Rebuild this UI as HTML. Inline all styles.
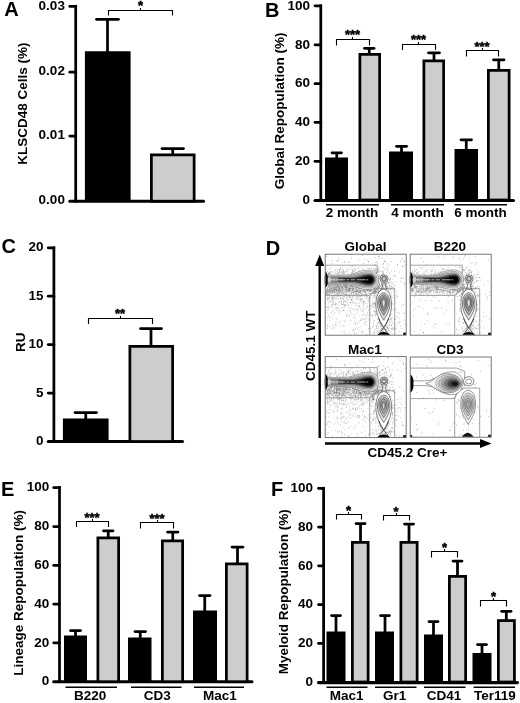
<!DOCTYPE html>
<html lang="en">
<head>
<meta charset="utf-8">
<title>Figure</title>
<style>
html,body{margin:0;padding:0;background:#fff;}
body{width:520px;height:703px;overflow:hidden;}
svg{display:block;font-family:"Liberation Sans",Arial,Helvetica,sans-serif;fill:#000;}
</style>
</head>
<body>
<svg width="520" height="703" viewBox="0 0 520 703">
<rect x="0" y="0" width="520" height="703" fill="#fff"/>
<text x="4.2" y="15.8" font-size="20" text-anchor="start" font-weight="bold">A</text>
<line x1="75.7" y1="4.92" x2="75.7" y2="202.68" stroke="#000" stroke-width="2.75" stroke-linecap="butt"/>
<line x1="69.8" y1="6.3" x2="75.7" y2="6.3" stroke="#000" stroke-width="2.75" stroke-linecap="round"/>
<line x1="69.8" y1="72.2" x2="75.7" y2="72.2" stroke="#000" stroke-width="2.75" stroke-linecap="round"/>
<line x1="69.8" y1="136" x2="75.7" y2="136" stroke="#000" stroke-width="2.75" stroke-linecap="round"/>
<line x1="69.8" y1="201.3" x2="203.5" y2="201.3" stroke="#000" stroke-width="3.05" stroke-linecap="round"/>
<text x="64.9" y="10" font-size="13.5" text-anchor="end" font-weight="bold">0.03</text>
<text x="64.9" y="74.8" font-size="13.5" text-anchor="end" font-weight="bold">0.02</text>
<text x="64.9" y="139.4" font-size="13.5" text-anchor="end" font-weight="bold">0.01</text>
<text x="64.9" y="204.2" font-size="13.5" text-anchor="end" font-weight="bold">0.00</text>
<line x1="107.5" y1="19.25" x2="107.5" y2="52.25" stroke="#000" stroke-width="2.75" stroke-linecap="butt"/>
<line x1="96.5" y1="19.25" x2="118.5" y2="19.25" stroke="#000" stroke-width="2.75" stroke-linecap="round"/>
<rect x="84.9" y="51.25" width="45.7" height="149.95" fill="#000"/>
<line x1="172.75" y1="148.5" x2="172.75" y2="154.5" stroke="#000" stroke-width="2.75" stroke-linecap="butt"/>
<line x1="162" y1="148.5" x2="183.5" y2="148.5" stroke="#000" stroke-width="2.75" stroke-linecap="round"/>
<rect x="151.38" y="154.88" width="42.75" height="46.32" fill="#cdcdcd" stroke="#000" stroke-width="2.75"/>
<path d="M108.5 15.5V10.5H172.5V15.5M140.5 10.5v-2.4" fill="none" stroke="#000" stroke-width="1.1"/>
<text x="140.5" y="9.9" font-size="13" text-anchor="middle" font-weight="bold" stroke="#000" stroke-width=".45">*</text>
<text x="27.2" y="164.8" font-size="13.5" text-anchor="start" font-weight="bold" transform="rotate(-90 27.2 164.8)">KLSCD48 Cells (%)</text>
<text x="265.1" y="16.5" font-size="20" text-anchor="start" font-weight="bold">B</text>
<line x1="320.8" y1="4.42" x2="320.8" y2="201.78" stroke="#000" stroke-width="2.75" stroke-linecap="butt"/>
<line x1="315" y1="5.8" x2="320.8" y2="5.8" stroke="#000" stroke-width="2.75" stroke-linecap="round"/>
<line x1="315" y1="44.8" x2="320.8" y2="44.8" stroke="#000" stroke-width="2.75" stroke-linecap="round"/>
<line x1="315" y1="83.7" x2="320.8" y2="83.7" stroke="#000" stroke-width="2.75" stroke-linecap="round"/>
<line x1="315" y1="122.4" x2="320.8" y2="122.4" stroke="#000" stroke-width="2.75" stroke-linecap="round"/>
<line x1="315" y1="161.3" x2="320.8" y2="161.3" stroke="#000" stroke-width="2.75" stroke-linecap="round"/>
<line x1="315" y1="200.4" x2="513.5" y2="200.4" stroke="#000" stroke-width="3.05" stroke-linecap="round"/>
<text x="310" y="9.5" font-size="13.5" text-anchor="end" font-weight="bold">100</text>
<text x="310" y="48.5" font-size="13.5" text-anchor="end" font-weight="bold">80</text>
<text x="310" y="87.4" font-size="13.5" text-anchor="end" font-weight="bold">60</text>
<text x="310" y="126.1" font-size="13.5" text-anchor="end" font-weight="bold">40</text>
<text x="310" y="165" font-size="13.5" text-anchor="end" font-weight="bold">20</text>
<text x="310" y="203.7" font-size="13.5" text-anchor="end" font-weight="bold">0</text>
<line x1="336.75" y1="152.75" x2="336.75" y2="158.5" stroke="#000" stroke-width="2.75" stroke-linecap="butt"/>
<line x1="332" y1="152.75" x2="341.5" y2="152.75" stroke="#000" stroke-width="2.75" stroke-linecap="round"/>
<rect x="325" y="157.5" width="23" height="42.5" fill="#000"/>
<line x1="369.25" y1="48.25" x2="369.25" y2="54" stroke="#000" stroke-width="2.75" stroke-linecap="butt"/>
<line x1="364.5" y1="48.25" x2="374" y2="48.25" stroke="#000" stroke-width="2.75" stroke-linecap="round"/>
<rect x="359.88" y="54.38" width="19.75" height="145.62" fill="#cdcdcd" stroke="#000" stroke-width="2.75"/>
<line x1="401.5" y1="146.25" x2="401.5" y2="152.5" stroke="#000" stroke-width="2.75" stroke-linecap="butt"/>
<line x1="396.5" y1="146.25" x2="406.5" y2="146.25" stroke="#000" stroke-width="2.75" stroke-linecap="round"/>
<rect x="389" y="151.5" width="24" height="48.5" fill="#000"/>
<line x1="434" y1="52.75" x2="434" y2="60.5" stroke="#000" stroke-width="2.75" stroke-linecap="butt"/>
<line x1="428.5" y1="52.75" x2="439.5" y2="52.75" stroke="#000" stroke-width="2.75" stroke-linecap="round"/>
<rect x="423.88" y="60.88" width="19.75" height="139.12" fill="#cdcdcd" stroke="#000" stroke-width="2.75"/>
<line x1="466.25" y1="139.75" x2="466.25" y2="150" stroke="#000" stroke-width="2.75" stroke-linecap="butt"/>
<line x1="461" y1="139.75" x2="471.5" y2="139.75" stroke="#000" stroke-width="2.75" stroke-linecap="round"/>
<rect x="454.5" y="149" width="23.5" height="51" fill="#000"/>
<line x1="498.75" y1="59.75" x2="498.75" y2="70" stroke="#000" stroke-width="2.75" stroke-linecap="butt"/>
<line x1="493.5" y1="59.75" x2="504" y2="59.75" stroke="#000" stroke-width="2.75" stroke-linecap="round"/>
<rect x="488.38" y="70.38" width="20.75" height="129.62" fill="#cdcdcd" stroke="#000" stroke-width="2.75"/>
<path d="M336.5 45.5V39.5H369.5V45.5M352.5 39.5v-2.4" fill="none" stroke="#000" stroke-width="1.1"/>
<text x="352.5" y="39.4" font-size="13" text-anchor="middle" font-weight="bold" stroke="#000" stroke-width=".45">***</text>
<path d="M402.5 50V44.5H435.5V50M418.5 44.5v-2.4" fill="none" stroke="#000" stroke-width="1.1"/>
<text x="418.5" y="44.4" font-size="13" text-anchor="middle" font-weight="bold" stroke="#000" stroke-width=".45">***</text>
<path d="M466.5 56.5V50.5H498.5V56.5M482.5 50.5v-2.4" fill="none" stroke="#000" stroke-width="1.1"/>
<text x="482" y="51.4" font-size="13" text-anchor="middle" font-weight="bold" stroke="#000" stroke-width=".45">***</text>
<line x1="326" y1="204.75" x2="379" y2="204.75" stroke="#000" stroke-width="1.6" stroke-linecap="butt"/>
<text x="352" y="216.5" font-size="13.5" text-anchor="middle" font-weight="bold">2 month</text>
<line x1="391" y1="204.75" x2="444" y2="204.75" stroke="#000" stroke-width="1.6" stroke-linecap="butt"/>
<text x="417.5" y="216.5" font-size="13.5" text-anchor="middle" font-weight="bold">4 month</text>
<line x1="454.5" y1="204.75" x2="507" y2="204.75" stroke="#000" stroke-width="1.6" stroke-linecap="butt"/>
<text x="480.5" y="216.5" font-size="13.5" text-anchor="middle" font-weight="bold">6 month</text>
<text x="284" y="189.2" font-size="13.5" text-anchor="start" font-weight="bold" transform="rotate(-90 284 189.2)">Global Repopulation (%)</text>
<text x="1.4" y="252.5" font-size="20" text-anchor="start" font-weight="bold">C</text>
<line x1="53.9" y1="246.38" x2="53.9" y2="442.77" stroke="#000" stroke-width="2.75" stroke-linecap="butt"/>
<line x1="48.2" y1="247.75" x2="53.9" y2="247.75" stroke="#000" stroke-width="2.75" stroke-linecap="round"/>
<line x1="48.2" y1="296.2" x2="53.9" y2="296.2" stroke="#000" stroke-width="2.75" stroke-linecap="round"/>
<line x1="48.2" y1="344.6" x2="53.9" y2="344.6" stroke="#000" stroke-width="2.75" stroke-linecap="round"/>
<line x1="48.2" y1="393.1" x2="53.9" y2="393.1" stroke="#000" stroke-width="2.75" stroke-linecap="round"/>
<line x1="48.2" y1="441.4" x2="182.5" y2="441.4" stroke="#000" stroke-width="3.05" stroke-linecap="round"/>
<text x="43.6" y="251.45" font-size="13.5" text-anchor="end" font-weight="bold">20</text>
<text x="43.6" y="299.9" font-size="13.5" text-anchor="end" font-weight="bold">15</text>
<text x="43.6" y="348.3" font-size="13.5" text-anchor="end" font-weight="bold">10</text>
<text x="43.6" y="396.8" font-size="13.5" text-anchor="end" font-weight="bold">5</text>
<text x="43.6" y="445" font-size="13.5" text-anchor="end" font-weight="bold">0</text>
<line x1="85.75" y1="412.5" x2="85.75" y2="419.5" stroke="#000" stroke-width="2.75" stroke-linecap="butt"/>
<line x1="75" y1="412.5" x2="96.5" y2="412.5" stroke="#000" stroke-width="2.75" stroke-linecap="round"/>
<rect x="62.9" y="418.5" width="45.7" height="23" fill="#000"/>
<line x1="151" y1="328.5" x2="151" y2="346" stroke="#000" stroke-width="2.75" stroke-linecap="butt"/>
<line x1="140.5" y1="328.5" x2="161.5" y2="328.5" stroke="#000" stroke-width="2.75" stroke-linecap="round"/>
<rect x="129.88" y="346.38" width="42.75" height="95.12" fill="#cdcdcd" stroke="#000" stroke-width="2.75"/>
<path d="M88.5 324V318.5H152.5V324M120.5 318.5v-2.4" fill="none" stroke="#000" stroke-width="1.1"/>
<text x="120" y="318.4" font-size="13" text-anchor="middle" font-weight="bold" stroke="#000" stroke-width=".45">**</text>
<text x="24.5" y="352" font-size="13.5" text-anchor="start" font-weight="bold" transform="rotate(-90 24.5 352)">RU</text>
<text x="1.1" y="495.6" font-size="20" text-anchor="start" font-weight="bold">E</text>
<line x1="59.5" y1="486.12" x2="59.5" y2="683.08" stroke="#000" stroke-width="2.75" stroke-linecap="butt"/>
<line x1="53.7" y1="487.5" x2="59.5" y2="487.5" stroke="#000" stroke-width="2.75" stroke-linecap="round"/>
<line x1="53.7" y1="526.5" x2="59.5" y2="526.5" stroke="#000" stroke-width="2.75" stroke-linecap="round"/>
<line x1="53.7" y1="565.3" x2="59.5" y2="565.3" stroke="#000" stroke-width="2.75" stroke-linecap="round"/>
<line x1="53.7" y1="604" x2="59.5" y2="604" stroke="#000" stroke-width="2.75" stroke-linecap="round"/>
<line x1="53.7" y1="642.8" x2="59.5" y2="642.8" stroke="#000" stroke-width="2.75" stroke-linecap="round"/>
<line x1="53.7" y1="681.7" x2="252" y2="681.7" stroke="#000" stroke-width="3.05" stroke-linecap="round"/>
<text x="49.2" y="491.2" font-size="13.5" text-anchor="end" font-weight="bold">100</text>
<text x="49.2" y="530.2" font-size="13.5" text-anchor="end" font-weight="bold">80</text>
<text x="49.2" y="569" font-size="13.5" text-anchor="end" font-weight="bold">60</text>
<text x="49.2" y="607.7" font-size="13.5" text-anchor="end" font-weight="bold">40</text>
<text x="49.2" y="646.5" font-size="13.5" text-anchor="end" font-weight="bold">20</text>
<text x="49.2" y="685.4" font-size="13.5" text-anchor="end" font-weight="bold">0</text>
<line x1="75.5" y1="630.5" x2="75.5" y2="636.5" stroke="#000" stroke-width="2.75" stroke-linecap="butt"/>
<line x1="70.5" y1="630.5" x2="80.5" y2="630.5" stroke="#000" stroke-width="2.75" stroke-linecap="round"/>
<rect x="64" y="635.5" width="23" height="46.2" fill="#000"/>
<line x1="108.25" y1="530.75" x2="108.25" y2="537.5" stroke="#000" stroke-width="2.75" stroke-linecap="butt"/>
<line x1="103.5" y1="530.75" x2="113" y2="530.75" stroke="#000" stroke-width="2.75" stroke-linecap="round"/>
<rect x="97.88" y="537.88" width="20.75" height="143.83" fill="#cdcdcd" stroke="#000" stroke-width="2.75"/>
<line x1="140.25" y1="631.5" x2="140.25" y2="638.5" stroke="#000" stroke-width="2.75" stroke-linecap="butt"/>
<line x1="135" y1="631.5" x2="145.5" y2="631.5" stroke="#000" stroke-width="2.75" stroke-linecap="round"/>
<rect x="128" y="637.5" width="23.5" height="44.2" fill="#000"/>
<line x1="172.75" y1="532" x2="172.75" y2="540.5" stroke="#000" stroke-width="2.75" stroke-linecap="butt"/>
<line x1="167.5" y1="532" x2="178" y2="532" stroke="#000" stroke-width="2.75" stroke-linecap="round"/>
<rect x="162.38" y="540.88" width="20.25" height="140.83" fill="#cdcdcd" stroke="#000" stroke-width="2.75"/>
<line x1="204.75" y1="595.5" x2="204.75" y2="611.5" stroke="#000" stroke-width="2.75" stroke-linecap="butt"/>
<line x1="199.5" y1="595.5" x2="210" y2="595.5" stroke="#000" stroke-width="2.75" stroke-linecap="round"/>
<rect x="193" y="610.5" width="24" height="71.2" fill="#000"/>
<line x1="237.5" y1="547" x2="237.5" y2="563.5" stroke="#000" stroke-width="2.75" stroke-linecap="butt"/>
<line x1="232" y1="547" x2="243" y2="547" stroke="#000" stroke-width="2.75" stroke-linecap="round"/>
<rect x="226.38" y="563.88" width="20.75" height="117.83" fill="#cdcdcd" stroke="#000" stroke-width="2.75"/>
<path d="M76.5 527V521.5H108.5V527M92.5 521.5v-2.4" fill="none" stroke="#000" stroke-width="1.1"/>
<text x="92" y="522.4" font-size="13" text-anchor="middle" font-weight="bold" stroke="#000" stroke-width=".45">***</text>
<path d="M140.5 528.5V522.5H173.5V528.5M157.5 522.5v-2.4" fill="none" stroke="#000" stroke-width="1.1"/>
<text x="157" y="523.4" font-size="13" text-anchor="middle" font-weight="bold" stroke="#000" stroke-width=".45">***</text>
<line x1="65.5" y1="687.25" x2="117" y2="687.25" stroke="#000" stroke-width="1.6" stroke-linecap="butt"/>
<text x="90.25" y="700" font-size="13.5" text-anchor="middle" font-weight="bold">B220</text>
<line x1="131" y1="687.25" x2="181.5" y2="687.25" stroke="#000" stroke-width="1.6" stroke-linecap="butt"/>
<text x="157.25" y="700" font-size="13.5" text-anchor="middle" font-weight="bold">CD3</text>
<line x1="194" y1="687.25" x2="244" y2="687.25" stroke="#000" stroke-width="1.6" stroke-linecap="butt"/>
<text x="220" y="700" font-size="13.5" text-anchor="middle" font-weight="bold">Mac1</text>
<text x="23.2" y="675.7" font-size="13.5" text-anchor="start" font-weight="bold" transform="rotate(-90 23.2 675.7)">Lineage Repopulation (%)</text>
<text x="271" y="495.6" font-size="20" text-anchor="start" font-weight="bold">F</text>
<line x1="323.6" y1="486.88" x2="323.6" y2="683.98" stroke="#000" stroke-width="2.75" stroke-linecap="butt"/>
<line x1="318.5" y1="488.25" x2="323.6" y2="488.25" stroke="#000" stroke-width="2.75" stroke-linecap="round"/>
<line x1="318.5" y1="527" x2="323.6" y2="527" stroke="#000" stroke-width="2.75" stroke-linecap="round"/>
<line x1="318.5" y1="565.8" x2="323.6" y2="565.8" stroke="#000" stroke-width="2.75" stroke-linecap="round"/>
<line x1="318.5" y1="604.5" x2="323.6" y2="604.5" stroke="#000" stroke-width="2.75" stroke-linecap="round"/>
<line x1="318.5" y1="643.3" x2="323.6" y2="643.3" stroke="#000" stroke-width="2.75" stroke-linecap="round"/>
<line x1="318.5" y1="682.6" x2="517.5" y2="682.6" stroke="#000" stroke-width="3.05" stroke-linecap="round"/>
<text x="313" y="491.95" font-size="13.5" text-anchor="end" font-weight="bold">100</text>
<text x="313" y="530.7" font-size="13.5" text-anchor="end" font-weight="bold">80</text>
<text x="313" y="569.5" font-size="13.5" text-anchor="end" font-weight="bold">60</text>
<text x="313" y="608.2" font-size="13.5" text-anchor="end" font-weight="bold">40</text>
<text x="313" y="647" font-size="13.5" text-anchor="end" font-weight="bold">20</text>
<text x="313" y="685.6" font-size="13.5" text-anchor="end" font-weight="bold">0</text>
<line x1="336" y1="615.5" x2="336" y2="632.5" stroke="#000" stroke-width="2.75" stroke-linecap="butt"/>
<line x1="331.5" y1="615.5" x2="340.5" y2="615.5" stroke="#000" stroke-width="2.75" stroke-linecap="round"/>
<rect x="326.5" y="631.5" width="19" height="50.5" fill="#000"/>
<line x1="360.5" y1="523.5" x2="360.5" y2="542" stroke="#000" stroke-width="2.75" stroke-linecap="butt"/>
<line x1="356" y1="523.5" x2="365" y2="523.5" stroke="#000" stroke-width="2.75" stroke-linecap="round"/>
<rect x="352.38" y="542.38" width="15.75" height="139.62" fill="#cdcdcd" stroke="#000" stroke-width="2.75"/>
<line x1="385" y1="615.5" x2="385" y2="632.5" stroke="#000" stroke-width="2.75" stroke-linecap="butt"/>
<line x1="380.5" y1="615.5" x2="389.5" y2="615.5" stroke="#000" stroke-width="2.75" stroke-linecap="round"/>
<rect x="375" y="631.5" width="19" height="50.5" fill="#000"/>
<line x1="409" y1="524" x2="409" y2="542" stroke="#000" stroke-width="2.75" stroke-linecap="butt"/>
<line x1="404.5" y1="524" x2="413.5" y2="524" stroke="#000" stroke-width="2.75" stroke-linecap="round"/>
<rect x="400.88" y="542.38" width="16.25" height="139.62" fill="#cdcdcd" stroke="#000" stroke-width="2.75"/>
<line x1="433.5" y1="621.5" x2="433.5" y2="635.5" stroke="#000" stroke-width="2.75" stroke-linecap="butt"/>
<line x1="429" y1="621.5" x2="438" y2="621.5" stroke="#000" stroke-width="2.75" stroke-linecap="round"/>
<rect x="424" y="634.5" width="19" height="47.5" fill="#000"/>
<line x1="457.5" y1="561" x2="457.5" y2="576" stroke="#000" stroke-width="2.75" stroke-linecap="butt"/>
<line x1="453" y1="561" x2="462" y2="561" stroke="#000" stroke-width="2.75" stroke-linecap="round"/>
<rect x="449.38" y="576.38" width="16.25" height="105.62" fill="#cdcdcd" stroke="#000" stroke-width="2.75"/>
<line x1="482" y1="644.5" x2="482" y2="654" stroke="#000" stroke-width="2.75" stroke-linecap="butt"/>
<line x1="477.5" y1="644.5" x2="486.5" y2="644.5" stroke="#000" stroke-width="2.75" stroke-linecap="round"/>
<rect x="472.5" y="653" width="19" height="29" fill="#000"/>
<line x1="506.3" y1="611.25" x2="506.3" y2="620.2" stroke="#000" stroke-width="2.75" stroke-linecap="butt"/>
<line x1="501.6" y1="611.25" x2="511" y2="611.25" stroke="#000" stroke-width="2.75" stroke-linecap="round"/>
<rect x="498.38" y="620.58" width="16.05" height="61.42" fill="#cdcdcd" stroke="#000" stroke-width="2.75"/>
<path d="M336.5 519.5V514.5H361.5V519.5M348.5 514.5v-2.4" fill="none" stroke="#000" stroke-width="1.1"/>
<text x="348.5" y="514.9" font-size="13" text-anchor="middle" font-weight="bold" stroke="#000" stroke-width=".45">*</text>
<path d="M383.5 520.5V515.5H409.5V520.5M396.5 515.5v-2.4" fill="none" stroke="#000" stroke-width="1.1"/>
<text x="396" y="515.9" font-size="13" text-anchor="middle" font-weight="bold" stroke="#000" stroke-width=".45">*</text>
<path d="M431.5 557.5V551.5H457.5V557.5M444.5 551.5v-2.4" fill="none" stroke="#000" stroke-width="1.1"/>
<text x="444.5" y="552.4" font-size="13" text-anchor="middle" font-weight="bold" stroke="#000" stroke-width=".45">*</text>
<path d="M480.5 606.6V600.5H506.5V606.6M493.5 600.5v-2.4" fill="none" stroke="#000" stroke-width="1.1"/>
<text x="493.6" y="601.3" font-size="13" text-anchor="middle" font-weight="bold" stroke="#000" stroke-width=".45">*</text>
<line x1="326.5" y1="687.25" x2="367.5" y2="687.25" stroke="#000" stroke-width="1.6" stroke-linecap="butt"/>
<text x="346.75" y="700" font-size="13.5" text-anchor="middle" font-weight="bold">Mac1</text>
<line x1="375" y1="687.25" x2="416.5" y2="687.25" stroke="#000" stroke-width="1.6" stroke-linecap="butt"/>
<text x="394.75" y="700" font-size="13.5" text-anchor="middle" font-weight="bold">Gr1</text>
<line x1="424" y1="687.25" x2="465.5" y2="687.25" stroke="#000" stroke-width="1.6" stroke-linecap="butt"/>
<text x="444" y="700" font-size="13.5" text-anchor="middle" font-weight="bold">CD41</text>
<line x1="473.6" y1="687.25" x2="515" y2="687.25" stroke="#000" stroke-width="1.6" stroke-linecap="butt"/>
<text x="495" y="700" font-size="13.5" text-anchor="middle" font-weight="bold">Ter119</text>
<text x="287.7" y="674.3" font-size="13.5" text-anchor="start" font-weight="bold" transform="rotate(-90 287.7 674.3)">Myeloid Repopulation (%)</text>
<text x="265.8" y="254.6" font-size="20" text-anchor="start" font-weight="bold">D</text>
<line x1="319.7" y1="438" x2="319.7" y2="263" stroke="#000" stroke-width="2.4" stroke-linecap="butt"/>
<path d="M319.7 254.5L315.2 266H324.2Z" fill="#000"/>
<line x1="325" y1="443.5" x2="482" y2="443.5" stroke="#000" stroke-width="2.4" stroke-linecap="butt"/>
<path d="M491.5 443.5L480 439V448Z" fill="#000"/>
<text x="315" y="381" font-size="13.5" text-anchor="start" font-weight="bold" transform="rotate(-90 315 381)">CD45.1 WT</text>
<text x="407.5" y="456.5" font-size="13.5" text-anchor="middle" font-weight="bold">CD45.2 Cre+</text>
<text x="365.5" y="251" font-size="13.5" text-anchor="middle" font-weight="bold">Global</text>
<text x="450" y="250.5" font-size="13.5" text-anchor="middle" font-weight="bold">B220</text>
<text x="365" y="353.5" font-size="13.5" text-anchor="middle" font-weight="bold">Mac1</text>
<text x="450" y="353.5" font-size="13.5" text-anchor="middle" font-weight="bold">CD3</text>
<g transform="translate(325.2 254.2) scale(1 1)">
<rect x="0" y="0" width="81" height="81" fill="#fff" stroke="#666" stroke-width=".9"/>
<path d="M24.4 26.0h0.62M25.1 30.6h0.62M27.4 31.6h0.62M27.6 32.4h0.62M34.0 34.0h0.62M16.4 32.1h0.62M4.9 35.6h0.62M2.3 28.4h0.62M53.0 38.7h0.62M33.2 32.4h0.62M8.5 38.0h0.62M3.2 34.0h0.62M10.3 33.6h0.62M25.1 34.5h0.62M23.8 36.0h0.62M34.6 30.0h0.62M27.0 31.5h0.62M15.0 30.2h0.62M53.9 40.5h0.62M38.2 33.4h0.62M17.0 34.0h0.62M3.8 36.5h0.62M41.4 28.0h0.62M20.9 37.7h0.62M51.7 33.7h0.62M11.3 33.5h0.62M49.2 23.7h0.62M21.5 35.5h0.62M3.9 29.3h0.62M14.6 29.1h0.62M4.7 29.0h0.62M40.9 41.7h0.62M6.4 33.6h0.62M3.2 35.3h0.62M43.0 35.6h0.62M24.2 37.7h0.62M10.3 33.4h0.62M34.8 31.7h0.62M6.3 31.4h0.62M14.6 34.8h0.62M52.4 34.6h0.62M47.8 30.7h0.62M11.4 28.0h0.62M34.7 38.0h0.62M5.4 36.1h0.62M13.9 33.4h0.62M41.7 32.2h0.62M4.0 36.3h0.62M4.9 31.3h0.62M32.5 32.3h0.62M20.1 24.9h0.62M26.1 36.2h0.62M31.0 35.1h0.62M8.3 31.9h0.62M49.1 34.7h0.62M10.2 31.1h0.62M39.9 35.8h0.62M51.3 32.7h0.62M47.6 30.6h0.62M5.6 31.3h0.62M2.1 36.2h0.62M38.0 33.0h0.62M13.9 35.8h0.62M15.8 29.3h0.62M9.5 33.3h0.62M12.3 32.3h0.62M30.2 36.6h0.62M15.1 29.6h0.62M49.5 33.8h0.62M14.5 34.2h0.62M24.1 35.7h0.62M19.9 34.4h0.62M30.9 35.9h0.62M48.1 36.1h0.62M52.9 30.6h0.62M31.6 29.0h0.62M7.6 34.3h0.62M49.2 33.7h0.62M37.9 34.3h0.62M34.4 33.4h0.62M26.0 33.2h0.62M54.0 30.5h0.62M4.1 28.0h0.62M48.6 31.9h0.62M39.8 31.8h0.62M49.4 27.5h0.62M19.0 30.5h0.62M47.0 26.5h0.62M22.5 35.4h0.62M30.9 26.6h0.62M33.7 30.1h0.62M32.9 36.8h0.62M4.3 26.3h0.62M47.5 24.8h0.62M39.3 29.1h0.62M31.4 37.4h0.62M23.8 34.4h0.62M40.5 32.3h0.62M1.6 30.3h0.62M12.4 31.1h0.62M37.7 28.6h0.62M49.7 33.7h0.62M13.8 36.6h0.62M36.6 33.8h0.62M10.9 37.4h0.62M35.6 40.4h0.62M23.9 36.1h0.62M36.0 31.6h0.62M10.7 27.7h0.62M49.4 36.3h0.62M47.5 30.0h0.62M17.1 36.8h0.62M7.4 26.7h0.62M45.8 33.8h0.62M38.4 36.4h0.62M9.1 32.7h0.62M24.3 33.2h0.62M22.4 36.1h0.62M33.8 30.5h0.62M45.3 33.7h0.62M53.0 32.2h0.62M1.7 34.0h0.62M47.1 39.1h0.62M30.8 35.1h0.62M16.7 33.8h0.62M7.3 32.9h0.62M24.6 40.3h0.62M12.8 34.6h0.62M7.6 38.5h0.62M24.1 35.1h0.62M34.0 29.9h0.62M51.8 28.2h0.62M37.0 34.9h0.62M9.6 37.5h0.62M9.7 34.6h0.62M14.7 30.5h0.62M28.1 38.2h0.62M33.2 33.7h0.62M42.8 30.0h0.62M48.9 40.7h0.62M39.0 38.0h0.62M7.0 28.8h0.62M49.1 35.1h0.62M20.3 26.9h0.62M43.0 30.5h0.62M51.0 28.5h0.62M11.1 34.8h0.62M39.0 35.7h0.62M38.8 28.9h0.62M11.5 41.8h0.62M52.8 27.7h0.62M29.0 34.4h0.62M49.1 30.5h0.62M46.2 32.7h0.62M23.8 34.8h0.62M29.7 34.1h0.62M1.5 29.5h0.62M43.7 39.5h0.62M9.3 36.1h0.62M18.1 34.1h0.62M8.0 31.7h0.62M27.9 32.5h0.62M37.2 26.8h0.62M51.1 24.8h0.62M4.6 34.0h0.62M12.0 30.7h0.62M39.4 33.1h0.62M34.5 26.7h0.62M30.2 32.6h0.62M16.8 28.5h0.62M48.6 38.3h0.62M11.2 39.2h0.62M28.3 26.0h0.62M30.9 35.0h0.62M27.2 37.9h0.62M32.7 43.0h0.62M27.9 35.2h0.62M21.6 35.1h0.62M26.5 29.2h0.62M37.3 37.7h0.62M22.3 35.4h0.62M51.7 36.1h0.62M25.6 32.3h0.62M6.9 27.5h0.62M48.6 36.3h0.62M25.7 32.6h0.62M33.4 35.7h0.62M50.0 37.9h0.62M1.2 38.1h0.62M10.5 34.4h0.62M17.4 39.0h0.62M19.2 32.4h0.62M39.5 32.4h0.62M6.6 30.9h0.62M10.7 33.4h0.62M28.6 30.4h0.62M22.3 35.0h0.62M28.6 34.9h0.62M34.1 35.7h0.62M34.5 26.7h0.62M33.0 32.3h0.62M46.3 34.2h0.62M43.8 39.5h0.62M48.7 32.3h0.62M49.8 36.5h0.62M11.8 41.1h0.62M7.2 33.5h0.62M12.9 33.2h0.62M5.2 30.8h0.62M44.9 28.0h0.62M6.8 36.6h0.62M21.8 33.3h0.62M10.9 33.0h0.62M36.8 41.6h0.62M6.2 28.6h0.62M27.3 33.8h0.62M37.0 29.3h0.62M10.2 35.1h0.62M2.0 34.3h0.62M29.8 29.0h0.62M7.9 33.2h0.62M10.0 35.6h0.62M53.5 40.2h0.62M50.1 34.7h0.62M51.4 34.3h0.62M25.0 33.9h0.62M25.2 30.4h0.62M27.8 29.2h0.62M37.9 34.9h0.62M24.5 31.7h0.62M39.9 31.6h0.62M8.9 34.9h0.62M27.7 41.2h0.62M43.3 34.3h0.62M38.1 36.9h0.62M21.8 29.7h0.62M32.4 23.4h0.62M43.5 33.3h0.62M13.9 38.6h0.62M42.0 30.5h0.62M44.0 27.2h0.62M47.5 37.9h0.62M37.5 34.3h0.62M21.9 27.5h0.62M39.0 36.6h0.62M25.3 35.0h0.62M33.7 37.6h0.62M12.5 38.6h0.62M18.2 31.8h0.62M35.6 29.6h0.62M21.0 31.7h0.62M54.0 30.1h0.62M41.1 29.2h0.62M52.9 38.5h0.62M39.9 34.3h0.62M13.9 32.7h0.62M10.6 34.3h0.62M20.3 35.8h0.62M48.9 35.2h0.62M29.7 24.2h0.62M30.7 33.1h0.62M53.7 29.4h0.62M4.1 28.6h0.62M32.3 33.7h0.62M50.2 32.5h0.62M8.6 31.4h0.62M26.8 34.0h0.62M33.0 41.7h0.62M22.7 36.7h0.62M28.4 30.8h0.62M15.4 31.6h0.62M35.4 30.9h0.62M38.7 32.5h0.62M16.0 36.3h0.62M2.3 33.8h0.62M8.5 33.7h0.62M48.5 30.0h0.62M40.4 43.9h0.62M51.0 36.9h0.62M4.0 36.8h0.62M25.8 31.5h0.62M52.6 33.8h0.62M50.6 38.0h0.62M39.0 23.8h0.62M44.1 35.6h0.62M32.6 37.4h0.62M24.6 36.9h0.62M11.0 37.8h0.62M6.7 35.0h0.62M23.9 31.6h0.62M14.2 30.1h0.62M31.4 28.1h0.62M28.7 36.6h0.62M53.9 39.2h0.62M12.9 31.9h0.62M6.1 38.5h0.62M33.7 29.7h0.62M19.4 32.9h0.62M30.5 39.0h0.62M32.0 29.6h0.62M10.3 29.1h0.62M13.4 41.5h0.62M47.5 32.6h0.62M2.1 36.3h0.62M23.0 34.7h0.62M33.7 37.2h0.62M3.9 36.3h0.62M4.7 31.6h0.62M34.1 29.5h0.62M20.2 31.1h0.62M18.6 33.9h0.62M40.2 34.3h0.62M6.5 32.4h0.62M43.7 29.2h0.62M11.5 29.3h0.62M22.9 33.3h0.62M19.9 40.2h0.62M35.3 36.8h0.62M29.6 33.4h0.62M40.3 36.9h0.62M19.9 31.8h0.62M5.2 34.6h0.62M4.5 32.6h0.62M30.5 28.2h0.62M16.1 34.1h0.62M41.9 35.8h0.62M35.8 34.7h0.62M4.4 31.7h0.62M37.5 39.1h0.62M15.3 35.7h0.62M39.2 36.2h0.62M19.8 37.8h0.62M30.7 37.4h0.62M49.6 41.0h0.62M23.7 30.7h0.62M43.4 32.5h0.62M21.6 36.6h0.62M50.5 35.7h0.62M19.5 31.9h0.62M19.7 31.2h0.62M20.9 36.3h0.62M10.5 27.7h0.62M29.2 31.1h0.62M45.2 31.5h0.62M41.0 32.7h0.62M47.6 33.5h0.62M27.8 34.3h0.62M29.4 25.1h0.62M35.2 29.7h0.62M43.4 37.8h0.62M42.6 35.4h0.62M4.5 38.7h0.62M48.5 36.5h0.62M4.6 32.3h0.62M40.3 32.1h0.62M35.0 33.7h0.62M41.3 36.1h0.62M28.2 33.9h0.62M18.2 30.0h0.62M52.3 31.6h0.62M29.0 29.9h0.62M38.9 31.5h0.62M22.2 25.9h0.62M44.6 30.1h0.62M43.5 27.5h0.62M45.0 40.5h0.62M34.6 27.8h0.62M28.3 32.0h0.62M22.8 27.3h0.62M22.7 37.2h0.62M53.5 38.3h0.62M20.3 34.8h0.62M22.9 35.7h0.62M15.8 34.8h0.62M16.7 33.4h0.62M6.2 29.9h0.62M9.7 28.6h0.62M3.4 29.0h0.62M49.1 34.8h0.62M2.0 35.4h0.62M11.7 35.1h0.62M12.7 32.6h0.62M12.1 28.9h0.62M10.0 33.2h0.62M40.9 35.8h0.62M16.8 27.3h0.62M25.9 31.6h0.62M14.1 39.7h0.62M18.5 28.4h0.62M29.6 37.6h0.62M11.9 32.5h0.62M2.7 39.7h0.62M20.8 31.5h0.62M28.5 30.7h0.62M53.5 33.3h0.62M35.5 33.6h0.62M25.5 34.1h0.62M20.1 35.2h0.62M32.7 28.2h0.62M8.5 35.4h0.62M14.0 36.2h0.62M46.9 28.5h0.62M53.6 33.1h0.62M14.4 31.6h0.62M41.6 33.2h0.62M44.4 27.3h0.62M4.5 32.9h0.62M5.2 39.3h0.62M25.9 24.8h0.62M31.7 35.4h0.62M46.3 31.5h0.62M22.5 39.6h0.62M49.5 39.3h0.62M11.3 37.2h0.62M29.3 31.5h0.62M44.9 33.3h0.62M16.8 33.1h0.62M16.5 34.9h0.62M25.2 32.9h0.62M37.1 30.3h0.62M5.7 30.4h0.62M52.2 36.1h0.62M44.8 33.3h0.62M20.4 33.1h0.62M38.3 34.0h0.62M24.7 38.2h0.62M11.2 33.3h0.62M33.3 32.7h0.62M29.1 37.0h0.62M16.1 31.7h0.62M36.0 36.7h0.62M13.8 35.4h0.62M17.8 39.2h0.62M51.0 28.3h0.62M17.9 31.4h0.62M44.7 35.3h0.62M5.1 34.7h0.62M36.6 33.0h0.62M21.7 31.4h0.62M45.2 32.3h0.62M12.2 32.7h0.62M8.5 36.2h0.62M3.9 36.2h0.62M49.7 29.7h0.62M35.0 35.5h0.62M41.4 35.1h0.62M17.9 30.4h0.62M22.3 37.2h0.62M37.8 34.0h0.62M53.0 34.9h0.62M32.9 28.5h0.62M1.0 32.0h0.62M35.1 36.5h0.62M5.7 30.5h0.62M42.6 36.6h0.62M44.6 32.0h0.62M41.4 32.2h0.62M48.8 30.4h0.62M27.0 32.6h0.62M7.7 31.2h0.62M27.9 23.3h0.62M38.6 34.8h0.62M51.0 31.6h0.62M33.9 34.1h0.62M13.2 35.0h0.62M31.1 32.6h0.62M50.2 30.6h0.62M19.5 31.8h0.62M52.6 34.0h0.62M7.3 37.3h0.62M30.3 31.0h0.62M30.3 32.9h0.62M53.6 41.5h0.62M44.1 32.1h0.62M44.5 32.5h0.62M15.6 35.7h0.62M31.0 32.0h0.62M44.9 35.4h0.62M4.1 37.8h0.62M1.7 38.1h0.62M50.7 43.2h0.62M35.6 31.7h0.62M39.8 38.6h0.62M20.6 28.2h0.62M0.9 30.1h0.62M10.8 31.6h0.62M20.9 34.0h0.62M30.8 35.6h0.62M14.2 37.5h0.62M30.7 31.1h0.62M2.0 38.1h0.62M36.2 39.2h0.62M32.4 40.8h0.62M25.4 29.3h0.62M37.2 36.3h0.62M40.9 33.6h0.62M53.7 29.4h0.62M45.3 35.9h0.62M23.4 30.7h0.62M30.6 37.2h0.62M28.4 31.1h0.62M23.3 36.2h0.62M3.0 31.8h0.62M39.2 38.3h0.62M32.3 30.2h0.62M40.6 32.0h0.62M3.8 38.1h0.62M6.7 29.6h0.62M21.4 35.0h0.62M2.8 32.1h0.62M12.9 29.5h0.62M16.5 31.5h0.62M3.7 35.2h0.62M49.2 38.8h0.62M46.8 32.5h0.62M22.8 34.5h0.62M40.3 31.2h0.62M30.6 34.9h0.62M42.8 32.7h0.62M6.7 25.0h0.62M13.2 32.6h0.62M3.4 36.6h0.62M48.3 35.0h0.62M19.3 30.3h0.62M31.6 34.5h0.62M48.5 33.9h0.62M16.6 25.2h0.62M52.8 33.7h0.62M25.5 34.4h0.62M49.8 36.5h0.62M48.4 35.9h0.62M19.1 40.1h0.62M25.5 37.1h0.62M53.8 40.1h0.62M10.9 32.0h0.62M47.5 31.9h0.62M2.7 38.2h0.62M16.9 37.2h0.62M48.6 37.5h0.62M7.3 29.4h0.62M37.6 37.2h0.62M4.3 32.1h0.62M12.1 31.6h0.62M10.6 38.9h0.62M9.8 34.1h0.62M42.7 38.9h0.62M20.1 29.7h0.62M31.9 27.2h0.62M12.4 31.0h0.62M36.0 41.4h0.62M14.9 32.6h0.62M53.1 32.4h0.62M23.8 29.2h0.62M2.4 32.8h0.62M32.4 33.0h0.62M43.4 36.3h0.62M4.7 32.3h0.62M13.3 39.5h0.62M15.1 31.4h0.62M48.4 32.9h0.62M53.3 37.5h0.62M40.5 34.4h0.62M20.8 37.4h0.62M9.7 31.8h0.62M30.0 31.5h0.62M35.5 30.9h0.62M42.3 29.4h0.62M45.7 33.2h0.62M37.0 24.8h0.62M9.4 32.5h0.62M42.1 36.1h0.62M12.7 37.8h0.62M23.8 34.5h0.62M42.7 27.3h0.62M12.7 31.1h0.62M31.3 33.8h0.62M26.9 38.3h0.62M38.6 34.7h0.62M30.9 35.2h0.62M8.2 32.0h0.62M1.0 29.8h0.62M23.9 33.7h0.62M14.2 34.0h0.62M49.0 32.3h0.62M30.7 27.5h0.62M12.9 31.9h0.62M7.9 33.2h0.62M17.0 34.6h0.62M33.5 30.8h0.62M31.8 33.2h0.62M4.8 34.5h0.62M13.8 31.6h0.62M8.6 31.1h0.62M42.5 27.3h0.62M3.3 30.7h0.62M11.7 35.4h0.62M52.4 37.6h0.62M41.1 34.7h0.62M53.3 36.0h0.62M40.2 36.7h0.62M2.1 34.0h0.62M7.6 41.2h0.62M21.2 32.5h0.62M4.1 37.2h0.62M1.9 39.7h0.62M39.6 33.5h0.62M12.4 33.5h0.62M13.1 38.2h0.62M24.9 36.7h0.62M18.2 32.2h0.62M53.0 32.8h0.62M21.8 32.9h0.62M35.1 36.7h0.62M37.5 34.8h0.62M46.7 27.3h0.62M25.0 29.6h0.62M21.2 35.5h0.62M42.2 30.7h0.62M11.6 32.3h0.62M29.7 35.5h0.62M8.8 34.3h0.62M25.3 36.0h0.62M16.7 22.8h0.62M36.7 37.3h0.62M46.6 34.6h0.62M3.9 37.0h0.62M37.3 31.7h0.62M1.0 35.8h0.62M9.8 33.3h0.62M49.9 37.2h0.62M38.6 33.2h0.62M8.3 37.0h0.62M50.6 29.7h0.62M39.1 38.3h0.62M49.0 36.7h0.62M20.8 34.0h0.62M4.5 36.0h0.62M41.6 31.4h0.62M28.0 37.0h0.62M12.9 34.8h0.62M2.2 36.4h0.62M1.7 37.5h0.62M16.9 29.6h0.62M7.3 35.7h0.62M38.2 33.2h0.62M36.0 39.4h0.62M7.9 34.4h0.62M38.5 36.4h0.62M21.9 28.1h0.62M12.2 38.3h0.62M15.8 32.2h0.62M2.2 35.7h0.62M1.3 30.4h0.62M43.7 30.2h0.62M52.7 32.0h0.62M49.6 38.7h0.62M11.7 31.6h0.62M51.6 28.6h0.62M46.9 34.1h0.62M4.9 38.7h0.62M23.1 32.6h0.62M20.7 34.4h0.62M17.7 30.7h0.62M8.6 33.7h0.62M21.7 31.5h0.62M35.9 33.9h0.62M12.9 36.3h0.62M22.8 35.4h0.62M8.1 28.7h0.62M29.9 30.8h0.62M37.8 37.2h0.62M19.7 34.1h0.62M3.4 32.6h0.62M26.8 34.3h0.62M31.6 30.5h0.62M13.7 34.2h0.62M1.3 29.3h0.62M30.5 39.8h0.62M14.1 32.5h0.62M25.3 31.6h0.62M33.2 36.9h0.62M31.1 32.6h0.62M50.9 34.3h0.62M33.5 28.6h0.62M22.2 31.1h0.62M44.8 35.1h0.62M47.5 27.8h0.62M2.1 38.9h0.62M7.3 30.5h0.62M19.5 33.5h0.62M52.8 35.0h0.62M12.3 35.5h0.62M36.7 33.6h0.62M29.4 33.8h0.62M21.3 33.9h0.62M35.1 37.8h0.62M29.6 30.3h0.62M44.9 30.3h0.62M52.3 31.9h0.62M47.9 36.5h0.62M16.9 32.4h0.62M37.1 28.2h0.62M52.1 34.6h0.62M33.6 31.7h0.62M26.5 30.4h0.62M15.4 32.3h0.62M40.4 31.0h0.62M13.5 33.0h0.62M17.5 35.5h0.62M6.8 37.5h0.62M3.4 35.1h0.62M38.1 34.3h0.62M6.1 27.7h0.62M26.0 35.5h0.62M8.8 38.5h0.62M2.9 28.2h0.62M13.7 27.2h0.62M21.2 33.3h0.62M38.7 33.5h0.62M17.7 39.3h0.62M18.0 34.0h0.62M44.7 26.7h0.62M30.6 28.6h0.62M33.6 36.3h0.62M44.9 34.2h0.62M20.4 31.8h0.62M36.1 33.9h0.62M31.6 42.5h0.62M7.2 30.1h0.62M37.1 29.2h0.62M21.4 36.1h0.62M50.4 34.7h0.62M38.5 33.5h0.62M6.4 36.5h0.62M39.5 34.4h0.62M53.7 35.9h0.62M1.4 35.8h0.62M29.3 30.1h0.62M16.7 34.0h0.62M43.2 35.2h0.62M21.2 31.1h0.62M33.4 34.6h0.62M21.0 23.5h0.62M37.5 27.4h0.62M7.9 31.8h0.62M9.5 40.2h0.62M13.6 38.8h0.62M26.4 35.9h0.62M1.0 35.8h0.62M30.6 36.7h0.62M14.8 37.6h0.62M12.3 30.2h0.62M14.0 34.0h0.62M2.8 40.6h0.62M16.7 36.6h0.62M4.2 35.3h0.62M53.8 37.4h0.62M10.9 36.4h0.62M22.4 30.5h0.62M43.6 32.6h0.62M29.7 34.4h0.62M35.5 31.5h0.62M50.7 31.6h0.62M46.7 37.5h0.62M45.0 33.5h0.62M39.1 34.0h0.62M9.1 34.3h0.62M6.4 36.6h0.62M40.7 35.1h0.62M16.7 33.1h0.62M11.3 33.6h0.62M51.8 38.0h0.62M43.7 33.9h0.62M42.8 33.3h0.62M43.4 30.0h0.62M44.7 34.8h0.62M5.4 23.2h0.62M51.3 29.0h0.62M13.5 36.8h0.62M49.1 38.3h0.62M12.3 34.3h0.62M21.0 30.0h0.62M43.8 37.5h0.62M19.7 31.4h0.62M15.1 31.0h0.62M48.9 32.9h0.62M18.1 35.0h0.62M40.0 35.0h0.62M29.5 39.4h0.62M36.7 34.4h0.62M7.7 35.1h0.62M18.9 33.2h0.62M27.1 33.8h0.62M21.8 31.7h0.62M51.4 37.6h0.62M11.1 35.9h0.62M40.7 31.4h0.62M5.9 37.4h0.62M52.0 33.3h0.62M11.9 28.9h0.62M9.6 36.7h0.62M14.8 29.7h0.62M17.4 25.8h0.62M9.9 26.8h0.62M8.0 42.1h0.62M34.3 29.9h0.62M11.5 37.2h0.62M33.3 39.0h0.62M33.9 29.0h0.62M27.3 32.0h0.62M45.2 32.9h0.62M37.3 28.5h0.62M22.6 35.1h0.62M20.8 34.2h0.62M30.9 38.4h0.62M27.8 38.6h0.62M24.1 34.6h0.62M32.0 26.7h0.62M8.2 28.9h0.62M25.3 39.5h0.62M16.9 33.3h0.62M39.8 37.2h0.62M46.8 33.4h0.62M6.8 37.8h0.62M12.6 33.3h0.62M45.4 28.6h0.62M44.8 26.8h0.62M43.1 22.2h0.62M3.5 32.8h0.62M47.0 32.9h0.62M43.6 30.9h0.62M24.5 26.6h0.62M10.6 32.0h0.62M15.1 32.7h0.62M30.0 32.5h0.62M42.5 30.9h0.62M43.2 33.8h0.62M46.2 34.2h0.62M48.9 29.1h0.62M43.0 35.6h0.62M5.4 36.4h0.62M2.0 29.5h0.62M45.0 39.5h0.62M6.3 35.1h0.62M45.9 36.8h0.62M33.3 34.7h0.62M53.3 32.8h0.62M11.2 28.5h0.62M39.3 28.3h0.62M10.6 31.7h0.62M0.8 30.3h0.62M18.3 31.6h0.62M15.0 38.3h0.62M32.6 32.8h0.62M6.9 31.5h0.62M37.5 31.7h0.62M6.3 34.0h0.62M50.8 31.0h0.62M10.6 31.4h0.62M53.7 31.5h0.62M19.5 28.1h0.62M16.8 31.9h0.62M34.1 34.7h0.62M22.9 35.2h0.62M24.7 30.3h0.62M27.4 36.7h0.62M38.0 32.4h0.62M12.7 31.0h0.62M47.1 32.2h0.62M15.5 36.9h0.62M24.6 29.3h0.62M50.4 29.1h0.62M32.5 37.5h0.62M24.2 37.1h0.62M15.2 35.1h0.62M23.8 36.5h0.62M37.5 32.8h0.62M36.3 33.7h0.62M7.1 37.3h0.62M48.3 33.6h0.62M18.4 37.4h0.62M44.3 36.4h0.62M29.5 29.7h0.62M5.4 34.8h0.62M19.6 32.7h0.62M20.2 32.7h0.62M18.6 28.3h0.62M48.5 34.3h0.62M34.2 33.4h0.62M25.3 31.0h0.62M17.1 36.7h0.62M36.2 26.1h0.62M52.7 27.7h0.62M53.6 28.3h0.62M35.1 37.7h0.62M37.9 34.9h0.62M25.0 33.6h0.62M21.7 32.2h0.62M53.4 31.5h0.62M11.3 32.2h0.62M21.3 35.1h0.62M40.1 35.5h0.62M35.0 34.7h0.62M33.6 33.5h0.62M43.8 30.9h0.62M39.5 33.9h0.62M25.3 31.8h0.62M0.9 39.1h0.62M48.4 26.9h0.62M1.3 31.0h0.62M28.8 37.2h0.62M6.0 34.3h0.62M27.4 30.6h0.62M6.7 31.9h0.62M4.8 32.8h0.62M27.7 31.9h0.62M13.3 39.6h0.62M22.4 36.0h0.62M24.4 34.4h0.62M30.1 26.8h0.62M5.6 35.4h0.62M45.9 39.0h0.62M28.3 41.5h0.62M21.9 28.1h0.62M52.0 28.9h0.62M22.3 35.7h0.62M44.2 33.7h0.62M39.7 33.1h0.62M28.7 31.6h0.62M1.5 35.9h0.62M52.2 35.5h0.62M34.7 34.2h0.62M22.5 32.7h0.62M4.2 33.5h0.62M49.6 35.3h0.62M17.8 28.4h0.62M47.9 34.0h0.62M51.1 29.7h0.62M48.8 31.8h0.62M21.3 31.8h0.62M13.9 39.2h0.62M19.9 29.9h0.62M19.4 35.4h0.62M23.2 32.5h0.62M45.1 33.9h0.62M3.3 29.1h0.62M21.6 32.8h0.62M12.0 36.4h0.62M17.0 35.6h0.62M26.1 34.3h0.62M26.3 39.5h0.62M32.0 36.9h0.62M32.3 32.8h0.62M19.9 32.0h0.62M31.8 38.3h0.62M17.0 29.3h0.62M40.7 33.7h0.62M2.9 35.9h0.62M14.6 35.1h0.62M43.0 27.2h0.62M21.7 36.8h0.62M15.4 33.0h0.62M53.1 32.2h0.62M44.9 32.1h0.62M44.2 36.4h0.62M42.6 32.8h0.62M41.2 32.6h0.62M2.6 30.4h0.62M50.1 30.4h0.62M34.5 41.9h0.62M40.6 34.8h0.62M31.3 39.5h0.62M22.6 33.8h0.62M36.7 41.6h0.62M4.0 32.8h0.62M42.2 28.0h0.62M20.4 35.8h0.62M24.2 31.9h0.62M17.3 34.3h0.62M39.7 35.2h0.62M45.0 34.4h0.62M36.0 31.9h0.62M6.4 33.1h0.62M16.7 38.0h0.62M49.8 32.3h0.62M11.4 29.8h0.62M45.3 35.9h0.62M6.7 36.5h0.62M1.7 30.7h0.62M23.3 29.7h0.62M50.1 37.4h0.62M26.7 32.3h0.62M42.0 30.3h0.62M5.7 33.5h0.62M31.6 31.4h0.62M10.9 32.4h0.62M18.9 35.4h0.62M31.9 30.1h0.62M31.0 33.2h0.62M45.5 30.6h0.62M25.9 20.7h0.62M53.0 16.3h0.62M12.6 21.5h0.62M14.1 17.7h0.62M13.9 14.9h0.62M3.5 19.2h0.62M38.7 15.9h0.62M23.4 15.7h0.62M52.7 15.9h0.62M49.1 15.3h0.62M12.5 18.9h0.62M40.7 19.8h0.62M45.8 19.4h0.62M1.9 17.1h0.62M29.8 15.0h0.62M18.0 21.7h0.62M41.3 23.1h0.62M43.5 21.7h0.62M11.8 20.6h0.62M10.8 14.8h0.62M6.5 17.4h0.62M41.3 13.4h0.62M49.9 15.4h0.62M37.2 14.1h0.62M38.8 22.7h0.62M15.7 20.6h0.62M14.3 15.0h0.62M13.5 21.2h0.62M13.7 18.5h0.62M15.8 18.1h0.62M26.2 19.4h0.62M14.7 17.7h0.62M27.5 20.1h0.62M47.2 20.8h0.62M46.2 22.3h0.62M32.9 14.2h0.62M28.9 17.0h0.62M35.6 21.9h0.62M14.0 16.0h0.62M2.9 20.3h0.62M42.5 17.2h0.62M12.6 15.8h0.62M39.4 18.8h0.62M51.0 14.9h0.62M18.8 18.0h0.62M12.5 19.2h0.62M50.8 17.7h0.62M35.5 22.9h0.62M5.5 20.4h0.62M30.5 23.6h0.62M16.7 23.2h0.62M47.1 21.5h0.62M3.7 19.5h0.62M1.6 11.7h0.62M37.0 15.0h0.62M46.2 18.8h0.62M4.2 15.1h0.62M28.5 19.3h0.62M19.1 20.9h0.62M26.9 19.4h0.62M22.5 21.8h0.62M26.2 20.6h0.62M30.1 19.5h0.62M52.5 16.9h0.62M16.2 17.6h0.62M18.1 16.3h0.62M52.7 12.5h0.62M51.3 22.5h0.62M50.5 15.9h0.62M1.1 14.8h0.62M37.0 18.3h0.62M33.1 13.7h0.62M4.7 14.3h0.62M28.0 18.7h0.62M6.0 17.9h0.62M46.9 18.6h0.62M1.7 18.0h0.62M44.8 17.0h0.62M31.3 15.3h0.62M40.9 18.1h0.62M3.7 18.0h0.62M42.9 22.8h0.62M22.0 17.4h0.62M18.1 17.9h0.62M41.6 18.5h0.62M14.2 15.5h0.62M18.1 16.5h0.62M36.4 16.3h0.62M47.6 18.6h0.62M9.5 19.2h0.62M25.9 19.6h0.62M42.3 17.2h0.62M35.3 19.7h0.62M14.1 16.2h0.62M47.4 17.8h0.62M10.0 18.3h0.62M17.8 20.2h0.62M39.2 16.1h0.62M29.2 14.2h0.62M4.2 18.3h0.62M11.8 16.2h0.62M22.4 20.5h0.62M19.2 17.9h0.62M49.2 20.6h0.62M7.3 18.0h0.62M42.6 18.6h0.62M42.7 15.9h0.62M20.5 17.3h0.62M40.0 21.4h0.62M25.7 18.3h0.62M26.9 17.7h0.62M20.5 23.2h0.62M7.7 20.3h0.62M11.1 22.7h0.62M50.3 13.7h0.62M18.5 19.4h0.62M38.6 17.5h0.62M51.1 18.6h0.62M36.6 19.4h0.62M47.7 17.2h0.62M24.5 12.1h0.62M20.1 19.6h0.62M50.7 19.5h0.62M3.9 19.0h0.62M2.7 20.2h0.62M16.6 18.6h0.62M28.5 19.3h0.62M29.2 14.2h0.62M28.4 16.4h0.62M51.1 19.6h0.62M4.1 19.0h0.62M16.7 18.5h0.62M27.2 12.4h0.62M8.7 16.5h0.62M15.9 20.9h0.62M42.8 20.8h0.62M32.6 17.6h0.62M45.7 16.5h0.62M51.0 18.5h0.62M52.8 22.3h0.62M21.6 18.7h0.62M2.8 18.9h0.62M39.8 19.4h0.62M11.4 19.8h0.62M43.2 18.3h0.62M27.0 16.5h0.62M9.9 15.8h0.62M0.8 17.9h0.62M14.1 18.8h0.62M33.4 16.2h0.62M33.7 20.2h0.62M17.1 14.9h0.62M31.4 22.2h0.62M22.5 15.4h0.62M18.0 17.4h0.62M49.3 18.7h0.62M46.1 23.9h0.62M47.6 19.7h0.62M53.2 20.6h0.62M15.6 20.0h0.62M12.7 21.6h0.62M31.5 21.4h0.62M15.3 23.2h0.62M5.2 17.2h0.62M30.2 16.0h0.62M26.9 20.8h0.62M20.5 16.7h0.62M31.0 18.1h0.62M34.1 17.0h0.62M26.9 18.4h0.62M26.0 13.9h0.62M15.1 13.0h0.62M23.9 22.0h0.62M12.7 20.4h0.62M44.8 18.7h0.62M48.8 16.3h0.62M27.2 15.3h0.62M51.1 19.5h0.62M26.5 16.0h0.62M45.4 18.3h0.62M27.2 17.2h0.62M11.6 19.5h0.62M45.0 20.4h0.62M49.5 11.6h0.62M37.0 19.3h0.62M43.7 14.3h0.62M43.3 20.2h0.62M16.4 22.2h0.62M13.2 18.6h0.62M27.6 17.8h0.62M18.5 19.0h0.62M49.2 14.8h0.62M50.4 17.5h0.62M36.0 17.4h0.62M5.9 23.1h0.62M16.8 17.5h0.62M10.0 16.7h0.62M53.2 14.1h0.62M33.6 20.9h0.62M3.2 21.0h0.62M43.4 56.5h0.62M39.3 65.0h0.62M28.5 76.2h0.62M32.0 45.5h0.62M19.2 42.1h0.62M1.1 38.5h0.62M39.8 39.6h0.62M32.7 56.9h0.62M34.7 46.2h0.62M15.8 40.5h0.62M9.4 50.6h0.62M34.3 75.9h0.62M16.5 72.7h0.62M45.6 40.8h0.62M47.6 49.5h0.62M48.1 56.8h0.62M16.7 40.6h0.62M26.1 45.4h0.62M1.8 63.8h0.62M26.8 45.0h0.62M37.2 40.0h0.62M10.0 48.2h0.62M12.1 41.6h0.62M3.5 36.8h0.62M17.8 46.5h0.62M47.4 50.3h0.62M20.7 43.3h0.62M11.8 45.0h0.62M48.0 37.8h0.62M21.6 52.2h0.62M38.1 47.3h0.62M32.1 75.0h0.62M45.1 40.0h0.62M26.4 38.9h0.62M38.3 36.8h0.62M7.5 47.2h0.62M13.6 53.8h0.62M36.3 41.4h0.62M38.3 50.6h0.62M35.3 44.5h0.62M21.6 37.6h0.62M23.7 79.3h0.62M44.4 36.8h0.62M3.6 40.4h0.62M34.7 44.1h0.62M6.4 43.8h0.62M28.7 55.1h0.62M20.2 50.7h0.62M34.1 49.4h0.62M2.3 53.4h0.62M6.4 36.8h0.62M23.7 36.2h0.62M3.6 42.9h0.62M23.4 37.6h0.62M47.7 62.8h0.62M24.3 48.4h0.62M6.0 41.1h0.62M11.0 64.1h0.62M25.4 43.4h0.62M19.9 66.5h0.62M12.9 57.9h0.62M35.4 44.3h0.62M18.3 44.0h0.62M22.7 41.3h0.62M31.2 43.4h0.62M15.2 56.7h0.62M22.8 45.0h0.62M44.0 44.5h0.62M18.8 68.0h0.62M48.8 57.6h0.62M20.1 51.6h0.62M37.0 40.9h0.62M36.2 77.9h0.62M32.8 51.5h0.62M21.8 50.8h0.62M11.3 56.6h0.62M17.1 53.4h0.62M0.8 43.5h0.62M38.3 40.2h0.62M30.7 39.5h0.62M9.8 70.1h0.62M3.0 48.2h0.62M41.1 61.4h0.62M19.6 48.5h0.62M35.6 56.1h0.62M37.3 48.1h0.62M12.6 53.1h0.62M28.1 47.0h0.62M49.4 38.1h0.62M39.0 41.5h0.62M36.3 78.0h0.62M13.7 47.7h0.62M26.4 45.6h0.62M8.4 49.7h0.62M44.7 51.2h0.62M14.5 59.0h0.62M21.0 38.2h0.62M30.3 44.6h0.62M28.5 78.9h0.62M17.6 55.9h0.62M3.8 41.0h0.62M34.6 52.4h0.62M41.4 42.7h0.62M13.7 42.2h0.62M26.9 36.3h0.62M18.7 51.0h0.62M7.4 41.2h0.62M43.6 74.0h0.62M12.5 38.7h0.62M5.9 37.3h0.62M39.7 54.8h0.62M13.2 45.4h0.62M34.8 36.4h0.62M40.9 63.5h0.62M10.6 53.0h0.62M35.0 41.8h0.62M43.9 39.4h0.62M23.7 41.3h0.62M22.1 59.4h0.62M28.5 49.2h0.62M49.4 39.5h0.62M11.1 49.5h0.62M17.1 44.1h0.62M21.6 60.6h0.62M45.8 51.8h0.62M8.6 42.1h0.62M35.3 39.4h0.62M44.1 64.8h0.62M11.3 42.3h0.62M11.4 53.7h0.62M2.4 52.7h0.62M3.1 61.8h0.62M27.2 48.3h0.62M4.8 36.6h0.62M30.0 63.8h0.62M3.1 37.5h0.62M1.0 52.7h0.62M8.8 40.5h0.62M33.4 52.6h0.62M16.1 44.8h0.62M14.5 47.5h0.62M17.8 42.2h0.62M12.4 40.8h0.62M13.0 36.2h0.62M15.5 48.6h0.62M13.4 37.7h0.62M42.3 44.9h0.62M25.6 41.2h0.62M44.4 55.6h0.62M31.1 51.1h0.62M34.6 45.7h0.62M20.7 42.9h0.62M25.2 44.9h0.62M26.4 46.7h0.62M39.4 67.2h0.62M11.2 36.3h0.62M15.1 36.5h0.62M39.8 49.6h0.62M14.3 39.0h0.62M43.4 61.3h0.62M34.2 52.5h0.62M37.2 44.5h0.62M19.9 47.3h0.62M45.8 61.3h0.62M3.7 40.0h0.62M48.6 47.0h0.62M25.7 41.2h0.62M43.1 46.2h0.62M49.5 37.1h0.62M49.7 36.2h0.62M7.4 42.9h0.62M32.0 37.6h0.62M28.1 75.2h0.62M21.8 56.1h0.62M29.6 48.2h0.62M8.7 44.7h0.62M45.0 51.7h0.62M10.8 44.3h0.62M27.2 41.7h0.62M28.9 50.0h0.62M0.9 39.5h0.62M32.8 39.4h0.62M3.6 56.1h0.62M27.9 37.5h0.62M31.8 40.3h0.62M40.7 54.0h0.62M37.9 36.8h0.62M1.7 58.4h0.62M7.0 39.2h0.62M1.5 38.5h0.62M16.1 40.2h0.62M41.4 38.9h0.62M31.8 49.4h0.62M46.8 36.6h0.62M28.2 42.8h0.62M41.2 40.1h0.62M35.7 38.9h0.62M12.0 40.6h0.62M45.9 51.7h0.62M3.3 38.9h0.62M11.9 40.8h0.62M42.2 52.9h0.62M49.0 51.5h0.62M31.4 42.8h0.62M35.9 45.5h0.62M2.9 45.5h0.62M19.2 46.6h0.62M2.4 36.4h0.62M49.1 42.5h0.62M16.5 38.2h0.62M29.6 70.5h0.62M9.0 45.7h0.62M25.0 56.3h0.62M28.3 39.8h0.62M9.5 54.1h0.62M3.9 64.0h0.62M1.7 38.9h0.62M23.4 62.0h0.62M31.0 55.2h0.62M38.1 53.9h0.62M2.6 60.4h0.62M7.4 38.5h0.62M1.9 36.4h0.62M43.8 42.7h0.62M4.3 36.7h0.62M42.3 48.9h0.62M45.8 36.5h0.62M5.6 40.7h0.62M9.6 37.7h0.62M10.0 50.3h0.62M8.4 38.6h0.62M26.8 42.6h0.62M7.5 47.8h0.62M25.4 42.9h0.62M23.7 36.6h0.62M30.8 39.0h0.62M16.8 36.1h0.62M44.4 48.4h0.62M19.6 46.9h0.62M47.0 38.0h0.62M19.2 53.2h0.62M18.6 53.2h0.62M45.4 36.6h0.62M14.2 40.9h0.62M37.5 57.5h0.62M35.0 72.2h0.62M9.3 43.0h0.62M42.6 56.3h0.62M37.0 64.1h0.62M18.1 49.0h0.62M47.9 67.9h0.62M28.9 66.9h0.62M49.9 61.6h0.62M7.2 43.2h0.62M28.2 38.0h0.62M39.0 36.9h0.62M31.4 40.6h0.62M16.1 49.1h0.62M9.6 44.3h0.62M13.1 42.4h0.62M34.7 38.9h0.62M42.5 39.1h0.62M27.8 41.8h0.62M31.9 36.9h0.62M35.8 39.7h0.62M24.1 54.0h0.62M42.8 74.3h0.62M21.0 41.4h0.62M19.9 41.3h0.62M37.1 44.7h0.62M34.3 38.3h0.62M10.2 49.4h0.62M8.1 36.5h0.62M20.7 38.8h0.62M36.5 47.9h0.62M2.9 37.4h0.62M1.8 44.6h0.62M41.2 52.1h0.62M27.4 63.1h0.62M18.6 37.7h0.62M32.1 36.4h0.62M11.5 36.4h0.62M8.1 36.9h0.62M26.6 37.9h0.62M30.2 60.3h0.62M17.2 37.8h0.62M33.6 54.3h0.62M44.2 47.3h0.62M29.1 63.8h0.62M14.3 56.8h0.62M31.6 44.8h0.62M13.2 48.9h0.62M25.5 46.0h0.62M2.9 38.0h0.62M30.3 52.0h0.62M49.5 58.0h0.62M14.5 44.5h0.62M25.3 58.8h0.62M19.7 71.5h0.62M24.2 43.1h0.62M24.0 42.2h0.62M50.0 36.7h0.62M20.0 37.2h0.62M33.9 38.3h0.62M7.5 43.7h0.62M30.1 56.2h0.62M22.2 40.9h0.62M18.4 66.7h0.62M10.7 36.2h0.62M44.3 45.2h0.62M6.6 38.0h0.62M44.5 55.4h0.62M3.2 51.7h0.62M10.7 44.3h0.62M30.3 36.7h0.62M46.8 41.7h0.62M7.2 57.2h0.62M5.5 36.5h0.62M32.6 44.9h0.62M45.0 57.9h0.62M10.3 36.6h0.62M30.2 44.9h0.62M15.1 70.8h0.62M10.4 50.4h0.62M3.7 72.0h0.62M47.4 49.5h0.62M16.0 54.0h0.62M45.2 58.2h0.62M2.0 45.8h0.62M7.0 47.1h0.62M47.5 64.0h0.62M12.4 47.2h0.62M15.9 38.6h0.62M37.2 55.9h0.62M16.8 43.6h0.62M34.8 54.2h0.62M23.2 37.8h0.62M4.8 38.6h0.62M41.3 45.6h0.62M32.2 42.3h0.62M18.4 38.7h0.62M48.7 49.0h0.62M6.4 53.0h0.62M29.9 49.3h0.62M38.5 49.1h0.62M20.3 50.6h0.62M18.7 43.4h0.62M18.3 50.6h0.62M17.6 42.1h0.62M42.3 58.5h0.62M33.8 62.0h0.62M19.3 50.4h0.62M12.6 41.3h0.62M5.0 58.4h0.62M46.1 41.0h0.62M18.9 37.7h0.62M7.1 50.2h0.62M44.6 37.2h0.62M12.7 55.9h0.62M11.3 65.4h0.62M17.6 45.0h0.62M10.1 40.8h0.62M21.2 40.6h0.62M36.5 36.4h0.62M31.9 58.7h0.62M16.3 39.0h0.62M6.0 37.1h0.62M39.6 48.9h0.62M29.9 41.4h0.62M1.7 43.7h0.62M18.0 71.8h0.62M43.4 48.0h0.62M6.3 59.1h0.62M4.5 47.4h0.62M4.9 37.4h0.62M20.5 38.4h0.62M49.6 48.1h0.62M44.9 79.9h0.62M37.9 50.5h0.62M23.6 57.1h0.62M33.5 38.4h0.62M26.5 43.5h0.62M25.8 53.5h0.62M34.5 47.8h0.62M39.4 60.4h0.62M4.6 38.2h0.62M2.4 38.4h0.62M47.9 41.2h0.62M22.0 44.8h0.62M28.2 40.6h0.62M38.9 41.6h0.62M42.3 58.8h0.62M4.7 66.2h0.62M3.5 40.4h0.62M38.4 48.5h0.62M33.3 43.5h0.62M26.0 39.2h0.62M23.1 40.2h0.62M33.8 37.6h0.62M6.9 39.1h0.62M26.6 48.2h0.62M41.8 42.7h0.62M7.9 60.5h0.62M48.8 38.7h0.62M37.8 59.9h0.62M46.9 39.3h0.62M6.0 38.5h0.62M11.6 68.2h0.62M45.5 45.0h0.62M6.4 42.1h0.62M12.1 50.6h0.62M36.0 57.0h0.62M21.9 44.5h0.62M23.4 42.5h0.62M22.8 52.2h0.62M35.6 41.5h0.62M28.3 38.2h0.62M2.3 42.9h0.62M18.0 36.5h0.62M4.0 43.8h0.62M47.1 61.4h0.62M1.5 41.3h0.62M18.4 41.2h0.62M6.9 48.5h0.62M42.0 42.7h0.62M8.8 37.6h0.62M11.5 54.0h0.62M39.5 37.2h0.62M9.4 41.3h0.62M38.4 54.7h0.62M15.1 44.4h0.62M17.8 44.9h0.62M39.7 40.2h0.62M40.5 71.4h0.62M46.9 38.6h0.62M49.6 39.1h0.62M40.2 37.8h0.62M15.1 44.2h0.62M42.0 52.0h0.62M10.2 67.9h0.62M43.3 46.0h0.62M2.5 40.7h0.62M14.6 43.6h0.62M47.1 48.7h0.62M41.0 37.0h0.62M12.3 54.4h0.62M17.0 39.6h0.62M3.2 36.7h0.62M20.6 47.1h0.62M20.0 47.7h0.62M14.5 36.2h0.62M33.7 41.7h0.62M24.6 42.6h0.62M13.5 36.7h0.62M14.8 41.0h0.62M5.7 36.4h0.62M24.0 36.3h0.62M43.9 42.3h0.62M22.2 46.4h0.62M1.2 37.5h0.62M39.3 47.4h0.62M24.7 41.9h0.62M37.6 45.8h0.62M39.6 61.3h0.62M44.7 54.1h0.62M33.7 44.7h0.62M26.7 48.1h0.62M26.3 59.9h0.62M42.9 36.7h0.62M37.6 49.4h0.62M29.9 69.4h0.62M2.5 45.0h0.62M18.8 77.5h0.62M8.2 47.6h0.62M7.2 55.6h0.62M24.5 54.6h0.62M15.4 66.1h0.62M36.7 65.6h0.62M38.9 40.5h0.62M4.0 53.3h0.62M36.6 36.9h0.62M46.7 46.5h0.62M1.7 45.1h0.62M16.9 37.5h0.62M44.3 74.2h0.62M6.2 44.3h0.62M13.7 51.6h0.62M5.5 41.7h0.62M20.5 45.0h0.62M21.8 48.7h0.62M47.0 73.5h0.62M45.4 60.7h0.62M11.4 39.9h0.62M23.0 50.4h0.62M30.3 42.0h0.62M49.6 41.2h0.62M1.0 37.3h0.62M10.5 54.4h0.62M42.0 36.6h0.62M11.8 39.9h0.62M39.3 67.9h0.62M13.2 37.5h0.62M35.8 45.0h0.62M37.3 56.4h0.62M25.5 40.4h0.62M26.3 51.2h0.62M16.2 50.3h0.62M10.6 39.6h0.62M48.0 78.0h0.62M46.3 61.8h0.62M42.4 60.1h0.62M28.3 37.1h0.62M36.6 61.3h0.62M41.9 36.6h0.62M3.1 54.4h0.62M24.4 67.4h0.62M49.5 44.3h0.62M33.8 51.3h0.62M34.7 42.4h0.62M32.0 37.0h0.62M65.6 70.5h0.62M53.3 52.5h0.62M60.2 64.1h0.62M64.3 57.1h0.62M58.9 49.1h0.62M58.8 41.0h0.62M59.1 50.0h0.62M62.4 64.8h0.62M65.6 29.1h0.62M54.2 74.0h0.62M51.6 60.5h0.62M52.9 46.8h0.62M57.4 63.2h0.62M60.3 30.9h0.62M53.4 63.4h0.62M47.5 60.1h0.62M63.5 71.1h0.62M57.6 60.6h0.62M58.7 61.8h0.62M63.4 47.3h0.62M52.8 28.2h0.62M51.8 59.5h0.62M50.9 52.5h0.62M62.9 28.6h0.62M55.2 45.3h0.62M48.3 48.9h0.62M72.3 42.6h0.62M57.6 44.2h0.62M56.2 48.9h0.62M63.8 50.4h0.62M63.7 70.5h0.62M50.4 38.4h0.62M71.3 56.1h0.62M58.6 44.0h0.62M59.4 75.5h0.62M56.9 55.8h0.62M64.7 42.1h0.62M56.5 46.5h0.62M58.1 43.1h0.62M62.3 65.1h0.62M49.9 59.5h0.62M64.5 30.9h0.62M51.8 34.9h0.62M48.0 69.1h0.62M62.4 61.1h0.62M64.5 60.0h0.62M68.1 55.0h0.62M69.3 42.2h0.62M63.9 31.7h0.62M57.9 63.5h0.62M58.3 44.0h0.62M62.4 60.2h0.62M55.0 76.0h0.62M68.0 41.4h0.62M50.5 71.7h0.62M64.6 32.0h0.62M62.4 33.3h0.62M61.2 66.0h0.62M57.6 55.9h0.62M68.3 31.2h0.62M58.6 75.0h0.62M61.2 51.7h0.62M52.6 29.5h0.62M58.0 55.9h0.62M57.0 77.0h0.62M57.3 66.2h0.62M56.0 65.2h0.62M54.0 58.7h0.62M66.8 49.9h0.62M54.1 43.2h0.62M57.8 75.1h0.62M53.0 47.4h0.62M66.2 38.1h0.62M72.6 67.8h0.62M58.6 80.0h0.62M56.8 36.7h0.62M57.5 30.6h0.62M52.7 78.6h0.62M53.5 43.7h0.62M58.9 35.8h0.62M62.4 29.5h0.62M52.8 47.5h0.62M58.7 78.4h0.62M54.5 56.2h0.62M68.0 33.4h0.62M65.9 74.3h0.62M59.9 30.7h0.62M57.3 64.4h0.62M54.7 72.2h0.62M57.9 36.3h0.62M54.4 79.3h0.62M69.3 56.7h0.62M52.2 30.7h0.62M50.3 31.6h0.62M67.4 43.7h0.62M69.4 46.7h0.62M61.5 32.4h0.62M56.2 51.0h0.62M61.4 60.7h0.62M57.1 56.3h0.62M56.4 31.0h0.62M49.2 41.9h0.62M62.1 71.6h0.62M58.7 70.0h0.62M64.0 28.2h0.62M52.1 65.9h0.62M56.2 78.2h0.62M57.2 38.5h0.62M54.8 53.5h0.62M57.1 32.7h0.62M65.3 64.8h0.62M57.0 34.4h0.62M59.4 77.6h0.62M65.1 48.7h0.62M49.3 80.2h0.62M62.8 77.9h0.62M66.3 39.1h0.62M61.4 32.4h0.62M58.6 70.6h0.62M53.6 34.1h0.62M54.6 62.1h0.62M60.4 59.5h0.62M60.7 62.1h0.62M61.7 35.3h0.62M48.7 44.1h0.62M62.5 29.5h0.62M63.5 74.0h0.62M54.3 53.9h0.62M49.4 76.3h0.62M63.8 70.7h0.62M49.6 39.4h0.62M57.4 68.5h0.62M60.0 53.1h0.62M63.0 50.8h0.62M58.1 73.9h0.62M67.6 74.8h0.62M56.7 77.0h0.62M57.5 31.4h0.62M66.0 63.9h0.62M64.7 35.7h0.62M56.6 58.2h0.62M64.1 32.2h0.62M60.9 50.1h0.62M62.2 73.2h0.62M50.3 52.2h0.62M56.8 69.8h0.62M59.2 58.2h0.62M55.9 52.3h0.62M60.2 31.3h0.62M60.1 50.5h0.62M60.0 35.3h0.62M62.0 73.9h0.62M51.8 57.3h0.62M60.9 72.5h0.62M62.2 59.0h0.62M53.8 30.5h0.62M52.3 38.6h0.62M48.9 78.0h0.62M62.9 59.3h0.62M58.4 57.6h0.62M60.2 49.7h0.62M61.9 38.9h0.62M56.9 28.8h0.62M68.3 74.2h0.62M60.3 36.2h0.62M65.7 41.1h0.62M59.2 60.6h0.62M66.3 42.8h0.62M53.7 60.2h0.62M56.2 41.7h0.62M67.5 74.1h0.62M53.5 46.3h0.62M48.1 78.6h0.62M54.8 62.3h0.62M56.4 44.5h0.62M59.7 60.4h0.62M59.5 40.8h0.62M66.2 35.5h0.62M64.1 68.0h0.62M57.7 77.4h0.62M63.7 71.9h0.62M66.3 60.0h0.62M45.2 77.6h0.62M53.3 45.2h0.62M53.4 48.1h0.62M54.7 62.0h0.62M56.7 73.8h0.62M57.8 29.5h0.62M54.6 47.4h0.62M48.8 57.0h0.62M62.8 55.4h0.62M53.0 63.9h0.62M54.2 57.6h0.62M54.7 34.5h0.62M57.2 51.3h0.62M68.6 43.5h0.62M49.8 58.5h0.62M52.5 37.4h0.62M57.8 69.8h0.62M61.9 42.8h0.62M60.5 38.8h0.62M59.3 55.7h0.62M60.6 37.1h0.62M53.8 61.1h0.62M52.7 53.5h0.62M55.0 52.6h0.62M55.5 64.5h0.62M60.4 59.0h0.62M67.2 79.7h0.62M53.3 68.7h0.62M53.9 43.3h0.62M54.4 66.9h0.62M62.7 66.1h0.62M63.9 80.1h0.62M71.0 54.3h0.62M66.2 48.4h0.62M58.3 32.6h0.62M65.8 66.1h0.62M59.3 60.6h0.62M59.7 67.3h0.62M52.7 60.0h0.62M53.9 63.4h0.62M53.3 57.7h0.62M65.4 65.3h0.62M62.9 50.7h0.62M64.7 36.8h0.62M57.3 55.1h0.62M56.4 75.1h0.62M61.1 37.4h0.62M57.7 55.4h0.62M67.7 28.3h0.62M64.3 79.8h0.62M63.5 61.8h0.62M55.2 52.4h0.62M61.2 51.4h0.62M62.9 74.1h0.62M63.7 53.0h0.62M63.0 57.3h0.62M60.5 45.1h0.62M51.3 78.6h0.62M54.9 57.0h0.62M56.0 74.0h0.62M66.1 53.8h0.62M60.8 43.3h0.62M60.7 51.2h0.62M61.9 50.4h0.62M55.0 60.9h0.62M55.9 53.1h0.62M61.3 40.6h0.62M49.0 79.8h0.62M53.7 41.5h0.62M57.1 65.8h0.62M50.8 41.6h0.62M61.7 73.6h0.62M57.5 51.2h0.62M69.6 49.3h0.62M52.6 57.0h0.62M55.4 57.7h0.62M67.1 32.9h0.62M60.3 71.4h0.62M58.7 42.6h0.62M61.9 54.2h0.62M59.1 72.7h0.62M61.8 28.7h0.62M58.9 30.8h0.62M56.0 79.3h0.62M64.4 62.4h0.62M63.0 76.2h0.62M52.7 63.7h0.62M58.8 53.4h0.62M63.8 33.8h0.62M64.1 38.6h0.62M55.6 54.1h0.62M60.0 59.1h0.62M54.4 32.9h0.62M58.7 54.8h0.62M62.0 64.4h0.62M59.7 59.1h0.62M66.8 67.8h0.62M58.4 52.1h0.62M55.1 32.5h0.62M58.3 62.2h0.62M59.7 32.5h0.62M59.4 56.8h0.62M59.9 68.7h0.62M62.6 51.7h0.62M65.1 61.0h0.62M52.1 65.2h0.62M60.8 72.4h0.62M59.4 69.3h0.62M54.4 33.5h0.62M63.0 37.8h0.62M63.2 57.7h0.62M55.7 51.0h0.62M71.4 71.2h0.62M64.2 68.7h0.62M56.4 54.1h0.62M56.2 62.9h0.62M60.2 76.9h0.62M56.7 55.8h0.62M54.1 46.9h0.62M51.2 28.4h0.62M64.5 53.5h0.62M55.4 66.8h0.62M58.3 41.4h0.62M55.1 59.7h0.62M60.9 50.8h0.62M56.2 69.5h0.62M53.2 57.2h0.62M63.6 41.4h0.62M62.4 43.8h0.62M64.5 67.2h0.62M56.5 36.3h0.62M56.6 39.7h0.62M56.5 34.8h0.62M70.4 79.1h0.62M60.4 47.5h0.62M67.4 63.1h0.62M59.2 30.4h0.62M58.7 40.4h0.62M56.5 69.3h0.62M58.9 54.9h0.62M54.5 70.4h0.62M53.2 37.8h0.62M54.4 31.6h0.62M61.1 59.6h0.62M64.7 52.4h0.62M53.8 62.2h0.62M53.2 49.8h0.62M62.2 74.7h0.62M62.9 64.6h0.62M50.1 57.3h0.62M58.5 63.0h0.62M61.1 41.2h0.62M53.2 60.2h0.62M54.0 50.8h0.62M58.8 64.9h0.62M63.2 74.9h0.62M56.5 51.7h0.62M62.8 50.7h0.62M52.3 68.7h0.62M51.7 70.9h0.62M56.2 51.8h0.62M44.0 51.7h0.62M55.7 72.0h0.62M54.6 50.1h0.62M52.3 47.3h0.62M56.2 28.6h0.62M57.4 78.4h0.62M64.7 35.3h0.62M70.6 69.9h0.62M50.0 42.8h0.62M69.8 31.6h0.62M59.9 43.8h0.62M66.1 71.7h0.62M55.4 72.2h0.62M61.3 33.0h0.62M64.4 48.1h0.62M48.4 43.3h0.62M58.8 63.3h0.62M61.2 31.1h0.62M61.8 58.8h0.62M51.1 50.2h0.62M54.0 77.7h0.62M57.3 74.3h0.62M51.5 37.5h0.62M56.7 59.8h0.62M65.2 78.6h0.62M57.8 78.0h0.62M57.0 52.8h0.62M61.1 61.3h0.62M67.5 73.3h0.62M54.5 52.9h0.62M57.2 52.7h0.62M54.2 35.9h0.62M64.3 41.4h0.62M59.4 55.8h0.62M59.4 67.1h0.62M48.8 60.2h0.62M65.3 62.9h0.62M55.8 46.4h0.62M70.0 72.8h0.62M59.0 64.2h0.62M72.0 37.5h0.62M58.1 48.4h0.62M55.3 48.1h0.62M55.9 36.5h0.62M63.0 49.2h0.62M66.7 46.8h0.62M63.9 65.7h0.62M45.1 74.6h0.62M65.0 65.4h0.62M65.1 77.3h0.62M48.3 49.9h0.62M56.8 47.3h0.62M57.4 45.4h0.62M58.0 68.0h0.62M58.0 31.9h0.62M52.9 72.6h0.62M61.5 61.5h0.62M63.4 40.5h0.62M65.0 60.7h0.62M46.7 51.8h0.62M65.6 42.4h0.62M53.4 46.5h0.62M71.4 40.9h0.62M50.5 77.9h0.62M56.7 32.2h0.62M54.3 54.3h0.62M66.2 64.6h0.62M57.4 30.7h0.62M56.3 37.4h0.62M57.3 43.2h0.62M61.8 34.1h0.62M65.1 68.2h0.62M59.6 36.5h0.62M65.9 32.2h0.62M63.5 35.4h0.62M53.9 69.6h0.62M58.8 54.8h0.62M53.2 22.0h0.62M67.1 25.2h0.62M50.8 31.4h0.62M62.2 27.6h0.62M55.2 22.0h0.62M68.5 30.4h0.62M80.1 10.4h0.62M50.2 19.9h0.62M53.4 18.3h0.62M61.4 31.8h0.62M50.9 26.7h0.62M62.0 24.5h0.62M64.4 30.7h0.62M53.9 23.8h0.62M59.2 14.7h0.62M56.7 29.8h0.62M59.8 23.0h0.62M70.4 27.1h0.62M62.5 16.9h0.62M63.8 19.8h0.62M57.0 20.0h0.62M51.7 26.7h0.62M51.9 28.5h0.62M54.0 31.5h0.62M59.5 30.8h0.62M52.5 26.7h0.62M61.5 24.8h0.62M57.4 18.9h0.62M42.1 26.3h0.62M51.7 15.8h0.62M59.7 4.8h0.62M54.2 27.6h0.62M58.0 21.4h0.62M54.1 24.1h0.62M50.4 19.0h0.62M61.8 16.6h0.62M57.3 20.3h0.62M51.8 9.4h0.62M53.7 17.6h0.62M52.9 22.5h0.62M59.4 27.2h0.62M59.7 14.9h0.62M64.7 25.3h0.62M61.5 14.1h0.62M63.2 38.6h0.62M60.5 30.6h0.62M55.1 24.0h0.62M57.7 27.5h0.62M58.7 24.8h0.62M53.5 14.8h0.62M57.9 40.2h0.62M53.1 26.6h0.62M64.5 18.5h0.62M49.9 25.5h0.62M57.7 17.0h0.62M65.3 27.8h0.62M57.9 13.5h0.62M64.1 30.8h0.62M62.0 34.2h0.62M52.9 16.1h0.62M62.2 26.0h0.62M57.7 19.6h0.62M63.0 24.7h0.62M62.2 15.1h0.62M58.3 25.9h0.62M63.0 11.5h0.62M57.0 18.5h0.62M58.0 22.0h0.62M60.1 28.4h0.62M59.3 22.5h0.62M62.3 32.6h0.62M58.3 17.5h0.62M66.7 29.3h0.62M68.7 20.2h0.62M56.1 21.8h0.62M57.6 12.9h0.62M62.1 12.7h0.62M44.3 22.7h0.62M52.7 24.8h0.62M52.3 13.6h0.62M47.9 14.3h0.62M56.6 37.8h0.62M61.3 18.5h0.62M64.7 24.7h0.62M48.7 10.9h0.62M50.5 19.0h0.62M58.2 18.8h0.62M55.3 16.5h0.62M58.8 28.5h0.62M52.7 31.7h0.62M53.8 21.0h0.62M66.3 27.2h0.62M58.2 9.7h0.62M58.4 20.5h0.62M56.9 30.7h0.62M55.3 35.5h0.62M58.2 24.1h0.62M56.5 23.7h0.62M64.7 24.7h0.62M53.0 17.7h0.62M63.8 26.8h0.62M53.8 22.1h0.62M58.5 27.0h0.62M53.2 23.7h0.62M51.6 17.6h0.62M56.9 32.4h0.62M57.6 34.6h0.62M59.9 32.0h0.62M57.2 10.5h0.62M47.2 20.0h0.62M66.8 21.9h0.62M55.5 27.3h0.62M56.2 20.4h0.62M59.0 25.8h0.62M55.1 17.4h0.62M66.0 17.0h0.62M53.5 21.7h0.62M57.3 25.1h0.62M65.8 32.1h0.62M57.8 23.9h0.62" stroke="#8c8c8c" stroke-width=".6" fill="none"/>
<path d="M79.4 30.8h0.62M62.8 36.7h0.62M78.4 6.5h0.62M38.3 52.4h0.62M2.0 74.3h0.62M27.4 54.9h0.62M6.4 6.4h0.62M7.0 63.9h0.62M76.3 74.2h0.62M43.0 7.4h0.62M63.0 41.1h0.62M63.4 51.4h0.62M45.9 13.8h0.62M11.6 6.6h0.62M35.0 23.4h0.62M77.3 4.0h0.62M61.5 9.7h0.62M8.4 74.8h0.62M17.8 48.2h0.62M47.4 32.3h0.62M28.3 11.4h0.62M56.4 30.1h0.62M48.7 66.3h0.62M6.1 34.3h0.62M28.6 75.5h0.62M50.3 16.0h0.62M37.1 1.2h0.62M41.6 5.7h0.62M11.2 41.2h0.62M43.6 17.2h0.62M47.3 25.2h0.62M56.9 4.2h0.62M68.2 36.4h0.62M14.0 23.6h0.62M50.9 7.7h0.62M73.9 17.9h0.62M33.3 5.9h0.62M37.0 77.9h0.62M15.1 14.4h0.62M44.3 51.8h0.62M11.6 17.8h0.62M48.9 19.4h0.62M2.2 56.3h0.62M70.3 65.3h0.62M69.3 17.2h0.62M25.1 48.6h0.62M49.9 50.7h0.62M44.8 18.9h0.62M19.3 6.9h0.62M4.7 47.1h0.62M7.0 71.0h0.62M77.7 11.9h0.62M78.2 50.5h0.62M29.2 25.0h0.62M5.4 19.7h0.62M1.4 36.3h0.62M39.0 18.8h0.62M74.9 71.8h0.62M40.5 64.9h0.62M28.6 61.0h0.62M63.0 28.5h0.62M60.0 28.5h0.62M14.0 33.9h0.62M9.2 58.2h0.62M20.4 40.3h0.62M65.5 48.5h0.62M73.6 58.8h0.62M56.1 60.0h0.62M55.9 74.4h0.62M48.2 53.5h0.62M44.5 43.3h0.62M76.2 24.3h0.62M15.4 40.6h0.62M25.2 57.8h0.62M16.9 50.2h0.62M32.1 55.1h0.62M38.0 9.0h0.62M55.9 78.9h0.62M7.4 49.9h0.62M49.7 49.6h0.62M40.9 41.0h0.62M80.1 70.6h0.62M35.2 65.9h0.62M54.1 65.2h0.62M17.2 18.8h0.62M66.3 74.9h0.62M18.3 39.3h0.62M72.1 58.5h0.62M47.5 72.4h0.62M74.8 7.4h0.62M78.2 23.6h0.62M49.8 61.0h0.62M23.8 24.8h0.62M73.3 64.1h0.62M79.1 7.6h0.62M50.7 59.9h0.62M77.5 58.8h0.62M22.7 8.2h0.62M14.0 21.0h0.62M46.2 26.1h0.62M12.0 7.0h0.62M55.5 66.0h0.62M10.0 41.6h0.62M79.4 29.2h0.62M43.3 65.7h0.62M1.9 70.7h0.62M62.7 59.6h0.62M27.8 39.8h0.62M76.2 5.0h0.62M6.7 51.9h0.62M77.2 12.1h0.62M15.3 37.3h0.62M63.9 45.7h0.62M53.4 4.2h0.62M16.1 47.4h0.62M58.7 7.4h0.62M7.3 25.5h0.62M33.6 27.0h0.62M13.8 6.0h0.62M52.3 77.2h0.62M51.4 74.5h0.62M10.3 49.9h0.62M29.6 68.6h0.62M48.5 49.7h0.62M74.1 77.4h0.62M11.1 35.4h0.62M6.9 45.4h0.62M18.2 56.6h0.62M71.9 10.2h0.62M21.7 42.1h0.62M4.6 62.5h0.62M58.0 9.5h0.62M50.3 10.4h0.62M43.0 7.6h0.62M22.8 36.5h0.62M44.1 53.0h0.62M75.1 27.2h0.62M28.4 16.9h0.62M59.7 29.7h0.62M17.2 15.6h0.62M34.1 67.7h0.62M35.5 65.9h0.62M38.2 47.1h0.62M20.7 33.2h0.62M58.7 6.8h0.62M36.8 20.5h0.62M23.6 27.4h0.62M16.0 46.7h0.62M3.3 19.3h0.62M21.4 14.7h0.62M67.6 55.6h0.62M71.9 10.8h0.62M15.2 25.4h0.62M41.2 67.6h0.62M67.6 69.7h0.62M1.4 2.2h0.62M27.3 34.7h0.62M10.4 70.8h0.62M17.0 25.8h0.62M14.2 68.7h0.62M9.1 35.6h0.62M17.9 19.9h0.62M59.6 28.8h0.62M79.2 78.2h0.62M51.5 18.4h0.62M3.9 44.1h0.62M39.4 69.9h0.62M19.6 79.8h0.62M49.6 3.1h0.62M16.8 77.7h0.62M64.4 60.0h0.62M53.6 1.9h0.62M75.9 24.1h0.62M62.5 43.7h0.62M39.5 42.6h0.62M74.4 67.6h0.62M31.9 69.1h0.62M14.2 28.3h0.62M26.0 3.8h0.62M78.5 66.2h0.62M38.8 5.0h0.62M21.3 62.6h0.62M23.8 7.7h0.62M34.6 46.8h0.62M10.2 30.5h0.62M45.1 60.3h0.62M20.7 60.8h0.62M6.4 74.1h0.62M44.1 14.0h0.62M66.0 71.5h0.62M10.5 71.5h0.62M77.7 28.8h0.62M64.0 58.3h0.62M45.9 31.4h0.62M25.4 66.1h0.62M63.4 76.6h0.62M5.5 46.2h0.62M57.2 17.6h0.62M1.7 72.4h0.62M63.2 57.8h0.62M26.9 35.5h0.62M65.8 7.6h0.62M58.5 57.3h0.62M37.5 77.2h0.62M51.2 71.6h0.62M15.7 33.1h0.62M23.7 40.4h0.62M73.7 69.1h0.62M79.0 59.4h0.62M59.7 7.4h0.62M33.0 39.6h0.62M8.5 73.0h0.62M30.2 19.7h0.62M6.6 43.5h0.62M27.3 76.8h0.62M51.4 34.8h0.62M12.8 4.0h0.62M55.7 49.6h0.62M40.1 41.0h0.62M33.3 73.4h0.62M4.5 18.7h0.62M64.3 25.5h0.62M26.9 35.0h0.62M24.0 61.5h0.62M7.8 45.0h0.62M57.9 27.8h0.62M59.1 28.8h0.62M50.4 8.3h0.62M25.7 45.4h0.62M49.5 37.6h0.62M3.0 43.7h0.62M70.1 22.0h0.62M16.9 50.3h0.62M18.8 8.3h0.62M6.0 50.6h0.62M71.4 62.5h0.62M47.8 70.9h0.62M68.7 21.7h0.62M30.9 78.9h0.62M76.3 51.9h0.62M51.0 27.7h0.62M7.3 26.7h0.62M18.7 51.2h0.62M53.1 51.0h0.62M16.7 8.1h0.62M30.0 74.0h0.62M37.9 64.7h0.62M14.8 28.7h0.62M64.7 23.7h0.62M59.2 48.5h0.62M53.1 2.4h0.62M29.2 79.8h0.62M30.4 22.6h0.62M56.4 39.2h0.62M50.5 31.6h0.62M22.3 23.6h0.62M18.4 56.2h0.62M7.1 9.5h0.62M41.1 80.2h0.62M63.3 54.2h0.62M40.0 34.8h0.62M0.9 37.7h0.62M28.1 35.3h0.62M6.5 34.0h0.62M18.7 31.1h0.62M4.2 34.0h0.62M6.6 43.5h0.62M49.3 30.4h0.62M7.4 35.8h0.62M0.8 40.7h0.62M8.0 28.1h0.62M50.0 26.1h0.62M45.6 31.2h0.62M50.6 38.9h0.62M48.6 39.6h0.62M42.5 32.5h0.62M37.9 29.4h0.62M50.2 35.8h0.62M30.9 37.5h0.62M47.0 34.2h0.62M38.3 25.3h0.62M40.8 34.5h0.62M12.1 31.4h0.62M50.6 27.2h0.62M17.3 32.8h0.62M35.5 36.0h0.62M43.0 28.9h0.62M6.2 27.2h0.62M15.5 28.4h0.62M39.9 37.3h0.62M53.5 36.7h0.62M39.9 30.4h0.62M44.2 28.2h0.62M46.1 32.9h0.62M44.9 34.1h0.62M38.2 34.3h0.62M44.1 36.2h0.62M40.9 40.1h0.62M8.9 36.6h0.62M33.6 38.0h0.62M8.6 35.7h0.62M45.0 32.2h0.62M51.1 37.7h0.62M29.7 37.4h0.62M49.4 30.1h0.62M12.6 34.9h0.62M45.7 30.2h0.62M1.9 40.8h0.62M48.0 39.3h0.62M51.3 34.3h0.62M17.4 30.5h0.62M3.5 31.6h0.62M45.3 27.1h0.62M1.9 33.9h0.62M8.8 34.4h0.62M1.3 40.2h0.62M1.2 31.0h0.62M45.7 36.1h0.62M46.4 34.0h0.62M19.3 39.5h0.62M41.4 32.9h0.62M25.4 32.4h0.62M22.9 29.2h0.62M37.3 34.8h0.62M21.7 26.9h0.62M36.8 32.8h0.62M10.4 35.5h0.62M51.4 35.8h0.62M20.9 40.4h0.62M37.7 27.2h0.62M19.9 33.5h0.62M51.4 29.4h0.62M27.1 30.0h0.62M34.0 29.5h0.62M9.6 30.1h0.62M36.7 32.0h0.62M41.8 34.5h0.62M13.8 36.9h0.62M51.9 29.7h0.62M52.1 33.8h0.62M42.3 36.3h0.62M6.8 30.3h0.62M20.1 36.7h0.62M24.3 35.4h0.62M25.9 38.0h0.62M9.0 33.0h0.62M9.7 31.7h0.62M22.1 29.7h0.62M26.7 29.0h0.62M32.0 36.5h0.62M2.6 30.9h0.62M31.5 33.7h0.62M25.0 34.2h0.62M40.1 24.3h0.62M33.4 31.8h0.62M39.4 33.5h0.62M10.6 30.1h0.62M14.3 36.9h0.62M46.6 24.3h0.62M1.2 30.8h0.62M25.1 31.5h0.62M35.0 37.8h0.62M31.9 37.2h0.62M20.0 32.2h0.62M40.5 30.9h0.62M49.8 32.6h0.62M12.2 37.6h0.62M49.2 35.6h0.62M46.2 35.6h0.62M27.6 29.1h0.62M15.7 35.6h0.62M45.0 37.0h0.62M29.9 40.0h0.62M29.3 32.8h0.62M31.9 26.8h0.62M45.0 37.5h0.62M9.6 38.0h0.62M19.4 30.5h0.62M40.2 28.7h0.62M27.3 36.2h0.62M34.1 40.3h0.62M25.9 30.0h0.62M20.9 32.4h0.62M5.1 28.4h0.62M27.5 32.6h0.62M9.0 38.7h0.62M16.1 33.6h0.62M30.5 36.5h0.62M46.6 30.3h0.62M41.1 29.6h0.62M21.1 28.9h0.62M11.2 35.9h0.62M40.7 40.1h0.62M3.5 30.1h0.62M49.4 33.9h0.62M33.3 35.5h0.62M18.7 35.7h0.62M29.0 38.0h0.62M29.0 28.6h0.62M42.0 33.2h0.62M38.9 31.8h0.62M25.4 27.1h0.62M34.5 34.7h0.62M24.4 34.6h0.62M36.8 34.5h0.62M15.6 42.7h0.62M26.5 24.2h0.62M8.3 35.5h0.62M13.6 31.3h0.62M18.5 31.1h0.62M7.1 37.0h0.62M31.2 31.7h0.62M13.2 35.2h0.62M37.7 32.9h0.62M3.5 30.5h0.62M51.3 33.0h0.62M23.7 34.1h0.62M12.7 32.9h0.62M53.3 32.9h0.62M14.0 34.3h0.62M19.6 30.1h0.62M16.5 33.0h0.62M25.6 31.4h0.62M28.0 34.0h0.62M31.1 28.3h0.62M24.5 31.0h0.62M61.5 34.2h0.62M71.3 44.1h0.62M53.6 39.2h0.62M61.3 73.6h0.62M56.3 60.3h0.62M65.0 34.9h0.62M55.8 56.7h0.62M59.7 66.7h0.62M66.4 34.0h0.62M48.2 52.3h0.62M55.8 78.0h0.62M53.9 54.2h0.62M59.9 48.6h0.62M57.0 64.9h0.62M61.9 73.5h0.62M53.0 68.3h0.62M51.1 55.4h0.62M63.0 34.0h0.62M67.1 75.3h0.62M52.2 40.5h0.62M58.8 54.5h0.62M57.0 44.0h0.62M53.1 57.1h0.62M58.3 51.0h0.62M59.0 42.7h0.62M50.5 38.5h0.62M58.9 50.5h0.62M63.4 54.7h0.62M60.0 41.8h0.62M42.9 43.6h0.62M57.9 61.7h0.62M58.4 30.0h0.62M52.4 48.3h0.62M58.1 33.7h0.62M59.4 40.7h0.62M57.8 46.8h0.62M49.5 74.8h0.62M60.6 58.3h0.62M61.9 56.2h0.62M59.7 75.8h0.62M53.9 61.5h0.62M55.8 39.2h0.62M51.8 57.9h0.62M59.4 45.5h0.62M58.2 44.3h0.62M58.2 62.4h0.62M67.9 35.1h0.62M55.3 31.5h0.62M47.7 29.0h0.62M49.4 57.2h0.62M51.7 54.8h0.62M52.6 76.4h0.62M62.4 59.7h0.62M58.3 74.8h0.62M52.3 68.8h0.62M53.8 43.9h0.62M58.2 79.9h0.62M57.2 55.6h0.62M56.9 50.6h0.62M54.8 75.9h0.62M55.9 53.6h0.62M60.5 75.0h0.62M54.7 57.0h0.62M52.9 77.9h0.62M56.8 57.8h0.62M53.4 52.2h0.62M57.4 42.3h0.62M54.5 32.1h0.62M60.0 47.4h0.62M66.5 33.0h0.62M59.9 76.0h0.62M56.7 57.1h0.62M62.5 43.5h0.62M57.7 76.8h0.62M53.9 30.2h0.62M69.2 64.5h0.62M62.5 42.0h0.62M55.3 54.9h0.62M54.4 42.6h0.62M50.8 72.8h0.62M56.5 41.6h0.62M52.1 74.3h0.62M55.5 53.4h0.62M66.7 49.6h0.62M49.1 49.5h0.62M65.6 56.1h0.62M57.1 69.2h0.62M53.2 62.9h0.62M54.4 41.9h0.62M58.0 66.2h0.62M59.0 71.7h0.62M57.2 68.0h0.62M43.9 33.7h0.62M53.1 33.7h0.62M69.7 74.5h0.62M59.4 39.1h0.62M55.5 66.8h0.62M57.7 56.1h0.62M57.4 38.0h0.62M62.8 28.7h0.62M53.2 49.0h0.62M70.4 75.0h0.62M59.3 66.1h0.62M71.5 42.0h0.62M58.7 62.5h0.62" stroke="#555" stroke-width=".62" fill="none"/>
<path d="M0 11H52V19M0 41.2H44.5L52.5 34M44.5 81V41.2L52.5 34.2H69.5V81" fill="none" stroke="#8a8a8a" stroke-width=".8"/>
<path d="M0 21H18.52C30.03 21 32.58 15.8 44.09 15.8C49.48 15.8 53.4 20.21 53.4 25.6C53.4 30.99 49.48 35.4 44.09 35.4C32.58 35.4 30.03 30.2 18.52 30.2H0Z" fill="#fff" stroke="#444" stroke-width=".45"/>
<path d="M0 22H18.53C30.04 22 32.6 17.3 44.12 17.3C48.68 17.3 52 21.04 52 25.6C52 30.17 48.68 33.9 44.12 33.9C32.6 33.9 30.04 29.2 18.53 29.2H0Z" fill="#f2f2f2" stroke="#444" stroke-width=".45"/>
<path d="M0 22.7H18.59C30.13 22.7 32.7 18.6 44.25 18.6C48.1 18.6 50.9 21.75 50.9 25.6C50.9 29.45 48.1 32.6 44.25 32.6C32.7 32.6 30.13 28.5 18.59 28.5H0Z" fill="#cfcfcf" stroke="#444" stroke-width=".45"/>
<path d="M6 23.3H22.13C32.15 23.3 34.37 19.7 44.39 19.7C47.64 19.7 50 22.36 50 25.6C50 28.85 47.64 31.5 44.39 31.5C34.37 31.5 32.15 27.9 22.13 27.9H6Z" fill="#8f8f8f" stroke="#444" stroke-width=".45"/>
<path d="M13 23.7H26.25C34.49 23.7 36.32 20.6 44.55 20.6C47.3 20.6 49.3 22.85 49.3 25.6C49.3 28.35 47.3 30.6 44.55 30.6C36.32 30.6 34.49 27.5 26.25 27.5H13Z" fill="#484848" stroke="#444" stroke-width=".45"/>
<path d="M18 24.1H29.18C36.12 24.1 37.67 21.3 44.62 21.3C46.98 21.3 48.7 23.23 48.7 25.6C48.7 27.97 46.98 29.9 44.62 29.9C37.67 29.9 36.12 27.1 29.18 27.1H18Z" fill="#111" stroke="#444" stroke-width=".45"/>
<path d="M22 24.4H31.53C37.45 24.4 38.76 21.9 44.69 21.9C46.72 21.9 48.2 23.57 48.2 25.6C48.2 27.64 46.72 29.3 44.69 29.3C38.76 29.3 37.45 26.8 31.53 26.8H22Z" fill="#000" stroke="#444" stroke-width=".45"/>
<path d="M5 25.6H43" stroke="#e8e8e8" stroke-width=".8" stroke-dasharray="5 1.2 9 1 3 1"/>
<path d="M.4 17.5C2.6 19.5 2.9 23 2.4 25.6 C2.9 28 2.6 31.5 .4 33.5Z" fill="#000"/>
<circle cx="58.8" cy="24.6" r="4" fill="#e4e4e4" stroke="#444" stroke-width=".7"/>
<circle cx="58.8" cy="24.6" r="2.4" fill="#a9a9a9" stroke="#333" stroke-width=".7"/>
<circle cx="58.8" cy="24.6" r=".8" fill="#f4f4f4"/>
<path d="M56.5 29C57.5 31 57.5 33 55.5 36M61 29C60 31 60.2 33 62 36" fill="none" stroke="#444" stroke-width=".7"/>
<path d="M58.5 35C64.51 35.77 66.3 43.09 66.3 51.55C66.3 61.18 60.84 68.88 58.5 73.5C56.16 68.88 50.7 61.18 50.7 51.55C50.7 43.09 52.49 35.77 58.5 35Z" fill="#fff" stroke="#333" stroke-width=".6"/>
<path d="M58.5 38.5C63.27 39.05 64.7 44.28 64.7 50.33C64.7 57.2 60.36 62.7 58.5 66C56.64 62.7 52.3 57.2 52.3 50.33C52.3 44.28 53.73 39.05 58.5 38.5Z" fill="#dcdcdc" stroke="#333" stroke-width=".6"/>
<path d="M58.5 40.5C62.2 40.91 63.3 44.8 63.3 49.31C63.3 54.44 59.94 58.54 58.5 61C57.06 58.54 53.7 54.44 53.7 49.31C53.7 44.8 54.8 40.91 58.5 40.5Z" fill="#b4b4b4" stroke="#333" stroke-width=".6"/>
<path d="M58.5 42.5C61.04 42.79 61.8 45.55 61.8 48.73C61.8 52.36 59.49 55.26 58.5 57C57.51 55.26 55.2 52.36 55.2 48.73C55.2 45.55 55.96 42.79 58.5 42.5Z" fill="#959595" stroke="#333" stroke-width=".6"/>
<path d="M58.5 45C59.81 45.16 60.2 46.68 60.2 48.44C60.2 50.44 59.01 52.04 58.5 53C57.99 52.04 56.8 50.44 56.8 48.44C56.8 46.68 57.19 45.16 58.5 45Z" fill="#cfcfcf" stroke="#333" stroke-width=".6"/>
<path d="M58.5 47V52" stroke="#f2f2f2" stroke-width=".8"/>
<path d="M53.5 64C55 69 57 72 58.5 73.5C60 72 62 69 63.5 64M58.5 73.5C56.5 76 55 78 53.5 80.5M58.5 73.5C60.500 76 62 78 63.500 80.500" fill="none" stroke="#333" stroke-width=".8"/>
<path d="M52 80.6C54 79 56 78 58.500 77.800C61 78 63 79 65 80.600Z" fill="#000"/>
<rect x="78" y="78.500" width="2.600" height="2.200" fill="#111"/>
</g>
<g transform="translate(410.2 254.2) scale(1 1)">
<rect x="0" y="0" width="81" height="81" fill="#fff" stroke="#666" stroke-width=".9"/>
<path d="M51.7 34.1h0.62M53.9 34.2h0.62M9.9 37.4h0.62M18.7 37.2h0.62M48.0 34.6h0.62M17.3 42.7h0.62M32.5 38.6h0.62M49.9 31.3h0.62M38.2 40.7h0.62M31.8 35.8h0.62M16.8 36.2h0.62M31.5 40.1h0.62M50.7 35.0h0.62M30.6 24.5h0.62M37.7 31.5h0.62M51.7 31.8h0.62M16.9 35.3h0.62M35.1 24.8h0.62M7.7 36.0h0.62M10.0 28.8h0.62M2.7 32.7h0.62M50.0 33.4h0.62M27.3 29.9h0.62M35.7 33.2h0.62M49.5 32.4h0.62M31.5 36.9h0.62M16.1 29.9h0.62M23.4 31.1h0.62M36.4 32.1h0.62M53.8 33.3h0.62M19.2 30.3h0.62M50.2 35.1h0.62M51.4 30.0h0.62M5.2 33.3h0.62M48.4 35.7h0.62M18.9 37.6h0.62M17.7 32.1h0.62M2.0 35.4h0.62M28.9 35.1h0.62M10.9 28.6h0.62M37.5 37.1h0.62M44.7 34.8h0.62M49.7 26.8h0.62M26.9 35.3h0.62M28.3 24.0h0.62M40.2 28.0h0.62M25.5 32.9h0.62M19.1 28.5h0.62M42.3 35.7h0.62M50.9 29.1h0.62M1.0 28.5h0.62M18.4 33.6h0.62M9.3 32.2h0.62M14.5 30.0h0.62M2.3 36.9h0.62M6.4 32.9h0.62M11.7 33.4h0.62M9.8 40.8h0.62M14.9 36.9h0.62M11.2 35.9h0.62M18.6 32.8h0.62M45.0 25.4h0.62M2.1 28.6h0.62M1.8 38.5h0.62M11.0 30.1h0.62M40.5 33.8h0.62M38.8 30.9h0.62M12.5 34.2h0.62M14.4 38.5h0.62M8.5 35.7h0.62M48.0 32.9h0.62M26.9 32.6h0.62M32.6 37.6h0.62M1.6 34.7h0.62M41.4 38.7h0.62M53.2 33.7h0.62M45.7 34.1h0.62M7.6 38.0h0.62M18.5 38.0h0.62M20.5 32.2h0.62M43.3 31.9h0.62M48.2 30.4h0.62M45.8 32.5h0.62M27.7 34.7h0.62M8.6 36.3h0.62M45.3 28.1h0.62M44.1 33.3h0.62M52.6 34.9h0.62M47.2 37.0h0.62M41.1 29.6h0.62M10.5 37.0h0.62M8.7 36.9h0.62M12.7 34.7h0.62M28.0 35.6h0.62M30.1 33.2h0.62M46.7 30.0h0.62M41.5 31.0h0.62M1.2 38.8h0.62M43.6 31.9h0.62M44.6 34.7h0.62M9.6 34.4h0.62M27.3 40.9h0.62M22.2 30.6h0.62M33.6 33.4h0.62M52.4 30.4h0.62M50.9 32.5h0.62M43.2 25.9h0.62M35.2 32.3h0.62M12.9 36.2h0.62M3.1 36.3h0.62M1.3 32.2h0.62M17.1 36.7h0.62M17.9 36.0h0.62M9.5 29.9h0.62M19.1 34.1h0.62M43.9 32.0h0.62M47.4 37.8h0.62M51.8 32.9h0.62M51.3 34.3h0.62M27.8 34.0h0.62M12.9 35.4h0.62M16.8 34.3h0.62M53.7 34.5h0.62M44.3 36.7h0.62M43.3 36.3h0.62M27.2 36.6h0.62M20.6 35.0h0.62M49.4 30.1h0.62M34.1 31.6h0.62M2.6 31.0h0.62M36.2 27.6h0.62M19.5 33.5h0.62M4.4 34.1h0.62M8.3 27.6h0.62M11.7 35.4h0.62M25.5 30.3h0.62M1.1 29.8h0.62M49.7 31.0h0.62M12.9 32.0h0.62M37.2 36.6h0.62M21.5 32.3h0.62M30.1 35.3h0.62M49.5 36.9h0.62M30.0 34.8h0.62M46.9 31.1h0.62M42.3 34.3h0.62M36.8 38.0h0.62M30.9 31.5h0.62M29.9 32.0h0.62M19.1 34.6h0.62M52.9 30.3h0.62M31.3 34.1h0.62M6.9 37.3h0.62M39.8 38.3h0.62M16.6 35.0h0.62M42.0 37.4h0.62M38.6 37.5h0.62M12.6 36.0h0.62M35.0 36.1h0.62M14.1 37.5h0.62M43.7 33.8h0.62M8.5 37.6h0.62M8.7 32.0h0.62M5.4 30.8h0.62M9.5 36.6h0.62M4.5 30.8h0.62M24.0 33.6h0.62M24.3 32.1h0.62M12.3 29.1h0.62M9.7 34.3h0.62M6.6 32.7h0.62M3.8 35.7h0.62M49.9 29.6h0.62M33.8 31.6h0.62M39.5 36.9h0.62M12.5 34.8h0.62M2.3 30.1h0.62M18.6 31.7h0.62M48.9 32.9h0.62M50.0 25.8h0.62M37.3 33.0h0.62M29.1 38.5h0.62M49.7 41.1h0.62M24.4 32.5h0.62M33.4 34.5h0.62M46.2 31.3h0.62M33.1 35.5h0.62M42.8 35.0h0.62M34.7 36.2h0.62M2.2 34.9h0.62M44.9 30.7h0.62M24.6 34.0h0.62M6.1 34.2h0.62M14.1 33.9h0.62M34.1 27.2h0.62M16.6 30.6h0.62M19.8 28.6h0.62M4.4 31.1h0.62M10.2 34.1h0.62M21.1 40.5h0.62M15.2 37.1h0.62M48.5 33.6h0.62M48.6 33.1h0.62M43.7 26.2h0.62M25.8 32.4h0.62M1.4 35.4h0.62M46.3 36.1h0.62M44.8 36.1h0.62M6.0 35.9h0.62M12.3 31.4h0.62M8.1 36.6h0.62M35.5 34.0h0.62M26.0 41.2h0.62M23.2 33.9h0.62M13.9 30.3h0.62M6.6 32.9h0.62M39.7 36.1h0.62M19.2 32.8h0.62M3.8 30.8h0.62M16.5 27.4h0.62M10.8 38.5h0.62M11.4 35.1h0.62M51.9 35.9h0.62M50.3 33.8h0.62M26.3 34.7h0.62M31.6 36.5h0.62M41.5 36.0h0.62M42.5 28.2h0.62M26.3 29.4h0.62M7.4 34.6h0.62M27.8 33.8h0.62M2.4 36.8h0.62M8.6 37.8h0.62M12.8 35.1h0.62M30.0 31.0h0.62M6.9 33.5h0.62M32.2 31.1h0.62M27.4 28.7h0.62M31.3 36.6h0.62M43.2 34.1h0.62M20.4 36.6h0.62M45.0 35.9h0.62M5.3 36.8h0.62M47.1 36.3h0.62M21.1 33.7h0.62M5.1 39.8h0.62M16.0 27.9h0.62M46.5 29.5h0.62M17.6 33.3h0.62M6.6 37.0h0.62M14.7 34.6h0.62M14.6 23.7h0.62M3.9 33.0h0.62M42.9 24.3h0.62M22.3 33.4h0.62M40.2 27.5h0.62M26.6 39.9h0.62M12.7 33.6h0.62M23.3 36.6h0.62M44.1 35.5h0.62M26.3 27.4h0.62M4.7 32.7h0.62M19.1 29.4h0.62M37.0 34.0h0.62M50.6 35.0h0.62M36.9 29.3h0.62M29.1 38.4h0.62M32.1 33.2h0.62M21.4 28.3h0.62M20.1 36.6h0.62M48.8 32.4h0.62M38.2 24.7h0.62M30.8 33.1h0.62M35.7 34.1h0.62M40.6 32.6h0.62M1.9 27.6h0.62M36.9 32.9h0.62M46.9 37.1h0.62M21.9 32.5h0.62M9.8 33.8h0.62M11.4 34.6h0.62M2.6 37.9h0.62M4.8 38.6h0.62M52.4 36.6h0.62M40.5 31.7h0.62M42.3 33.4h0.62M7.0 37.4h0.62M46.6 35.6h0.62M16.8 35.7h0.62M52.2 31.2h0.62M39.9 40.5h0.62M44.1 25.8h0.62M10.6 29.1h0.62M39.0 33.1h0.62M12.4 31.0h0.62M9.9 32.2h0.62M24.3 35.1h0.62M19.1 29.3h0.62M12.2 31.3h0.62M14.7 36.4h0.62M16.8 34.0h0.62M36.4 36.6h0.62M33.8 27.9h0.62M36.0 27.8h0.62M7.0 30.0h0.62M40.3 36.1h0.62M28.6 37.0h0.62M35.4 35.9h0.62M42.4 31.2h0.62M1.8 34.4h0.62M27.2 33.6h0.62M28.2 31.9h0.62M32.2 31.2h0.62M5.0 32.6h0.62M1.2 31.0h0.62M22.6 40.8h0.62M53.3 35.8h0.62M23.8 29.3h0.62M30.4 35.3h0.62M8.4 30.9h0.62M48.5 31.2h0.62M21.6 31.0h0.62M5.5 27.8h0.62M26.9 31.0h0.62M37.7 33.4h0.62M34.4 30.4h0.62M52.5 33.1h0.62M35.8 31.4h0.62M34.8 34.5h0.62M49.3 28.1h0.62M52.7 34.6h0.62M2.5 37.6h0.62M53.3 36.6h0.62M33.3 36.0h0.62M23.2 35.6h0.62M12.1 37.3h0.62M26.5 32.9h0.62M24.1 30.6h0.62M34.1 27.3h0.62M48.1 32.3h0.62M52.2 35.7h0.62M6.4 37.2h0.62M37.7 28.0h0.62M26.1 37.9h0.62M43.1 38.5h0.62M22.3 34.6h0.62M45.0 34.8h0.62M37.1 34.5h0.62M17.6 30.2h0.62M53.2 35.1h0.62M33.7 37.0h0.62M46.3 27.6h0.62M24.1 32.5h0.62M48.3 37.8h0.62M47.7 25.8h0.62M41.2 34.7h0.62M2.2 29.3h0.62M2.4 28.8h0.62M20.4 31.0h0.62M28.6 30.2h0.62M4.9 33.1h0.62M18.9 40.8h0.62M25.9 31.1h0.62M22.4 32.0h0.62M27.3 38.3h0.62M9.6 28.5h0.62M27.2 33.7h0.62M28.7 25.9h0.62M34.1 30.3h0.62M48.2 29.4h0.62M53.2 35.5h0.62M38.7 33.5h0.62M20.9 33.3h0.62M49.2 35.2h0.62M48.3 29.4h0.62M11.1 32.8h0.62M50.1 33.7h0.62M31.0 31.4h0.62M53.8 33.3h0.62M19.6 37.1h0.62M20.1 37.3h0.62M13.2 37.0h0.62M36.7 26.8h0.62M40.3 35.0h0.62M46.3 37.2h0.62M41.8 38.9h0.62M15.8 35.2h0.62M41.7 33.6h0.62M52.3 36.1h0.62M21.7 34.7h0.62M3.7 29.1h0.62M45.5 28.1h0.62M9.6 38.9h0.62M8.4 30.2h0.62M46.1 40.3h0.62M40.6 30.5h0.62M44.1 33.1h0.62M36.7 33.5h0.62M27.0 34.7h0.62M47.8 35.1h0.62M48.8 34.3h0.62M37.7 33.8h0.62M15.7 36.3h0.62M38.5 30.7h0.62M2.5 34.0h0.62M23.2 31.2h0.62M26.2 32.4h0.62M24.2 36.0h0.62M2.8 34.6h0.62M46.1 35.2h0.62M16.8 41.3h0.62M8.9 32.8h0.62M46.2 37.5h0.62M26.1 33.3h0.62M36.4 30.8h0.62M39.6 33.8h0.62M11.9 33.0h0.62M17.5 34.1h0.62M43.5 35.1h0.62M21.4 35.4h0.62M16.1 34.8h0.62M10.9 33.6h0.62M42.8 34.7h0.62M37.5 27.2h0.62M53.9 33.3h0.62M24.3 39.2h0.62M51.9 28.2h0.62M41.9 35.6h0.62M52.0 33.9h0.62M35.1 30.4h0.62M43.0 36.1h0.62M39.4 32.6h0.62M39.0 34.6h0.62M30.4 35.1h0.62M32.3 31.2h0.62M8.0 38.0h0.62M30.9 27.0h0.62M38.9 32.1h0.62M4.3 31.8h0.62M28.4 32.9h0.62M36.6 33.5h0.62M28.7 33.1h0.62M9.4 29.4h0.62M26.4 33.4h0.62M41.2 32.4h0.62M13.3 37.5h0.62M10.7 32.2h0.62M43.2 32.0h0.62M20.2 38.4h0.62M1.1 37.7h0.62M15.9 33.2h0.62M37.9 33.1h0.62M30.4 36.7h0.62M44.8 33.1h0.62M52.9 32.2h0.62M18.4 33.6h0.62M43.9 38.7h0.62M28.1 33.6h0.62M40.0 27.8h0.62M6.2 39.7h0.62M22.5 32.0h0.62M11.7 37.9h0.62M20.9 25.9h0.62M1.5 36.1h0.62M15.3 37.0h0.62M41.7 38.2h0.62M0.9 35.1h0.62M25.0 26.3h0.62M32.2 35.8h0.62M12.2 25.7h0.62M38.2 36.6h0.62M49.2 35.2h0.62M33.9 29.8h0.62M24.6 32.8h0.62M1.7 25.7h0.62M6.4 30.4h0.62M1.9 28.9h0.62M23.2 28.9h0.62M4.5 30.4h0.62M12.5 29.4h0.62M43.9 27.5h0.62M12.7 31.9h0.62M19.6 30.8h0.62M45.8 29.0h0.62M50.9 33.5h0.62M25.1 33.1h0.62M36.0 34.2h0.62M3.3 30.5h0.62M31.3 35.1h0.62M12.4 37.7h0.62M47.4 38.1h0.62M47.4 34.5h0.62M34.7 36.4h0.62M44.6 37.2h0.62M34.1 39.1h0.62M20.7 29.9h0.62M6.7 32.1h0.62M44.2 29.8h0.62M24.0 33.2h0.62M40.8 31.6h0.62M46.7 35.9h0.62M36.3 27.8h0.62M9.2 32.2h0.62M15.8 36.2h0.62M31.6 30.2h0.62M48.1 37.6h0.62M53.6 38.5h0.62M31.3 33.7h0.62M23.3 32.9h0.62M13.2 26.2h0.62M34.3 35.7h0.62M19.1 36.9h0.62M44.3 39.8h0.62M28.2 29.7h0.62M38.3 31.0h0.62M7.4 30.0h0.62M14.5 38.3h0.62M6.2 32.3h0.62M19.2 34.8h0.62M20.6 35.0h0.62M15.8 37.8h0.62M50.2 34.1h0.62M25.0 30.7h0.62M14.4 35.7h0.62M17.7 34.9h0.62M49.4 37.2h0.62M19.7 36.7h0.62M34.4 30.7h0.62M26.0 27.8h0.62M31.9 38.3h0.62M10.3 32.3h0.62M30.6 37.0h0.62M20.4 33.3h0.62M53.7 36.7h0.62M39.9 38.6h0.62M7.6 27.8h0.62M28.9 32.9h0.62M28.6 29.5h0.62M34.2 32.1h0.62M2.9 31.9h0.62M14.7 36.6h0.62M2.1 34.3h0.62M5.7 32.3h0.62M38.5 31.6h0.62M22.6 36.0h0.62M47.1 29.7h0.62M22.9 26.4h0.62M37.0 37.6h0.62M23.1 37.6h0.62M34.8 29.4h0.62M1.5 34.9h0.62M0.9 32.5h0.62M18.3 34.5h0.62M26.2 36.1h0.62M27.2 30.5h0.62M37.5 27.1h0.62M46.8 31.8h0.62M38.4 34.5h0.62M53.7 36.0h0.62M20.9 37.9h0.62M53.1 37.6h0.62M19.4 34.4h0.62M19.9 33.6h0.62M14.9 33.5h0.62M52.2 33.0h0.62M33.4 33.7h0.62M35.5 40.3h0.62M51.2 30.4h0.62M14.3 31.3h0.62M18.7 38.7h0.62M20.3 35.9h0.62M7.2 34.2h0.62M20.1 32.9h0.62M15.5 31.3h0.62M4.5 29.6h0.62M32.4 36.2h0.62M34.9 28.2h0.62M43.2 32.3h0.62M45.4 41.9h0.62M25.9 33.6h0.62M53.6 33.9h0.62M2.5 29.6h0.62M5.2 33.7h0.62M2.7 33.2h0.62M37.7 29.4h0.62M3.6 30.2h0.62M51.8 33.6h0.62M30.8 33.0h0.62M17.6 34.1h0.62M53.1 38.5h0.62M1.7 36.4h0.62M4.7 25.7h0.62M48.5 36.8h0.62M1.3 33.9h0.62M9.6 35.8h0.62M23.5 37.7h0.62M52.3 33.6h0.62M3.8 32.2h0.62M15.1 36.2h0.62M45.3 27.7h0.62M46.8 33.1h0.62M45.4 29.0h0.62M44.5 36.7h0.62M28.7 26.9h0.62M4.7 29.6h0.62M51.2 29.7h0.62M40.3 39.9h0.62M17.7 28.8h0.62M50.0 30.1h0.62M24.0 32.0h0.62M26.8 28.7h0.62M13.8 36.6h0.62M23.5 28.0h0.62M39.4 25.9h0.62M30.0 29.9h0.62M49.9 37.3h0.62M1.0 31.4h0.62M41.9 35.5h0.62M36.0 41.3h0.62M22.0 33.7h0.62M7.5 34.7h0.62M13.4 34.4h0.62M4.4 33.1h0.62M23.4 31.7h0.62M35.5 30.8h0.62M24.5 34.7h0.62M24.8 29.4h0.62M17.1 31.3h0.62M36.8 39.3h0.62M33.4 26.1h0.62M15.9 37.4h0.62M53.5 33.6h0.62M53.4 33.0h0.62M11.0 31.3h0.62M8.4 25.5h0.62M11.3 37.2h0.62M44.1 30.9h0.62M24.5 32.7h0.62M2.9 28.4h0.62M17.5 27.8h0.62M52.4 32.8h0.62M37.5 36.9h0.62M11.6 37.7h0.62M26.5 34.6h0.62M8.8 34.4h0.62M10.3 35.2h0.62M8.1 29.2h0.62M32.3 27.5h0.62M12.3 25.1h0.62M19.4 30.7h0.62M39.4 39.7h0.62M46.4 33.8h0.62M29.3 37.4h0.62M42.2 30.6h0.62M26.5 31.5h0.62M30.3 35.5h0.62M41.6 38.8h0.62M1.8 34.8h0.62M34.8 31.9h0.62M35.3 25.8h0.62M35.2 31.4h0.62M37.5 28.7h0.62M36.8 35.5h0.62M51.4 30.8h0.62M10.4 34.7h0.62M29.6 33.9h0.62M46.3 39.0h0.62M27.0 38.8h0.62M35.8 39.4h0.62M25.0 43.3h0.62M13.0 32.8h0.62M35.1 32.8h0.62M45.3 35.6h0.62M14.8 35.5h0.62M10.5 28.8h0.62M24.7 29.1h0.62M37.5 39.1h0.62M20.5 29.9h0.62M48.3 36.2h0.62M4.6 39.8h0.62M17.3 37.3h0.62M6.0 36.4h0.62M32.8 36.3h0.62M26.8 38.3h0.62M16.8 37.5h0.62M10.4 38.3h0.62M17.9 40.1h0.62M39.0 30.0h0.62M34.4 37.4h0.62M44.9 27.9h0.62M40.6 28.4h0.62M21.3 36.7h0.62M30.4 35.7h0.62M36.4 33.9h0.62M4.6 39.6h0.62M48.4 37.9h0.62M52.5 34.3h0.62M32.7 30.6h0.62M27.9 35.4h0.62M33.1 34.7h0.62M22.9 13.1h0.62M3.9 15.5h0.62M8.5 19.3h0.62M19.9 17.9h0.62M29.9 17.9h0.62M8.9 20.5h0.62M43.7 18.7h0.62M24.8 22.1h0.62M27.3 22.7h0.62M0.8 20.6h0.62M46.8 20.5h0.62M24.0 18.4h0.62M33.0 17.3h0.62M18.6 26.6h0.62M11.9 17.8h0.62M32.8 14.5h0.62M51.5 19.7h0.62M48.4 16.7h0.62M48.2 20.9h0.62M46.9 19.1h0.62M21.7 16.6h0.62M45.6 20.6h0.62M51.6 14.8h0.62M34.9 17.7h0.62M39.4 21.7h0.62M7.0 18.8h0.62M31.9 14.8h0.62M35.0 17.1h0.62M8.0 17.1h0.62M32.1 19.7h0.62M5.2 20.2h0.62M42.5 20.3h0.62M26.1 23.5h0.62M30.2 20.1h0.62M49.4 18.1h0.62M44.3 12.7h0.62M40.4 20.6h0.62M52.6 15.3h0.62M49.5 19.5h0.62M51.0 20.6h0.62M36.6 16.2h0.62M4.5 16.3h0.62M23.0 19.6h0.62M24.8 18.2h0.62M24.0 15.9h0.62M41.2 15.6h0.62M30.7 18.3h0.62M25.0 17.4h0.62M50.8 17.9h0.62M52.4 13.4h0.62M8.6 12.9h0.62M17.3 18.4h0.62M27.9 18.5h0.62M49.1 19.0h0.62M39.8 19.0h0.62M30.0 12.9h0.62M45.4 18.6h0.62M25.3 15.4h0.62M11.0 13.6h0.62M1.8 19.9h0.62M51.1 19.0h0.62M16.0 20.9h0.62M1.9 16.9h0.62M21.9 17.0h0.62M45.0 15.9h0.62M7.3 18.8h0.62M1.0 19.2h0.62M16.4 15.4h0.62M40.9 16.3h0.62M51.9 17.8h0.62M22.1 14.6h0.62M22.6 24.2h0.62M25.2 19.9h0.62M13.5 15.0h0.62M2.7 19.4h0.62M40.1 18.7h0.62M20.2 16.1h0.62M2.2 17.7h0.62M53.2 16.2h0.62M34.0 14.8h0.62M2.7 20.3h0.62M12.5 13.6h0.62M46.3 19.6h0.62M49.2 17.8h0.62M2.4 18.1h0.62M7.7 11.3h0.62M24.1 21.2h0.62M2.9 18.5h0.62M26.6 18.7h0.62M36.1 19.6h0.62M12.9 19.3h0.62M20.4 19.8h0.62M36.4 15.2h0.62M37.5 16.5h0.62M14.6 17.7h0.62M5.1 17.3h0.62M30.6 16.9h0.62M53.1 16.5h0.62M6.2 19.3h0.62M32.1 15.2h0.62M23.0 20.6h0.62M36.8 19.1h0.62M40.1 19.0h0.62M27.7 16.2h0.62M6.4 15.7h0.62M42.8 19.2h0.62M5.1 21.4h0.62M42.8 19.2h0.62M3.9 17.5h0.62M46.1 16.8h0.62M34.4 18.8h0.62M45.2 20.4h0.62M51.3 20.7h0.62M6.2 18.7h0.62M52.1 20.6h0.62M45.9 17.3h0.62M13.6 19.0h0.62M16.6 16.8h0.62M28.6 18.0h0.62M5.8 15.3h0.62M1.8 19.2h0.62M35.2 19.8h0.62M10.1 21.2h0.62M16.7 16.2h0.62M31.0 19.2h0.62M35.9 16.5h0.62M34.6 19.8h0.62M3.3 14.8h0.62M46.7 18.9h0.62M6.4 21.4h0.62M42.6 20.2h0.62M37.8 14.1h0.62M49.3 13.3h0.62M15.2 17.1h0.62M7.3 18.4h0.62M42.0 20.6h0.62M41.7 16.7h0.62M48.5 22.2h0.62M21.2 17.3h0.62M21.2 16.2h0.62M10.3 41.4h0.62M4.0 42.9h0.62M39.8 38.9h0.62M10.7 68.8h0.62M17.4 40.0h0.62M8.4 36.5h0.62M43.8 54.1h0.62M48.2 66.0h0.62M31.2 77.2h0.62M12.6 54.1h0.62M40.6 38.3h0.62M10.9 38.5h0.62M5.3 38.9h0.62M17.1 58.5h0.62M11.1 39.6h0.62M34.0 59.1h0.62M33.9 41.2h0.62M23.4 36.8h0.62M22.0 36.0h0.62M37.4 46.2h0.62M8.7 39.3h0.62M29.3 40.8h0.62M38.1 48.4h0.62M38.5 37.7h0.62M10.2 76.0h0.62M36.0 43.8h0.62M50.0 36.8h0.62M30.3 37.9h0.62M15.4 39.2h0.62M19.6 36.8h0.62M8.9 51.9h0.62M8.5 45.5h0.62M48.7 57.2h0.62M5.0 54.6h0.62M29.1 46.9h0.62M39.9 80.2h0.62M18.1 60.2h0.62M10.2 47.3h0.62M44.2 57.5h0.62M17.3 66.6h0.62M48.4 70.5h0.62M52.8 51.8h0.62M56.7 75.0h0.62M60.8 34.7h0.62M62.6 35.2h0.62M60.8 40.3h0.62M56.9 73.3h0.62M53.9 48.4h0.62M65.4 41.9h0.62M50.9 58.0h0.62M57.0 29.9h0.62M55.5 74.2h0.62M62.1 35.0h0.62M58.8 72.5h0.62M54.7 54.5h0.62M53.2 79.0h0.62M61.1 43.5h0.62M68.5 42.0h0.62M56.4 58.7h0.62M53.2 64.7h0.62M63.6 49.4h0.62M60.3 71.6h0.62M59.6 49.0h0.62M52.7 69.3h0.62M58.4 70.9h0.62M56.9 73.7h0.62M56.7 53.4h0.62M66.5 41.8h0.62M64.8 66.7h0.62M61.2 49.8h0.62M56.3 72.0h0.62M55.8 67.1h0.62M55.9 28.1h0.62M58.6 49.5h0.62M58.5 44.7h0.62M60.1 77.3h0.62M50.2 50.8h0.62M57.6 44.1h0.62M62.1 64.6h0.62M64.6 55.6h0.62M51.3 38.7h0.62M60.2 77.6h0.62M60.6 73.6h0.62M56.0 65.5h0.62M67.7 71.1h0.62M60.5 43.8h0.62M60.5 30.0h0.62M64.5 35.9h0.62M56.9 49.1h0.62M53.4 76.3h0.62M59.9 30.7h0.62M54.1 30.1h0.62M52.5 56.5h0.62M51.0 55.1h0.62M52.1 54.4h0.62M54.4 65.3h0.62M63.5 53.8h0.62M58.4 60.9h0.62M53.2 50.1h0.62M49.8 33.9h0.62M54.9 29.7h0.62M59.3 35.7h0.62M62.4 57.9h0.62M52.7 68.8h0.62M60.2 34.3h0.62M67.0 41.5h0.62M54.0 67.9h0.62M58.7 46.4h0.62M58.3 65.7h0.62M56.8 43.1h0.62M61.4 43.3h0.62M57.3 46.4h0.62M52.1 80.0h0.62M54.7 75.9h0.62M64.3 80.1h0.62M53.7 60.6h0.62M61.0 56.0h0.62M51.8 38.2h0.62M56.6 36.8h0.62M54.8 52.5h0.62M57.1 30.0h0.62M56.4 53.9h0.62M61.0 75.9h0.62M60.3 45.7h0.62M61.8 43.3h0.62M60.4 63.9h0.62M59.7 73.2h0.62M67.8 70.2h0.62M59.1 67.4h0.62M58.6 43.7h0.62M56.0 73.1h0.62M49.0 41.5h0.62M57.4 73.0h0.62M61.1 66.9h0.62M62.3 76.0h0.62M59.7 65.1h0.62M56.4 75.8h0.62M61.1 30.4h0.62M60.0 45.6h0.62M58.5 54.4h0.62M49.8 50.0h0.62M53.2 77.6h0.62M63.1 45.1h0.62M56.4 70.4h0.62M58.6 55.6h0.62M63.8 50.0h0.62M52.2 30.7h0.62M54.8 48.2h0.62M63.7 51.9h0.62M58.8 76.8h0.62M62.4 70.1h0.62M51.5 32.3h0.62M66.0 62.1h0.62M57.7 54.5h0.62M63.0 58.5h0.62M57.3 48.7h0.62M62.5 71.7h0.62M68.6 66.7h0.62M53.0 79.2h0.62M69.4 47.4h0.62M61.4 29.8h0.62M61.3 63.2h0.62M69.0 32.5h0.62M69.9 79.0h0.62M68.4 74.7h0.62M50.6 52.7h0.62M58.3 30.1h0.62M65.4 57.1h0.62M57.8 50.8h0.62M62.2 63.4h0.62M55.8 79.9h0.62M58.8 39.7h0.62M49.3 64.1h0.62M53.5 51.3h0.62M60.4 56.4h0.62M56.9 34.6h0.62M53.9 72.1h0.62M58.4 52.0h0.62M59.9 34.7h0.62M61.6 54.4h0.62M66.4 67.9h0.62M49.2 32.3h0.62M55.7 34.7h0.62M55.4 33.8h0.62M58.8 73.9h0.62M56.5 45.3h0.62M50.2 37.5h0.62M67.0 50.5h0.62M63.2 40.6h0.62M52.3 33.3h0.62M61.7 78.2h0.62M51.5 37.6h0.62M56.7 44.8h0.62M66.9 79.9h0.62M57.6 54.1h0.62M61.1 32.6h0.62M48.9 62.8h0.62M67.1 50.8h0.62M53.2 31.0h0.62M49.7 78.8h0.62M63.1 38.8h0.62M55.2 65.7h0.62M55.9 60.0h0.62M57.7 54.9h0.62M57.5 56.9h0.62M57.8 51.8h0.62M64.2 66.0h0.62M51.9 58.2h0.62M59.7 41.8h0.62M68.8 78.7h0.62M52.9 49.0h0.62M57.5 53.0h0.62M55.3 49.9h0.62M58.4 30.2h0.62M56.0 39.9h0.62M57.5 29.3h0.62M57.1 53.4h0.62M58.4 63.0h0.62M62.1 43.9h0.62M62.0 51.6h0.62M56.5 73.7h0.62M63.4 29.1h0.62M69.1 61.8h0.62M52.9 68.3h0.62M57.8 36.8h0.62M52.8 34.0h0.62M51.9 65.8h0.62M53.5 80.2h0.62M56.5 42.6h0.62M65.7 74.1h0.62M65.4 74.1h0.62M61.5 40.5h0.62M57.6 44.1h0.62M62.8 71.6h0.62M55.6 76.4h0.62M50.4 67.9h0.62M54.4 76.1h0.62M61.5 66.2h0.62M51.3 59.0h0.62M58.5 77.0h0.62M59.6 34.3h0.62M55.4 40.2h0.62M60.2 37.3h0.62M55.8 73.7h0.62M57.7 60.1h0.62M61.0 67.3h0.62M61.2 79.0h0.62M57.6 41.4h0.62M59.1 58.1h0.62M52.5 30.9h0.62M65.0 80.1h0.62M65.3 54.8h0.62M62.5 74.2h0.62M53.8 46.7h0.62M60.8 76.7h0.62M56.5 50.2h0.62M53.8 47.8h0.62M69.6 73.5h0.62M66.7 78.6h0.62M56.7 32.9h0.62M58.3 39.6h0.62M53.8 79.1h0.62M59.2 75.3h0.62M54.0 47.3h0.62M60.2 51.1h0.62M56.2 72.4h0.62M59.6 65.8h0.62M63.1 51.1h0.62M58.5 69.6h0.62M48.4 67.4h0.62M64.2 43.3h0.62M57.3 77.5h0.62M52.7 39.7h0.62M58.7 32.2h0.62M63.3 34.5h0.62M62.6 70.1h0.62M53.0 68.4h0.62M54.9 74.3h0.62M54.3 44.7h0.62M60.1 60.4h0.62M57.2 79.3h0.62M53.4 53.3h0.62M57.5 50.9h0.62M61.5 38.7h0.62M63.5 53.9h0.62M51.6 65.2h0.62M56.7 28.8h0.62M63.2 32.1h0.62M61.0 68.3h0.62M57.7 56.8h0.62M54.8 42.9h0.62M54.0 53.9h0.62M65.1 32.7h0.62M65.3 72.9h0.62M61.0 60.9h0.62M51.9 54.7h0.62M57.1 68.0h0.62M53.0 41.8h0.62M56.9 48.3h0.62M51.8 30.9h0.62M59.5 49.0h0.62M63.7 68.4h0.62M56.1 61.8h0.62M65.4 33.3h0.62M57.1 58.0h0.62M72.5 62.6h0.62M54.5 47.5h0.62M57.1 70.0h0.62M56.6 69.8h0.62M54.6 76.1h0.62M67.2 74.8h0.62M63.2 54.4h0.62M51.5 56.5h0.62M54.0 53.0h0.62M59.8 32.6h0.62M50.4 43.3h0.62M60.7 74.5h0.62M68.6 58.5h0.62M50.5 73.9h0.62M61.1 33.9h0.62M60.5 47.4h0.62M63.6 75.0h0.62M59.0 55.3h0.62M64.1 60.4h0.62M62.4 64.3h0.62M60.9 48.6h0.62M62.0 55.8h0.62M61.4 64.1h0.62M52.9 56.6h0.62M56.6 77.7h0.62M60.2 74.9h0.62M57.2 71.0h0.62M51.3 39.4h0.62M64.7 46.3h0.62M60.8 36.1h0.62M54.9 68.2h0.62M72.8 30.8h0.62M57.6 63.4h0.62M68.0 41.3h0.62M47.8 28.6h0.62M53.8 77.8h0.62M57.4 53.2h0.62M62.1 53.2h0.62M61.2 65.4h0.62M61.6 42.8h0.62M63.9 55.6h0.62M61.2 73.2h0.62M54.0 74.9h0.62M51.9 60.5h0.62M51.8 50.4h0.62M55.0 68.4h0.62M45.7 59.6h0.62M62.4 76.6h0.62M64.1 39.3h0.62M65.4 55.4h0.62M57.6 70.7h0.62M59.5 59.1h0.62M55.8 74.2h0.62M65.3 33.9h0.62M68.6 73.9h0.62M56.7 36.8h0.62M62.5 33.5h0.62M61.3 64.1h0.62M64.2 28.2h0.62M60.5 69.1h0.62M68.1 42.6h0.62M62.2 38.4h0.62M57.8 48.6h0.62M44.3 40.2h0.62M59.8 73.8h0.62M49.3 13.7h0.62M64.9 10.1h0.62M53.1 15.6h0.62M53.3 23.8h0.62M56.6 19.7h0.62M61.3 41.0h0.62M53.1 26.5h0.62M54.7 18.8h0.62M58.7 34.2h0.62M50.3 32.8h0.62M53.4 21.9h0.62M52.9 30.2h0.62M67.2 31.4h0.62M61.8 32.2h0.62M64.6 24.0h0.62M61.1 33.2h0.62M46.2 29.7h0.62M59.6 39.7h0.62M58.4 15.6h0.62M59.4 15.8h0.62M52.4 31.4h0.62M60.0 16.3h0.62M57.3 19.2h0.62M65.5 9.8h0.62M63.0 21.6h0.62M56.7 12.4h0.62M59.1 25.7h0.62M50.3 6.8h0.62M55.8 14.2h0.62M61.1 21.6h0.62M60.3 22.2h0.62M59.5 18.2h0.62M58.1 15.9h0.62M63.8 19.9h0.62M58.3 19.1h0.62M60.8 18.9h0.62M58.4 17.8h0.62M60.5 24.8h0.62M57.4 23.1h0.62M58.1 25.2h0.62M59.2 30.9h0.62M61.6 32.1h0.62M57.3 29.9h0.62M51.3 24.0h0.62M56.2 23.6h0.62M55.0 15.8h0.62M61.2 31.1h0.62M64.9 23.3h0.62M55.8 32.8h0.62M63.8 28.3h0.62M57.8 23.1h0.62M55.6 22.6h0.62M60.6 18.4h0.62M59.9 29.6h0.62M54.1 16.4h0.62M56.2 13.2h0.62M65.0 22.5h0.62M51.8 37.0h0.62M54.0 24.4h0.62M65.9 23.4h0.62M55.8 20.8h0.62M60.7 21.7h0.62M52.4 18.0h0.62M53.6 25.8h0.62M53.9 16.5h0.62M55.5 28.4h0.62M52.7 23.0h0.62M53.0 35.6h0.62M49.3 3.9h0.62M61.3 34.3h0.62M54.6 19.0h0.62M49.1 22.1h0.62M54.4 21.7h0.62M55.9 35.2h0.62M60.1 25.1h0.62M55.1 14.1h0.62M61.4 17.2h0.62M51.6 39.4h0.62M55.7 33.5h0.62M62.4 26.8h0.62M52.1 24.4h0.62M67.3 26.3h0.62M65.9 20.4h0.62M62.3 8.6h0.62M67.5 20.6h0.62M56.0 24.4h0.62M56.8 24.7h0.62M46.8 22.4h0.62M60.7 19.7h0.62M55.7 18.4h0.62M59.0 18.7h0.62M63.0 28.6h0.62M63.2 21.3h0.62M48.3 22.8h0.62M51.2 16.9h0.62M53.5 20.6h0.62M52.2 25.4h0.62M60.5 27.2h0.62M62.3 31.3h0.62M51.6 25.7h0.62M51.8 30.3h0.62M58.4 20.2h0.62M67.0 27.1h0.62M60.8 43.8h0.62M56.0 27.9h0.62M64.3 25.6h0.62M56.6 21.8h0.62M57.8 20.8h0.62M47.1 25.4h0.62M67.9 26.1h0.62M58.4 16.9h0.62M55.8 20.2h0.62M52.9 5.1h0.62M57.5 24.2h0.62M62.7 23.8h0.62M48.6 3.7h0.62M65.7 15.7h0.62M52.0 15.3h0.62M56.2 20.3h0.62M59.6 16.5h0.62" stroke="#8c8c8c" stroke-width=".6" fill="none"/>
<path d="M12.7 78.5h0.62M65.6 8.2h0.62M42.7 2.7h0.62M66.0 26.9h0.62M36.2 56.0h0.62M58.9 3.8h0.62M48.6 30.1h0.62M25.9 70.0h0.62M55.7 59.4h0.62M21.0 31.1h0.62M41.9 41.1h0.62M38.8 69.1h0.62M15.9 9.9h0.62M41.6 46.6h0.62M68.3 23.4h0.62M35.9 26.1h0.62M13.6 19.7h0.62M31.0 17.4h0.62M16.7 59.7h0.62M24.3 73.8h0.62M27.9 2.8h0.62M14.1 69.6h0.62M45.9 75.1h0.62M34.8 27.4h0.62M33.4 37.0h0.62M60.5 77.6h0.62M57.5 65.0h0.62M26.6 37.5h0.62M73.5 57.9h0.62M27.5 28.1h0.62M47.2 27.7h0.62M38.6 16.1h0.62M65.9 74.7h0.62M56.8 72.7h0.62M75.4 40.3h0.62M2.9 56.0h0.62M35.5 28.8h0.62M21.3 46.2h0.62M69.8 25.9h0.62M46.9 36.3h0.62M67.4 41.2h0.62M78.0 5.5h0.62M77.5 26.5h0.62M63.1 35.2h0.62M23.0 71.7h0.62M49.2 13.1h0.62M49.9 42.3h0.62M79.3 41.6h0.62M48.9 54.7h0.62M0.9 36.7h0.62M76.6 42.7h0.62M20.7 20.0h0.62M26.4 37.9h0.62M23.2 42.1h0.62M13.2 7.5h0.62M5.4 32.9h0.62M14.2 22.3h0.62M16.1 31.0h0.62M55.3 1.4h0.62M24.3 69.2h0.62M3.6 77.1h0.62M8.9 26.9h0.62M75.6 62.4h0.62M20.6 35.9h0.62M27.6 46.8h0.62M3.0 61.5h0.62M35.5 69.5h0.62M9.9 13.8h0.62M67.0 54.6h0.62M31.2 53.7h0.62M4.1 20.1h0.62M13.1 78.4h0.62M73.2 73.8h0.62M23.9 24.7h0.62M71.5 66.8h0.62M63.9 56.7h0.62M54.1 1.9h0.62M24.8 28.7h0.62M68.9 23.3h0.62M50.4 54.4h0.62M35.3 31.4h0.62M25.6 34.7h0.62M41.2 15.2h0.62M66.6 20.6h0.62M32.6 2.9h0.62M24.4 54.2h0.62M48.5 67.0h0.62M53.0 26.7h0.62M79.3 65.0h0.62M59.5 73.4h0.62M63.9 36.8h0.62M79.5 37.7h0.62M33.3 15.3h0.62M15.4 39.7h0.62M60.2 32.1h0.62M60.5 17.9h0.62M14.7 46.1h0.62M30.8 21.7h0.62M7.6 52.2h0.62M41.4 26.5h0.62M51.9 73.7h0.62M26.5 53.3h0.62M60.4 9.0h0.62M59.4 59.2h0.62M65.0 2.5h0.62M76.6 44.8h0.62M38.1 42.2h0.62M67.4 17.8h0.62M10.5 3.8h0.62M51.8 18.8h0.62M35.0 33.1h0.62M18.7 36.2h0.62M4.4 31.4h0.62M27.1 33.8h0.62M8.3 35.5h0.62M42.6 38.0h0.62M32.3 36.7h0.62M39.5 36.3h0.62M36.3 37.1h0.62M50.3 28.9h0.62M11.1 29.4h0.62M1.0 34.9h0.62M2.2 34.6h0.62M43.3 36.5h0.62M12.2 30.3h0.62M45.5 31.1h0.62M6.3 34.7h0.62M15.3 35.2h0.62M17.4 32.5h0.62M6.4 37.0h0.62M2.4 36.5h0.62M32.9 39.3h0.62M35.1 36.0h0.62M7.0 28.9h0.62M28.0 27.5h0.62M44.3 35.4h0.62M39.9 29.3h0.62M16.9 33.0h0.62M24.8 38.0h0.62M17.5 34.8h0.62M49.0 35.2h0.62M32.7 33.0h0.62M17.1 31.8h0.62M50.7 25.6h0.62M14.7 31.8h0.62M39.9 37.7h0.62M3.5 29.3h0.62M42.7 35.2h0.62M45.7 30.5h0.62M23.6 29.6h0.62M40.1 30.2h0.62M37.4 34.7h0.62M44.1 38.2h0.62M33.3 31.5h0.62M4.4 34.7h0.62M43.2 33.2h0.62M2.1 30.4h0.62M43.1 32.1h0.62M2.6 28.8h0.62M18.5 32.4h0.62M18.4 38.7h0.62M39.4 28.0h0.62M36.5 28.2h0.62M44.2 33.6h0.62M3.8 42.0h0.62M26.1 34.8h0.62M15.5 34.3h0.62M26.2 35.8h0.62M1.8 36.2h0.62M47.3 42.4h0.62M48.6 33.4h0.62M47.0 36.7h0.62M43.1 32.0h0.62M8.8 40.1h0.62M53.6 32.1h0.62M45.8 30.5h0.62M36.0 34.4h0.62M2.5 28.1h0.62M46.5 35.3h0.62M50.6 33.4h0.62M51.5 39.6h0.62M39.8 30.6h0.62M7.5 37.3h0.62M43.2 31.9h0.62M15.9 33.9h0.62M27.0 33.3h0.62M47.0 30.7h0.62M45.8 30.1h0.62M42.8 30.6h0.62M38.9 37.5h0.62M42.7 36.4h0.62M51.5 36.3h0.62M2.0 29.2h0.62M25.4 31.5h0.62M10.8 31.1h0.62M53.3 36.9h0.62M38.7 37.9h0.62M28.8 35.3h0.62M51.3 40.4h0.62M47.3 31.6h0.62M39.0 38.1h0.62M44.3 27.2h0.62M14.8 32.7h0.62M26.3 33.0h0.62M25.7 34.9h0.62M8.7 30.4h0.62M13.1 38.9h0.62M33.8 31.0h0.62M6.1 32.4h0.62M39.7 30.7h0.62M44.7 35.5h0.62M1.0 29.9h0.62M48.3 34.5h0.62M5.7 38.5h0.62M36.4 33.5h0.62M27.0 36.2h0.62M25.0 35.6h0.62M21.7 24.9h0.62M13.0 41.0h0.62M12.9 27.5h0.62M15.5 29.5h0.62M42.1 35.5h0.62M25.0 32.7h0.62M25.3 29.1h0.62M29.2 35.4h0.62M17.3 34.4h0.62M51.0 39.7h0.62M51.7 76.0h0.62M48.6 45.1h0.62M61.5 29.3h0.62M57.0 79.5h0.62M50.0 46.0h0.62M53.8 32.2h0.62M61.7 72.1h0.62M61.0 47.0h0.62M62.4 74.4h0.62M59.5 40.3h0.62M63.7 78.1h0.62M53.3 39.8h0.62M47.3 79.4h0.62M62.0 36.6h0.62M67.6 71.2h0.62M67.1 40.2h0.62M57.8 57.4h0.62M52.9 58.6h0.62M64.9 38.5h0.62M56.0 39.0h0.62M57.5 28.9h0.62M60.3 36.9h0.62M60.7 34.9h0.62M66.0 56.9h0.62M60.3 32.2h0.62M57.4 63.5h0.62M62.4 56.8h0.62M57.6 60.5h0.62M61.0 71.2h0.62M59.5 50.8h0.62M62.0 37.0h0.62M53.0 43.0h0.62M60.8 48.7h0.62M59.0 79.9h0.62M53.9 55.4h0.62M57.0 77.4h0.62M65.9 47.7h0.62M50.0 56.7h0.62M63.0 67.5h0.62M55.5 66.2h0.62M57.9 59.3h0.62M57.3 41.0h0.62M54.3 38.5h0.62M55.6 47.4h0.62M57.9 72.1h0.62M59.9 66.5h0.62M58.1 52.2h0.62M60.9 59.0h0.62M51.8 77.7h0.62M58.7 47.2h0.62M59.7 70.3h0.62M64.0 54.3h0.62M63.6 73.0h0.62M58.4 42.2h0.62M63.0 48.6h0.62M49.2 64.8h0.62M53.3 37.5h0.62M52.2 53.8h0.62M63.2 65.6h0.62M67.4 55.6h0.62M57.9 33.4h0.62M47.5 76.7h0.62M67.3 32.6h0.62M49.1 40.8h0.62M58.8 48.7h0.62M58.8 38.7h0.62M53.2 57.1h0.62M55.2 64.1h0.62M59.6 50.2h0.62M66.3 34.6h0.62M52.2 39.7h0.62M50.5 49.8h0.62M53.6 30.0h0.62M59.6 38.4h0.62M60.8 30.7h0.62M57.4 67.5h0.62M52.0 46.2h0.62M58.7 33.9h0.62M58.2 76.8h0.62M60.8 28.5h0.62M62.3 79.0h0.62" stroke="#555" stroke-width=".62" fill="none"/>
<path d="M0 11H52V19M0 41.2H44.5L52.5 34M44.5 81V41.2L52.5 34.2H69.5V81" fill="none" stroke="#8a8a8a" stroke-width=".8"/>
<path d="M0 21H18.52C30.03 21 32.58 15.8 44.09 15.8C49.48 15.8 53.4 20.21 53.4 25.6C53.4 30.99 49.48 35.4 44.09 35.4C32.58 35.4 30.03 30.2 18.52 30.2H0Z" fill="#fff" stroke="#444" stroke-width=".45"/>
<path d="M0 22H18.53C30.04 22 32.6 17.3 44.12 17.3C48.68 17.3 52 21.04 52 25.6C52 30.17 48.68 33.9 44.12 33.9C32.6 33.9 30.04 29.2 18.53 29.2H0Z" fill="#f2f2f2" stroke="#444" stroke-width=".45"/>
<path d="M0 22.7H18.59C30.13 22.7 32.7 18.6 44.25 18.6C48.1 18.6 50.9 21.75 50.9 25.6C50.9 29.45 48.1 32.6 44.25 32.6C32.7 32.6 30.13 28.5 18.59 28.5H0Z" fill="#cfcfcf" stroke="#444" stroke-width=".45"/>
<path d="M6 23.3H22.13C32.15 23.3 34.37 19.7 44.39 19.7C47.64 19.7 50 22.36 50 25.6C50 28.85 47.64 31.5 44.39 31.5C34.37 31.5 32.15 27.9 22.13 27.9H6Z" fill="#8f8f8f" stroke="#444" stroke-width=".45"/>
<path d="M13 23.7H26.25C34.49 23.7 36.32 20.6 44.55 20.6C47.3 20.6 49.3 22.85 49.3 25.6C49.3 28.35 47.3 30.6 44.55 30.6C36.32 30.6 34.49 27.5 26.25 27.5H13Z" fill="#484848" stroke="#444" stroke-width=".45"/>
<path d="M18 24.1H29.18C36.12 24.1 37.67 21.3 44.62 21.3C46.98 21.3 48.7 23.23 48.7 25.6C48.7 27.97 46.98 29.9 44.62 29.9C37.67 29.9 36.12 27.1 29.18 27.1H18Z" fill="#111" stroke="#444" stroke-width=".45"/>
<path d="M22 24.4H31.53C37.45 24.4 38.76 21.9 44.69 21.9C46.72 21.9 48.2 23.57 48.2 25.6C48.2 27.64 46.72 29.3 44.69 29.3C38.76 29.3 37.45 26.8 31.53 26.8H22Z" fill="#000" stroke="#444" stroke-width=".45"/>
<path d="M5 25.6H43" stroke="#e8e8e8" stroke-width=".8" stroke-dasharray="5 1.2 9 1 3 1"/>
<path d="M.4 17.5C2.6 19.5 2.9 23 2.4 25.6 C2.9 28 2.6 31.5 .4 33.5Z" fill="#000"/>
<circle cx="58.8" cy="24.6" r="4" fill="#e4e4e4" stroke="#444" stroke-width=".7"/>
<circle cx="58.8" cy="24.6" r="2.4" fill="#a9a9a9" stroke="#333" stroke-width=".7"/>
<circle cx="58.8" cy="24.6" r=".8" fill="#f4f4f4"/>
<path d="M56.5 29C57.5 31 57.5 33 55.5 36M61 29C60 31 60.2 33 62 36" fill="none" stroke="#444" stroke-width=".7"/>
<path d="M58.5 35C64.51 35.77 66.3 43.09 66.3 51.55C66.3 61.18 60.84 68.88 58.5 73.5C56.16 68.88 50.7 61.18 50.7 51.55C50.7 43.09 52.49 35.77 58.5 35Z" fill="#fff" stroke="#333" stroke-width=".6"/>
<path d="M58.5 38.5C63.27 39.05 64.7 44.28 64.7 50.33C64.7 57.2 60.36 62.7 58.5 66C56.64 62.7 52.3 57.2 52.3 50.33C52.3 44.28 53.73 39.05 58.5 38.5Z" fill="#dcdcdc" stroke="#333" stroke-width=".6"/>
<path d="M58.5 40.5C62.2 40.91 63.3 44.8 63.3 49.31C63.3 54.44 59.94 58.54 58.5 61C57.06 58.54 53.7 54.44 53.7 49.31C53.7 44.8 54.8 40.91 58.5 40.5Z" fill="#b4b4b4" stroke="#333" stroke-width=".6"/>
<path d="M58.5 42.5C61.04 42.79 61.8 45.55 61.8 48.73C61.8 52.36 59.49 55.26 58.5 57C57.51 55.26 55.2 52.36 55.2 48.73C55.2 45.55 55.96 42.79 58.5 42.5Z" fill="#959595" stroke="#333" stroke-width=".6"/>
<path d="M58.5 45C59.81 45.16 60.2 46.68 60.2 48.44C60.2 50.44 59.01 52.04 58.5 53C57.99 52.04 56.8 50.44 56.8 48.44C56.8 46.68 57.19 45.16 58.5 45Z" fill="#cfcfcf" stroke="#333" stroke-width=".6"/>
<path d="M58.5 47V52" stroke="#f2f2f2" stroke-width=".8"/>
<path d="M53.5 64C55 69 57 72 58.5 73.5C60 72 62 69 63.5 64M58.5 73.5C56.5 76 55 78 53.5 80.5M58.5 73.5C60.500 76 62 78 63.500 80.500" fill="none" stroke="#333" stroke-width=".8"/>
<path d="M52 80.6C54 79 56 78 58.500 77.800C61 78 63 79 65 80.600Z" fill="#000"/>
<rect x="78" y="78.500" width="2.600" height="2.200" fill="#111"/>
</g>
<g transform="translate(325.2 356.6) scale(1 1)">
<rect x="0" y="0" width="81" height="81" fill="#fff" stroke="#666" stroke-width=".9"/>
<path d="M30.8 28.9h0.62M15.0 28.5h0.62M35.2 39.5h0.62M10.1 28.4h0.62M35.2 30.2h0.62M52.2 30.5h0.62M28.5 25.3h0.62M34.3 36.3h0.62M16.3 31.9h0.62M2.8 37.3h0.62M32.8 33.1h0.62M45.7 29.6h0.62M50.1 28.3h0.62M6.3 31.5h0.62M3.0 36.3h0.62M11.5 33.0h0.62M48.4 33.4h0.62M17.4 31.6h0.62M13.1 33.3h0.62M28.3 33.8h0.62M16.4 31.6h0.62M5.9 34.8h0.62M1.8 37.6h0.62M30.2 29.1h0.62M6.7 34.5h0.62M17.1 34.9h0.62M3.1 33.0h0.62M10.4 35.8h0.62M35.3 29.5h0.62M19.3 34.5h0.62M29.1 34.1h0.62M3.8 30.4h0.62M26.0 28.9h0.62M6.0 37.7h0.62M47.1 37.9h0.62M24.0 33.8h0.62M17.0 37.7h0.62M8.8 29.8h0.62M26.7 32.7h0.62M4.7 32.8h0.62M32.5 32.9h0.62M22.8 29.4h0.62M27.4 32.9h0.62M51.9 40.7h0.62M26.0 37.0h0.62M43.4 33.9h0.62M17.5 35.2h0.62M38.4 34.8h0.62M33.6 32.3h0.62M41.1 38.3h0.62M52.2 35.3h0.62M43.7 30.0h0.62M50.0 37.5h0.62M31.7 29.0h0.62M27.6 36.4h0.62M38.9 29.3h0.62M12.3 35.8h0.62M31.5 35.0h0.62M30.9 34.1h0.62M51.3 35.6h0.62M3.9 38.9h0.62M31.0 30.6h0.62M53.8 33.2h0.62M50.7 33.0h0.62M22.3 39.1h0.62M7.5 30.1h0.62M2.1 39.6h0.62M42.7 34.2h0.62M12.3 36.0h0.62M43.2 35.6h0.62M40.0 39.7h0.62M40.8 26.4h0.62M45.1 33.8h0.62M46.6 33.4h0.62M33.4 32.5h0.62M18.0 35.1h0.62M18.3 29.5h0.62M10.9 33.5h0.62M4.4 33.9h0.62M5.4 35.2h0.62M22.4 37.8h0.62M29.4 38.1h0.62M24.8 31.7h0.62M1.3 31.4h0.62M4.2 31.6h0.62M13.6 36.3h0.62M16.5 33.6h0.62M24.2 33.0h0.62M20.7 32.2h0.62M12.1 39.1h0.62M2.3 38.8h0.62M18.7 41.8h0.62M6.3 38.5h0.62M51.6 32.5h0.62M17.9 33.8h0.62M12.8 32.4h0.62M42.9 27.1h0.62M20.8 32.8h0.62M47.3 37.8h0.62M10.2 35.8h0.62M10.8 36.2h0.62M43.9 30.8h0.62M15.3 32.4h0.62M33.9 25.6h0.62M12.7 29.1h0.62M43.3 25.7h0.62M24.0 32.1h0.62M41.5 34.4h0.62M8.5 33.6h0.62M8.9 34.3h0.62M20.7 31.2h0.62M22.9 33.7h0.62M40.9 35.0h0.62M28.2 34.5h0.62M48.8 37.5h0.62M4.9 31.1h0.62M47.2 41.1h0.62M28.7 33.0h0.62M20.7 28.0h0.62M53.7 30.1h0.62M26.7 30.3h0.62M29.2 33.3h0.62M29.4 32.6h0.62M49.4 37.3h0.62M12.7 33.3h0.62M46.4 36.5h0.62M16.4 37.2h0.62M47.3 26.1h0.62M43.4 34.7h0.62M44.5 37.1h0.62M13.3 27.6h0.62M50.4 29.1h0.62M18.9 34.1h0.62M17.1 34.0h0.62M29.5 32.1h0.62M35.1 40.0h0.62M33.5 34.9h0.62M35.1 30.6h0.62M18.9 33.0h0.62M42.6 35.1h0.62M48.6 39.0h0.62M3.4 34.5h0.62M22.6 30.2h0.62M23.4 40.5h0.62M27.6 31.7h0.62M13.1 35.6h0.62M3.4 37.9h0.62M39.9 33.8h0.62M36.2 32.8h0.62M4.3 44.1h0.62M23.3 32.3h0.62M51.9 35.4h0.62M38.6 34.9h0.62M43.7 35.1h0.62M20.1 32.4h0.62M17.6 36.3h0.62M31.8 31.6h0.62M3.4 37.9h0.62M28.9 30.7h0.62M46.8 31.8h0.62M50.1 31.4h0.62M9.0 30.3h0.62M33.8 32.9h0.62M28.7 35.5h0.62M10.8 29.5h0.62M34.2 34.6h0.62M39.1 36.4h0.62M52.1 31.0h0.62M18.7 39.0h0.62M50.8 35.9h0.62M4.5 38.1h0.62M30.2 33.1h0.62M41.3 25.4h0.62M29.7 29.3h0.62M35.0 36.4h0.62M33.0 32.1h0.62M50.6 27.6h0.62M33.5 37.6h0.62M20.5 29.2h0.62M43.3 28.9h0.62M47.5 38.5h0.62M48.4 38.1h0.62M26.9 30.4h0.62M15.6 28.5h0.62M19.4 27.6h0.62M11.4 33.8h0.62M11.1 25.5h0.62M7.5 36.9h0.62M44.9 36.4h0.62M13.4 33.7h0.62M11.3 32.3h0.62M29.5 33.6h0.62M37.1 29.2h0.62M19.4 30.3h0.62M10.8 30.3h0.62M10.6 37.6h0.62M13.2 38.6h0.62M22.2 33.1h0.62M42.3 32.0h0.62M30.2 26.9h0.62M33.2 36.5h0.62M21.2 35.6h0.62M13.8 28.4h0.62M12.0 39.0h0.62M6.1 32.3h0.62M1.3 35.3h0.62M49.3 32.6h0.62M28.7 33.2h0.62M9.4 24.8h0.62M52.8 34.3h0.62M21.5 34.3h0.62M4.3 29.3h0.62M21.6 35.7h0.62M39.0 27.6h0.62M53.3 29.3h0.62M44.2 37.2h0.62M49.9 38.4h0.62M18.4 28.1h0.62M20.4 32.1h0.62M16.6 32.2h0.62M20.0 34.0h0.62M35.2 35.6h0.62M16.7 39.4h0.62M51.1 35.7h0.62M12.1 32.8h0.62M11.9 32.0h0.62M8.9 30.5h0.62M44.4 29.8h0.62M35.6 33.6h0.62M31.5 26.1h0.62M12.2 37.1h0.62M44.3 39.5h0.62M34.9 39.7h0.62M21.8 31.5h0.62M10.0 26.2h0.62M48.0 37.0h0.62M49.1 33.6h0.62M47.4 34.1h0.62M11.1 32.2h0.62M41.8 30.5h0.62M51.9 34.6h0.62M1.0 26.0h0.62M37.8 34.0h0.62M48.0 32.8h0.62M52.9 38.0h0.62M7.2 23.4h0.62M8.7 38.1h0.62M41.8 33.4h0.62M53.5 30.6h0.62M42.2 40.8h0.62M47.7 41.5h0.62M25.9 39.6h0.62M31.6 34.6h0.62M40.2 37.0h0.62M43.6 35.4h0.62M39.3 34.9h0.62M24.5 36.3h0.62M24.8 41.8h0.62M33.4 38.1h0.62M28.5 38.9h0.62M48.5 40.5h0.62M9.1 28.9h0.62M3.5 34.0h0.62M42.0 29.4h0.62M23.9 28.4h0.62M19.9 36.4h0.62M26.8 29.1h0.62M3.8 36.6h0.62M25.0 28.6h0.62M48.7 30.8h0.62M20.0 38.8h0.62M20.7 32.1h0.62M30.3 30.0h0.62M1.3 37.4h0.62M48.5 33.1h0.62M4.6 33.8h0.62M18.3 32.8h0.62M20.3 40.2h0.62M49.5 32.8h0.62M51.4 36.7h0.62M46.4 35.0h0.62M3.7 32.7h0.62M37.5 32.5h0.62M5.0 34.8h0.62M17.4 31.4h0.62M53.4 38.3h0.62M9.1 34.7h0.62M46.8 28.7h0.62M53.6 35.1h0.62M39.9 32.4h0.62M41.8 32.7h0.62M41.1 34.0h0.62M33.9 33.8h0.62M39.7 27.4h0.62M2.3 41.8h0.62M19.0 30.2h0.62M42.4 36.9h0.62M18.1 31.9h0.62M32.5 34.1h0.62M37.7 29.8h0.62M51.5 27.8h0.62M7.6 39.0h0.62M32.0 35.2h0.62M15.3 30.2h0.62M15.0 31.0h0.62M22.4 36.1h0.62M13.2 31.3h0.62M14.2 32.0h0.62M25.1 35.8h0.62M9.8 31.9h0.62M41.8 31.8h0.62M52.5 32.5h0.62M10.8 31.6h0.62M44.7 31.4h0.62M20.0 29.0h0.62M38.0 28.8h0.62M16.8 31.9h0.62M28.4 37.9h0.62M38.6 34.6h0.62M43.5 36.1h0.62M24.7 38.7h0.62M51.5 28.9h0.62M5.4 28.1h0.62M48.3 32.6h0.62M46.3 34.1h0.62M12.6 33.0h0.62M23.7 32.9h0.62M25.1 27.0h0.62M15.5 35.5h0.62M49.2 38.4h0.62M15.4 41.4h0.62M36.6 38.3h0.62M46.1 31.1h0.62M4.7 34.4h0.62M36.5 33.2h0.62M44.5 34.0h0.62M32.7 27.6h0.62M53.3 34.7h0.62M43.5 41.2h0.62M10.3 29.7h0.62M8.0 34.3h0.62M46.0 37.1h0.62M1.9 28.7h0.62M39.4 38.6h0.62M50.3 30.9h0.62M51.8 31.7h0.62M16.3 27.7h0.62M41.7 32.3h0.62M17.8 36.0h0.62M16.7 35.4h0.62M14.9 33.9h0.62M11.7 39.2h0.62M44.6 34.1h0.62M18.0 31.7h0.62M1.6 26.3h0.62M30.9 31.5h0.62M48.7 32.2h0.62M43.5 29.1h0.62M45.0 32.4h0.62M3.1 36.5h0.62M16.4 30.3h0.62M14.0 31.8h0.62M44.6 33.0h0.62M22.1 40.5h0.62M42.9 28.0h0.62M5.9 33.6h0.62M50.8 38.5h0.62M33.8 29.2h0.62M25.0 38.4h0.62M31.8 24.9h0.62M33.1 35.9h0.62M5.8 31.1h0.62M9.1 30.5h0.62M26.8 32.5h0.62M11.8 42.2h0.62M29.4 36.5h0.62M35.2 33.5h0.62M27.0 30.9h0.62M33.2 29.4h0.62M13.9 38.0h0.62M1.5 31.0h0.62M45.1 35.2h0.62M35.0 36.7h0.62M48.5 34.8h0.62M27.8 36.1h0.62M36.8 27.9h0.62M53.5 34.7h0.62M3.6 28.1h0.62M43.8 37.0h0.62M51.6 32.0h0.62M36.0 35.7h0.62M44.7 34.7h0.62M7.0 29.1h0.62M37.8 33.4h0.62M18.4 30.2h0.62M24.1 36.6h0.62M27.6 31.9h0.62M43.2 31.7h0.62M36.2 35.2h0.62M29.2 29.1h0.62M45.2 31.9h0.62M46.7 31.0h0.62M10.4 32.3h0.62M24.5 40.1h0.62M8.2 37.3h0.62M1.0 30.5h0.62M18.6 31.8h0.62M39.0 35.8h0.62M12.3 39.6h0.62M31.1 37.0h0.62M25.7 37.5h0.62M46.0 29.8h0.62M18.1 32.3h0.62M25.4 36.5h0.62M31.2 34.9h0.62M50.7 37.8h0.62M40.5 37.5h0.62M34.1 33.5h0.62M2.9 39.7h0.62M30.2 33.1h0.62M27.9 31.0h0.62M31.1 30.7h0.62M27.4 31.1h0.62M3.2 36.7h0.62M33.0 33.6h0.62M8.3 36.2h0.62M40.5 28.8h0.62M27.6 34.7h0.62M31.7 31.6h0.62M41.4 35.5h0.62M39.1 34.5h0.62M19.0 35.0h0.62M42.9 32.5h0.62M23.2 35.8h0.62M27.0 31.2h0.62M21.6 31.1h0.62M53.1 33.5h0.62M27.4 30.9h0.62M8.2 36.2h0.62M50.0 33.1h0.62M11.7 33.9h0.62M17.6 36.7h0.62M18.6 30.5h0.62M6.0 35.7h0.62M33.9 32.5h0.62M7.3 31.0h0.62M1.9 35.2h0.62M33.7 37.4h0.62M50.7 34.3h0.62M13.9 31.5h0.62M10.6 34.2h0.62M29.3 33.8h0.62M51.6 34.2h0.62M13.5 33.3h0.62M19.0 34.5h0.62M23.8 32.1h0.62M47.2 33.9h0.62M28.0 31.2h0.62M36.7 38.5h0.62M36.6 38.5h0.62M19.8 32.6h0.62M48.8 34.7h0.62M10.3 28.6h0.62M32.6 30.5h0.62M43.0 32.6h0.62M11.5 38.7h0.62M38.3 33.5h0.62M39.4 29.4h0.62M36.6 35.9h0.62M11.4 33.6h0.62M37.3 34.7h0.62M49.9 31.1h0.62M10.6 27.1h0.62M15.3 36.4h0.62M46.3 36.3h0.62M45.4 34.2h0.62M35.4 36.4h0.62M28.5 36.3h0.62M1.6 34.1h0.62M50.1 33.1h0.62M37.5 31.5h0.62M13.3 30.5h0.62M26.6 34.9h0.62M25.8 32.9h0.62M32.7 38.9h0.62M51.2 32.4h0.62M37.8 25.6h0.62M2.2 36.7h0.62M40.4 35.0h0.62M2.7 33.5h0.62M24.3 35.3h0.62M33.6 27.3h0.62M19.9 32.4h0.62M17.8 37.2h0.62M27.8 32.4h0.62M50.2 32.1h0.62M7.0 33.8h0.62M51.9 31.7h0.62M41.6 36.6h0.62M4.4 27.7h0.62M26.1 28.9h0.62M1.3 37.7h0.62M10.6 39.4h0.62M38.1 29.4h0.62M34.8 28.6h0.62M29.0 35.3h0.62M12.3 28.0h0.62M3.9 29.4h0.62M35.9 30.9h0.62M15.7 38.2h0.62M22.7 33.0h0.62M9.2 34.6h0.62M37.0 36.0h0.62M22.3 34.6h0.62M45.4 30.5h0.62M52.4 30.3h0.62M15.7 27.8h0.62M24.8 30.7h0.62M52.5 35.8h0.62M18.0 39.1h0.62M14.5 32.1h0.62M23.4 29.8h0.62M51.1 35.1h0.62M34.3 28.6h0.62M18.5 33.5h0.62M7.0 28.4h0.62M42.9 37.6h0.62M1.8 29.4h0.62M34.1 28.7h0.62M51.6 32.6h0.62M21.7 35.4h0.62M1.3 35.8h0.62M35.8 30.3h0.62M27.1 29.9h0.62M42.4 32.8h0.62M47.0 38.0h0.62M25.2 33.2h0.62M30.7 36.5h0.62M0.8 32.6h0.62M27.2 34.7h0.62M18.6 31.8h0.62M33.9 31.2h0.62M40.8 31.0h0.62M44.6 31.3h0.62M7.3 26.4h0.62M22.3 30.9h0.62M23.0 35.0h0.62M50.3 33.3h0.62M37.5 31.1h0.62M35.2 33.4h0.62M7.1 36.7h0.62M24.4 33.1h0.62M16.8 30.1h0.62M13.2 36.1h0.62M23.9 33.0h0.62M12.5 27.1h0.62M46.9 33.8h0.62M31.3 36.1h0.62M37.2 32.1h0.62M19.9 33.2h0.62M11.1 37.0h0.62M33.8 36.4h0.62M39.6 38.2h0.62M1.1 29.6h0.62M34.9 37.0h0.62M33.4 39.3h0.62M7.4 34.0h0.62M1.0 33.4h0.62M10.5 29.6h0.62M7.6 29.5h0.62M1.8 37.0h0.62M28.0 26.4h0.62M23.0 35.5h0.62M8.9 32.1h0.62M5.2 32.5h0.62M48.4 30.3h0.62M11.5 32.1h0.62M7.8 30.2h0.62M51.0 35.3h0.62M25.4 30.2h0.62M16.1 36.1h0.62M27.1 31.5h0.62M20.1 34.9h0.62M41.9 37.6h0.62M50.1 35.9h0.62M31.7 26.4h0.62M39.2 35.4h0.62M18.2 41.4h0.62M24.2 33.4h0.62M17.3 35.9h0.62M39.6 33.5h0.62M32.6 36.8h0.62M42.4 38.4h0.62M5.0 31.0h0.62M20.5 31.2h0.62M15.5 31.9h0.62M51.8 33.1h0.62M8.0 34.2h0.62M22.1 33.3h0.62M14.7 36.7h0.62M54.0 33.2h0.62M20.2 36.0h0.62M3.5 35.7h0.62M26.3 34.7h0.62M7.8 35.6h0.62M17.5 37.9h0.62M34.1 33.2h0.62M44.8 28.6h0.62M28.4 35.1h0.62M6.5 30.5h0.62M49.5 34.1h0.62M6.3 30.3h0.62M20.6 30.6h0.62M46.1 33.7h0.62M30.4 35.0h0.62M50.7 29.3h0.62M34.3 29.2h0.62M46.2 33.4h0.62M33.6 31.4h0.62M47.6 32.7h0.62M36.3 37.1h0.62M11.0 33.0h0.62M2.9 31.3h0.62M13.4 37.1h0.62M39.1 36.4h0.62M8.2 40.9h0.62M9.8 38.0h0.62M47.6 37.7h0.62M37.3 33.8h0.62M37.7 40.3h0.62M13.7 38.4h0.62M14.6 29.9h0.62M28.9 35.1h0.62M4.3 33.5h0.62M44.1 28.7h0.62M49.5 34.9h0.62M15.5 35.2h0.62M50.5 35.6h0.62M17.5 34.7h0.62M20.5 33.8h0.62M48.0 34.4h0.62M19.5 39.6h0.62M52.8 31.3h0.62M17.6 31.8h0.62M28.7 30.2h0.62M51.6 35.7h0.62M2.0 29.6h0.62M48.7 38.0h0.62M47.2 30.9h0.62M48.1 35.7h0.62M31.0 35.2h0.62M41.8 32.9h0.62M39.3 36.1h0.62M32.4 33.3h0.62M45.9 31.6h0.62M36.9 33.9h0.62M8.9 39.2h0.62M25.2 43.3h0.62M51.9 35.3h0.62M12.6 32.7h0.62M41.2 34.2h0.62M5.0 34.9h0.62M47.0 39.1h0.62M20.7 28.9h0.62M12.8 32.5h0.62M11.4 33.2h0.62M49.3 36.9h0.62M12.2 33.2h0.62M33.1 37.3h0.62M28.7 30.8h0.62M35.9 32.7h0.62M17.9 30.5h0.62M25.7 22.7h0.62M10.4 35.5h0.62M1.2 24.2h0.62M51.0 30.2h0.62M7.9 41.3h0.62M14.2 33.3h0.62M13.2 34.7h0.62M30.0 37.3h0.62M11.4 29.0h0.62M8.3 33.4h0.62M35.2 36.2h0.62M10.4 36.2h0.62M7.7 27.5h0.62M28.3 30.5h0.62M7.2 36.5h0.62M30.4 40.0h0.62M14.9 31.9h0.62M31.3 34.7h0.62M19.0 31.1h0.62M52.1 36.5h0.62M33.9 34.6h0.62M34.1 36.6h0.62M24.6 27.6h0.62M42.0 33.9h0.62M44.9 39.7h0.62M0.8 33.8h0.62M6.4 30.1h0.62M7.8 32.7h0.62M46.5 39.9h0.62M34.0 31.6h0.62M11.3 35.7h0.62M4.0 28.4h0.62M43.7 34.8h0.62M40.8 36.8h0.62M40.2 30.2h0.62M33.7 29.8h0.62M5.3 28.3h0.62M1.8 34.2h0.62M24.0 37.0h0.62M3.7 30.6h0.62M18.7 29.2h0.62M48.2 33.1h0.62M53.0 36.6h0.62M13.6 33.8h0.62M20.1 34.6h0.62M31.8 30.3h0.62M34.8 36.9h0.62M30.0 39.4h0.62M4.1 33.3h0.62M49.2 32.1h0.62M46.3 27.4h0.62M45.9 33.7h0.62M35.5 37.0h0.62M28.1 33.8h0.62M37.7 29.6h0.62M20.1 30.7h0.62M24.2 37.8h0.62M19.7 30.1h0.62M17.7 34.8h0.62M20.5 31.6h0.62M20.1 32.6h0.62M35.4 29.1h0.62M15.5 38.1h0.62M24.9 30.3h0.62M27.0 34.3h0.62M48.6 35.0h0.62M43.3 32.6h0.62M34.0 31.0h0.62M14.5 33.4h0.62M23.8 38.2h0.62M48.1 38.9h0.62M52.7 35.3h0.62M52.2 34.4h0.62M31.1 33.0h0.62M32.1 39.2h0.62M39.1 35.3h0.62M15.3 31.6h0.62M35.7 37.7h0.62M32.9 32.4h0.62M26.7 41.0h0.62M28.7 34.5h0.62M10.7 36.7h0.62M44.0 35.4h0.62M45.0 36.8h0.62M35.7 25.0h0.62M14.9 34.8h0.62M25.8 37.9h0.62M11.6 34.7h0.62M10.4 33.0h0.62M10.5 27.7h0.62M11.8 32.9h0.62M11.4 31.9h0.62M26.1 25.7h0.62M48.9 30.0h0.62M14.5 31.0h0.62M12.6 27.8h0.62M35.9 39.2h0.62M40.5 38.6h0.62M17.3 28.8h0.62M9.9 38.7h0.62M8.6 34.1h0.62M42.2 34.5h0.62M45.0 31.6h0.62M17.1 26.5h0.62M2.1 32.7h0.62M12.2 33.2h0.62M48.5 40.2h0.62M24.3 38.5h0.62M16.1 37.8h0.62M32.9 39.3h0.62M34.2 32.0h0.62M32.9 29.0h0.62M24.0 32.9h0.62M38.5 34.1h0.62M12.5 33.0h0.62M35.6 36.0h0.62M22.8 29.5h0.62M12.8 32.6h0.62M13.3 32.5h0.62M44.2 28.6h0.62M9.4 32.5h0.62M3.8 34.3h0.62M27.7 31.8h0.62M31.8 30.6h0.62M30.9 35.1h0.62M31.0 36.1h0.62M37.8 35.3h0.62M32.3 32.8h0.62M23.3 37.8h0.62M4.3 37.1h0.62M35.5 38.6h0.62M16.0 31.3h0.62M2.9 34.8h0.62M14.9 31.2h0.62M5.2 36.3h0.62M42.7 32.8h0.62M35.3 33.6h0.62M5.9 31.7h0.62M28.5 29.9h0.62M19.4 35.3h0.62M6.4 31.0h0.62M29.7 32.6h0.62M28.4 30.9h0.62M38.9 38.6h0.62M18.0 38.0h0.62M27.1 31.9h0.62M32.9 39.5h0.62M22.2 30.1h0.62M17.1 38.7h0.62M12.6 40.5h0.62M46.8 34.9h0.62M43.3 37.2h0.62M48.7 33.2h0.62M33.8 33.2h0.62M17.5 36.8h0.62M17.5 32.9h0.62M50.5 36.7h0.62M2.9 27.5h0.62M42.8 34.9h0.62M1.9 34.7h0.62M34.6 30.5h0.62M31.9 37.1h0.62M40.7 26.3h0.62M8.3 32.6h0.62M5.1 36.2h0.62M13.5 35.8h0.62M33.3 43.0h0.62M47.3 40.3h0.62M39.6 31.5h0.62M19.2 31.8h0.62M45.8 36.8h0.62M16.2 27.1h0.62M4.6 33.0h0.62M35.3 36.1h0.62M36.3 33.8h0.62M36.6 38.6h0.62M47.7 32.4h0.62M42.9 34.7h0.62M1.8 43.0h0.62M40.1 31.2h0.62M17.6 34.8h0.62M39.6 36.8h0.62M47.3 31.2h0.62M17.8 38.8h0.62M37.4 26.8h0.62M19.7 33.1h0.62M43.8 35.3h0.62M44.4 33.8h0.62M49.1 35.4h0.62M44.6 32.7h0.62M43.3 33.4h0.62M13.5 31.1h0.62M46.1 33.3h0.62M33.0 38.7h0.62M12.4 34.0h0.62M41.6 33.2h0.62M35.0 37.9h0.62M19.2 36.0h0.62M3.4 35.8h0.62M44.4 33.2h0.62M25.5 33.8h0.62M23.6 31.4h0.62M3.2 30.0h0.62M21.0 32.6h0.62M12.1 31.8h0.62M32.7 27.0h0.62M11.2 30.9h0.62M21.4 40.0h0.62M35.7 38.1h0.62M47.2 33.9h0.62M46.6 35.3h0.62M18.2 30.4h0.62M26.5 29.1h0.62M21.6 36.0h0.62M49.9 37.2h0.62M36.8 32.8h0.62M48.4 37.2h0.62M17.3 32.5h0.62M7.1 34.6h0.62M25.0 35.3h0.62M27.5 30.9h0.62M51.1 27.1h0.62M51.6 35.2h0.62M16.3 33.6h0.62M26.5 39.5h0.62M13.0 31.7h0.62M19.2 38.4h0.62M36.5 32.8h0.62M17.0 19.8h0.62M43.9 18.5h0.62M4.9 19.2h0.62M36.7 19.3h0.62M53.2 16.5h0.62M36.7 15.2h0.62M45.7 18.5h0.62M32.1 17.7h0.62M30.2 16.3h0.62M43.4 17.3h0.62M14.4 19.9h0.62M9.3 16.9h0.62M1.0 19.5h0.62M23.4 15.0h0.62M14.8 19.9h0.62M50.6 19.5h0.62M4.6 20.3h0.62M24.7 16.2h0.62M11.7 20.1h0.62M20.3 16.8h0.62M14.8 16.1h0.62M6.2 16.5h0.62M36.6 18.9h0.62M26.4 18.4h0.62M53.0 21.5h0.62M27.5 14.6h0.62M30.6 18.8h0.62M54.0 17.0h0.62M34.1 17.7h0.62M32.3 14.7h0.62M43.4 19.6h0.62M24.9 17.8h0.62M21.3 18.7h0.62M33.9 23.6h0.62M31.8 18.9h0.62M15.0 14.0h0.62M28.9 17.9h0.62M19.5 20.3h0.62M53.6 14.5h0.62M21.3 16.9h0.62M18.0 17.3h0.62M43.9 22.3h0.62M10.4 15.6h0.62M16.4 15.2h0.62M13.2 13.1h0.62M8.7 17.2h0.62M11.0 20.1h0.62M5.2 17.9h0.62M42.2 23.1h0.62M43.7 15.1h0.62M22.6 16.6h0.62M17.6 18.1h0.62M28.8 18.4h0.62M21.2 13.8h0.62M1.5 22.0h0.62M6.3 18.4h0.62M33.1 15.2h0.62M34.0 19.0h0.62M43.9 13.0h0.62M36.3 16.5h0.62M37.0 17.1h0.62M29.5 18.0h0.62M50.0 16.6h0.62M48.6 21.9h0.62M48.8 21.8h0.62M2.3 16.9h0.62M45.6 20.8h0.62M44.9 20.7h0.62M42.4 21.6h0.62M3.5 19.8h0.62M6.0 16.7h0.62M38.8 15.4h0.62M10.0 11.5h0.62M10.5 17.5h0.62M43.8 23.5h0.62M52.2 20.8h0.62M44.0 12.0h0.62M28.0 17.9h0.62M43.7 15.0h0.62M2.0 17.9h0.62M40.8 19.5h0.62M37.6 16.5h0.62M39.6 19.1h0.62M2.2 20.4h0.62M25.5 20.1h0.62M27.4 18.5h0.62M39.5 17.3h0.62M28.5 22.1h0.62M36.1 16.4h0.62M43.9 10.1h0.62M51.8 19.1h0.62M44.3 13.8h0.62M10.3 15.7h0.62M51.9 19.7h0.62M47.4 18.6h0.62M42.4 15.3h0.62M37.2 16.3h0.62M47.3 17.1h0.62M3.3 14.3h0.62M36.2 18.1h0.62M21.4 17.7h0.62M41.3 20.1h0.62M50.7 20.2h0.62M28.0 16.7h0.62M8.3 18.0h0.62M33.0 19.0h0.62M18.2 19.2h0.62M24.9 20.1h0.62M4.2 19.2h0.62M31.5 17.7h0.62M53.7 19.3h0.62M43.5 18.9h0.62M46.2 15.6h0.62M35.9 14.0h0.62M43.4 17.8h0.62M49.9 22.6h0.62M13.9 17.7h0.62M21.7 16.8h0.62M53.8 16.7h0.62M44.3 16.6h0.62M36.4 18.7h0.62M9.8 13.7h0.62M12.5 17.5h0.62M15.6 18.0h0.62M37.5 16.9h0.62M18.0 19.9h0.62M45.5 18.7h0.62M42.5 22.9h0.62M10.0 15.1h0.62M33.5 17.8h0.62M35.6 17.7h0.62M37.9 17.3h0.62M12.7 17.0h0.62M50.9 17.7h0.62M1.9 18.8h0.62M3.7 18.5h0.62M27.3 17.0h0.62M51.2 21.7h0.62M19.7 18.0h0.62M38.2 13.1h0.62M41.6 16.9h0.62M52.6 16.8h0.62M33.5 24.0h0.62M3.4 20.2h0.62M16.5 17.8h0.62M22.4 17.7h0.62M23.1 15.0h0.62M49.0 16.2h0.62M37.9 19.2h0.62M45.6 17.7h0.62M5.2 23.0h0.62M44.9 15.6h0.62M35.8 15.6h0.62M29.2 18.4h0.62M4.7 20.1h0.62M20.2 19.2h0.62M52.9 16.6h0.62M34.5 14.3h0.62M28.8 18.9h0.62M51.8 18.8h0.62M32.2 23.6h0.62M34.3 18.0h0.62M49.4 17.7h0.62M4.7 17.0h0.62M10.8 19.2h0.62M7.7 20.8h0.62M22.3 15.1h0.62M50.0 15.1h0.62M15.5 16.3h0.62M42.5 18.1h0.62M21.2 19.2h0.62M28.4 17.2h0.62M39.0 15.8h0.62M13.0 18.9h0.62M12.0 19.6h0.62M41.6 21.1h0.62M2.0 20.0h0.62M2.9 16.6h0.62M14.3 22.4h0.62M34.7 19.5h0.62M7.4 37.7h0.62M8.0 47.4h0.62M27.9 72.4h0.62M42.8 37.1h0.62M26.8 47.6h0.62M20.1 36.9h0.62M17.0 38.9h0.62M46.8 63.5h0.62M20.2 40.9h0.62M46.0 49.4h0.62M45.3 45.6h0.62M16.6 43.8h0.62M4.8 43.1h0.62M36.5 49.1h0.62M27.7 43.3h0.62M47.1 47.3h0.62M37.4 47.5h0.62M47.1 42.9h0.62M30.7 43.5h0.62M36.7 47.3h0.62M11.6 50.3h0.62M35.2 42.0h0.62M4.6 39.8h0.62M41.3 36.3h0.62M11.4 60.9h0.62M5.7 43.2h0.62M8.4 67.9h0.62M13.6 40.8h0.62M46.9 76.5h0.62M38.3 40.8h0.62M32.8 37.3h0.62M28.3 57.1h0.62M42.5 38.2h0.62M6.0 44.3h0.62M28.7 36.4h0.62M13.8 43.8h0.62M46.6 42.5h0.62M6.0 42.3h0.62M4.1 47.5h0.62M28.0 45.4h0.62M6.4 54.7h0.62M26.8 41.8h0.62M28.3 52.4h0.62M24.8 69.9h0.62M3.4 42.6h0.62M16.0 79.8h0.62M12.0 49.1h0.62M9.1 43.5h0.62M45.4 72.6h0.62M31.5 45.3h0.62M18.8 73.0h0.62M34.1 51.6h0.62M19.6 43.9h0.62M36.2 37.2h0.62M16.0 55.2h0.62M7.1 44.6h0.62M29.6 43.3h0.62M48.9 40.7h0.62M12.9 67.4h0.62M41.7 44.6h0.62M28.2 48.1h0.62M42.6 44.0h0.62M27.1 52.8h0.62M32.0 36.6h0.62M1.9 44.0h0.62M15.5 38.0h0.62M12.1 53.2h0.62M23.4 58.2h0.62M33.0 60.5h0.62M38.9 61.1h0.62M36.1 39.4h0.62M35.2 39.4h0.62M36.5 48.7h0.62M23.4 47.2h0.62M39.1 46.5h0.62M47.4 40.1h0.62M2.0 46.7h0.62M4.1 40.4h0.62M29.4 57.8h0.62M3.7 38.9h0.62M46.2 44.2h0.62M2.8 53.3h0.62M24.5 41.5h0.62M47.9 54.3h0.62M24.5 58.9h0.62M13.0 38.6h0.62M28.1 46.0h0.62M1.3 42.3h0.62M37.9 46.6h0.62M7.9 39.8h0.62M41.0 39.9h0.62M14.2 38.2h0.62M15.4 51.5h0.62M25.6 46.2h0.62M42.3 39.0h0.62M29.9 42.7h0.62M42.3 46.9h0.62M12.1 61.9h0.62M29.8 68.6h0.62M17.7 38.1h0.62M49.3 42.9h0.62M43.6 52.1h0.62M46.8 41.3h0.62M4.2 43.3h0.62M38.5 47.1h0.62M21.3 45.3h0.62M12.1 41.7h0.62M15.5 64.6h0.62M28.5 70.7h0.62M20.8 36.8h0.62M26.2 57.8h0.62M45.5 58.1h0.62M12.7 50.7h0.62M15.5 57.0h0.62M46.8 73.7h0.62M37.7 54.6h0.62M8.8 46.5h0.62M40.2 60.1h0.62M32.8 59.5h0.62M12.4 75.7h0.62M2.3 36.4h0.62M43.1 37.9h0.62M21.3 63.2h0.62M46.2 49.6h0.62M14.4 42.0h0.62M28.3 36.6h0.62M37.8 43.8h0.62M4.9 49.3h0.62M9.8 47.5h0.62M1.4 67.6h0.62M17.9 40.9h0.62M14.0 46.5h0.62M31.4 42.9h0.62M9.8 73.8h0.62M48.1 49.5h0.62M8.2 42.2h0.62M4.0 47.7h0.62M48.1 41.3h0.62M22.6 79.1h0.62M9.3 66.5h0.62M45.2 41.7h0.62M42.7 37.0h0.62M6.1 48.1h0.62M2.1 37.3h0.62M28.2 51.9h0.62M38.5 46.3h0.62M5.7 41.3h0.62M46.5 42.8h0.62M24.0 53.7h0.62M38.4 46.5h0.62M31.0 36.3h0.62M16.1 64.1h0.62M42.5 37.2h0.62M39.2 59.4h0.62M24.3 41.4h0.62M49.9 64.5h0.62M1.8 45.7h0.62M14.0 46.8h0.62M40.1 38.5h0.62M10.5 63.6h0.62M11.6 47.0h0.62M25.5 39.0h0.62M29.8 39.4h0.62M0.8 45.8h0.62M11.8 54.9h0.62M45.8 77.1h0.62M20.2 56.0h0.62M3.7 51.1h0.62M8.1 53.5h0.62M16.0 44.4h0.62M32.3 47.0h0.62M30.9 79.8h0.62M1.3 38.4h0.62M16.2 46.1h0.62M38.8 39.2h0.62M4.1 45.4h0.62M16.0 39.6h0.62M22.1 36.8h0.62M37.2 45.1h0.62M16.7 51.4h0.62M17.1 38.7h0.62M17.3 38.5h0.62M16.3 61.9h0.62M16.5 43.9h0.62M11.5 36.8h0.62M20.8 40.8h0.62M18.1 42.6h0.62M44.5 59.8h0.62M23.5 39.8h0.62M17.8 44.1h0.62M1.8 48.2h0.62M44.6 38.6h0.62M14.7 42.4h0.62M15.8 38.9h0.62M22.0 46.7h0.62M42.9 43.5h0.62M15.9 41.5h0.62M41.1 36.1h0.62M6.8 38.0h0.62M16.2 52.0h0.62M31.0 36.4h0.62M31.1 38.0h0.62M15.1 41.9h0.62M27.1 39.1h0.62M37.6 49.1h0.62M25.6 41.3h0.62M38.3 55.5h0.62M25.6 41.4h0.62M11.1 41.1h0.62M23.9 57.1h0.62M48.8 42.1h0.62M42.5 43.0h0.62M17.7 43.9h0.62M15.4 40.8h0.62M19.1 65.8h0.62M1.5 54.5h0.62M33.2 65.8h0.62M25.3 46.9h0.62M35.3 47.5h0.62M21.9 60.8h0.62M16.7 57.2h0.62M22.6 37.4h0.62M30.3 38.6h0.62M33.0 78.7h0.62M43.0 63.4h0.62M49.3 36.5h0.62M47.1 62.2h0.62M5.6 36.7h0.62M40.7 45.3h0.62M10.4 45.6h0.62M39.9 73.9h0.62M18.6 60.0h0.62M32.0 42.0h0.62M45.1 57.4h0.62M32.7 41.4h0.62M39.9 38.1h0.62M1.9 41.8h0.62M30.1 52.7h0.62M49.8 52.3h0.62M20.9 37.4h0.62M16.0 42.4h0.62M47.3 45.6h0.62M47.7 55.5h0.62M3.3 38.5h0.62M20.0 47.6h0.62M11.8 74.7h0.62M49.9 66.6h0.62M30.6 40.5h0.62M20.5 38.4h0.62M16.3 38.8h0.62M2.8 45.8h0.62M35.8 37.3h0.62M32.3 42.6h0.62M16.8 53.5h0.62M25.9 77.5h0.62M35.5 43.1h0.62M34.4 36.3h0.62M1.8 56.5h0.62M9.9 39.0h0.62M0.9 60.6h0.62M47.7 39.0h0.62M36.8 58.6h0.62M12.4 42.2h0.62M11.8 59.5h0.62M34.9 41.1h0.62M36.2 48.0h0.62M30.2 54.1h0.62M34.9 36.7h0.62M41.4 37.3h0.62M42.6 39.5h0.62M16.5 48.6h0.62M13.5 44.9h0.62M35.2 43.8h0.62M35.8 53.9h0.62M48.5 41.5h0.62M39.9 41.5h0.62M41.8 40.2h0.62M34.6 38.1h0.62M39.8 40.6h0.62M30.6 36.0h0.62M19.2 45.6h0.62M38.3 70.2h0.62M46.0 41.4h0.62M36.4 42.7h0.62M36.5 42.9h0.62M4.9 36.9h0.62M12.0 53.2h0.62M26.3 61.8h0.62M32.2 52.1h0.62M35.3 37.7h0.62M47.4 41.5h0.62M1.0 39.4h0.62M16.6 43.3h0.62M15.8 58.4h0.62M14.3 40.2h0.62M18.0 66.2h0.62M47.2 37.3h0.62M45.5 43.7h0.62M19.3 64.3h0.62M43.1 58.1h0.62M11.7 43.4h0.62M24.8 55.0h0.62M1.1 38.6h0.62M29.6 47.8h0.62M28.7 37.2h0.62M14.2 39.2h0.62M34.2 60.7h0.62M29.4 39.8h0.62M36.2 45.0h0.62M13.7 42.9h0.62M21.2 49.2h0.62M29.7 36.0h0.62M15.2 57.0h0.62M20.5 42.7h0.62M9.0 47.4h0.62M31.8 59.3h0.62M5.4 44.9h0.62M14.8 36.9h0.62M33.9 60.7h0.62M10.5 51.0h0.62M9.3 54.6h0.62M49.8 36.4h0.62M29.3 60.5h0.62M31.5 52.9h0.62M16.0 78.2h0.62M29.6 69.8h0.62M45.5 39.2h0.62M30.2 51.8h0.62M28.9 36.5h0.62M47.3 42.5h0.62M39.0 60.3h0.62M8.4 36.1h0.62M37.4 54.5h0.62M17.0 60.1h0.62M44.5 65.1h0.62M18.3 48.1h0.62M17.7 37.6h0.62M32.0 61.1h0.62M29.8 37.3h0.62M37.8 62.6h0.62M8.4 45.3h0.62M8.3 36.7h0.62M3.3 60.0h0.62M17.9 46.8h0.62M9.3 46.1h0.62M48.6 39.8h0.62M39.5 42.1h0.62M18.9 47.4h0.62M34.0 38.0h0.62M44.9 48.8h0.62M11.1 47.2h0.62M10.6 55.2h0.62M3.9 41.0h0.62M22.2 80.2h0.62M14.5 40.6h0.62M12.8 41.4h0.62M46.9 40.7h0.62M48.0 36.1h0.62M20.8 48.1h0.62M39.8 37.9h0.62M17.6 71.3h0.62M48.7 36.4h0.62M47.3 39.9h0.62M19.7 37.3h0.62M19.5 38.9h0.62M10.9 41.0h0.62M4.1 40.4h0.62M8.5 40.8h0.62M44.6 37.0h0.62M13.1 37.1h0.62M28.9 40.1h0.62M24.3 49.7h0.62M33.7 66.4h0.62M1.1 37.6h0.62M19.4 37.3h0.62M10.2 49.9h0.62M41.2 43.2h0.62M32.7 42.3h0.62M20.9 40.4h0.62M16.7 47.2h0.62M44.4 65.6h0.62M4.0 36.9h0.62M47.6 44.1h0.62M47.7 39.6h0.62M34.3 44.6h0.62M6.7 38.3h0.62M4.4 36.0h0.62M46.8 41.8h0.62M49.7 61.8h0.62M44.7 37.9h0.62M26.0 37.2h0.62M14.8 47.4h0.62M39.8 61.5h0.62M11.8 48.9h0.62M25.5 44.5h0.62M45.3 68.9h0.62M24.3 39.3h0.62M38.0 54.3h0.62M13.6 47.3h0.62M27.8 39.6h0.62M67.5 48.9h0.62M58.5 53.6h0.62M60.5 69.2h0.62M65.5 51.4h0.62M61.6 40.4h0.62M57.1 75.5h0.62M56.8 39.6h0.62M58.5 37.8h0.62M65.8 50.3h0.62M60.2 71.1h0.62M52.0 38.5h0.62M55.0 33.1h0.62M55.0 51.2h0.62M71.6 79.1h0.62M53.6 61.8h0.62M54.9 36.0h0.62M66.5 75.1h0.62M61.4 34.2h0.62M53.7 35.4h0.62M66.9 58.7h0.62M66.6 38.8h0.62M56.3 38.8h0.62M59.9 56.9h0.62M60.2 78.3h0.62M50.6 28.4h0.62M60.1 58.5h0.62M63.1 36.0h0.62M65.7 70.7h0.62M53.7 50.6h0.62M55.8 49.3h0.62M68.7 58.5h0.62M57.1 76.8h0.62M68.5 75.5h0.62M59.2 39.1h0.62M61.9 70.7h0.62M56.4 36.1h0.62M49.6 48.2h0.62M62.8 32.7h0.62M57.1 42.3h0.62M65.1 43.0h0.62M65.4 76.5h0.62M53.5 37.9h0.62M63.8 67.7h0.62M51.0 72.9h0.62M53.8 79.1h0.62M58.4 31.1h0.62M60.1 68.0h0.62M56.7 56.5h0.62M50.4 75.1h0.62M59.9 60.5h0.62M55.3 61.6h0.62M55.7 47.3h0.62M56.3 75.1h0.62M57.6 45.1h0.62M63.8 54.7h0.62M65.3 74.0h0.62M52.9 34.6h0.62M61.6 29.9h0.62M54.5 79.2h0.62M61.8 48.6h0.62M49.8 47.9h0.62M51.5 43.4h0.62M61.7 57.2h0.62M58.9 65.1h0.62M52.3 33.5h0.62M49.4 61.3h0.62M66.9 34.8h0.62M63.1 49.4h0.62M49.3 53.6h0.62M59.5 60.2h0.62M56.3 71.8h0.62M58.6 65.7h0.62M51.5 37.4h0.62M61.8 50.8h0.62M57.4 40.3h0.62M66.4 72.6h0.62M49.3 55.7h0.62M55.3 64.3h0.62M67.9 35.4h0.62M56.4 46.2h0.62M61.3 76.0h0.62M56.5 48.7h0.62M59.8 38.8h0.62M64.2 75.3h0.62M70.2 79.0h0.62M66.5 63.5h0.62M58.4 55.2h0.62M56.4 61.8h0.62M65.5 40.1h0.62M64.0 78.0h0.62M67.7 61.8h0.62M62.2 47.9h0.62M50.0 47.5h0.62M62.1 45.5h0.62M52.7 72.6h0.62M57.0 41.9h0.62M49.3 28.1h0.62M57.8 40.5h0.62M56.6 55.7h0.62M59.5 78.5h0.62M58.5 79.5h0.62M59.9 72.3h0.62M64.1 33.7h0.62M55.3 28.2h0.62M54.7 34.0h0.62M64.6 49.7h0.62M60.5 62.1h0.62M52.5 73.4h0.62M59.3 76.7h0.62M61.3 49.5h0.62M63.5 56.1h0.62M60.6 45.3h0.62M61.6 68.9h0.62M61.1 60.7h0.62M52.7 50.2h0.62M50.6 30.7h0.62M53.2 70.8h0.62M68.2 64.2h0.62M61.5 33.6h0.62M58.1 45.2h0.62M57.9 65.3h0.62M69.6 59.1h0.62M48.9 57.9h0.62M54.2 51.5h0.62M52.7 55.2h0.62M54.8 70.2h0.62M54.6 60.7h0.62M64.1 74.9h0.62M67.0 66.4h0.62M60.6 61.6h0.62M64.0 60.3h0.62M55.5 56.5h0.62M44.4 63.6h0.62M50.9 66.3h0.62M59.0 67.6h0.62M58.1 30.9h0.62M63.0 45.6h0.62M50.4 47.3h0.62M56.3 29.9h0.62M47.1 65.5h0.62M63.6 43.3h0.62M63.0 33.7h0.62M53.0 53.3h0.62M55.6 55.0h0.62M55.3 59.7h0.62M63.4 61.1h0.62M58.1 54.8h0.62M59.6 30.3h0.62M54.7 49.5h0.62M59.4 35.3h0.62M51.2 57.5h0.62M61.6 33.6h0.62M54.9 33.6h0.62M55.5 43.3h0.62M64.4 59.7h0.62M55.1 75.9h0.62M67.6 76.6h0.62M54.5 44.3h0.62M60.5 61.6h0.62M58.2 34.0h0.62M62.2 64.4h0.62M54.2 37.1h0.62M62.5 33.8h0.62M65.5 75.5h0.62M57.7 45.8h0.62M63.1 33.7h0.62M56.7 60.1h0.62M65.5 77.8h0.62M45.6 30.5h0.62M52.2 56.6h0.62M52.9 43.7h0.62M57.5 32.8h0.62M62.8 67.0h0.62M56.6 55.0h0.62M54.4 44.5h0.62M69.0 36.3h0.62M59.8 35.0h0.62M62.8 42.5h0.62M49.6 73.0h0.62M55.5 31.1h0.62M62.2 37.3h0.62M50.7 33.3h0.62M54.0 60.1h0.62M55.7 70.7h0.62M50.8 76.7h0.62M52.6 49.8h0.62M67.7 65.3h0.62M54.4 45.1h0.62M65.5 79.3h0.62M58.5 75.3h0.62M65.5 51.6h0.62M58.8 58.1h0.62M64.5 36.3h0.62M61.0 62.2h0.62M63.0 37.7h0.62M67.0 50.9h0.62M63.6 52.6h0.62M50.3 54.6h0.62M56.8 77.3h0.62M64.9 65.0h0.62M56.4 58.8h0.62M59.1 64.5h0.62M58.3 62.7h0.62M50.2 32.1h0.62M57.4 55.3h0.62M54.8 65.7h0.62M62.0 61.6h0.62M60.6 75.3h0.62M49.8 45.6h0.62M59.4 47.7h0.62M60.3 77.6h0.62M52.6 49.9h0.62M55.8 49.8h0.62M63.7 32.8h0.62M50.1 70.7h0.62M47.6 76.1h0.62M58.7 62.2h0.62M50.1 36.4h0.62M62.3 65.5h0.62M56.8 34.3h0.62M59.2 59.0h0.62M56.1 58.6h0.62M60.4 75.6h0.62M59.1 38.1h0.62M61.6 36.0h0.62M65.2 56.0h0.62M60.7 60.8h0.62M53.8 36.2h0.62M57.9 74.1h0.62M58.8 52.1h0.62M60.7 53.8h0.62M74.5 45.8h0.62M62.5 61.1h0.62M53.8 39.2h0.62M52.9 69.9h0.62M61.5 57.0h0.62M55.1 30.1h0.62M65.9 75.0h0.62M48.5 44.1h0.62M51.4 61.4h0.62M54.9 79.3h0.62M66.2 47.4h0.62M58.8 28.4h0.62M38.6 29.8h0.62M64.8 78.6h0.62M54.3 50.7h0.62M62.3 47.7h0.62M53.5 66.7h0.62M54.2 57.6h0.62M60.4 59.1h0.62M67.1 43.6h0.62M59.1 72.6h0.62M60.9 36.3h0.62M57.2 51.2h0.62M57.9 46.7h0.62M54.9 29.5h0.62M58.9 72.5h0.62M56.5 79.1h0.62M57.3 73.5h0.62M64.8 31.5h0.62M57.3 61.3h0.62M69.1 50.4h0.62M58.9 70.3h0.62M45.5 31.1h0.62M68.0 44.3h0.62M62.2 38.7h0.62M51.3 78.0h0.62M60.8 49.5h0.62M50.9 75.2h0.62M58.0 30.1h0.62M57.9 69.1h0.62M61.7 66.8h0.62M61.6 50.7h0.62M58.8 49.6h0.62M52.0 55.0h0.62M58.1 61.7h0.62M62.2 50.2h0.62M63.6 42.0h0.62M65.6 45.9h0.62M64.2 40.9h0.62M61.7 51.4h0.62M58.5 54.7h0.62M57.9 46.3h0.62M57.3 44.0h0.62M55.9 75.8h0.62M61.0 63.4h0.62M55.3 65.4h0.62M54.4 76.0h0.62M63.9 61.8h0.62M58.3 70.8h0.62M57.8 64.9h0.62M60.4 65.7h0.62M59.0 57.5h0.62M52.9 58.3h0.62M69.6 67.4h0.62M60.0 31.8h0.62M58.0 58.1h0.62M51.6 43.2h0.62M51.3 64.1h0.62M55.9 61.0h0.62M65.4 49.8h0.62M61.0 68.2h0.62M57.0 56.9h0.62M55.7 45.4h0.62M57.6 77.6h0.62M66.9 67.7h0.62M63.3 69.3h0.62M61.1 48.4h0.62M57.2 28.2h0.62M51.8 45.3h0.62M62.7 63.5h0.62M57.0 43.3h0.62M54.7 73.2h0.62M59.1 54.3h0.62M62.1 30.5h0.62M55.5 43.2h0.62M53.5 66.3h0.62M48.9 65.4h0.62M67.3 46.3h0.62M63.5 76.2h0.62M61.3 72.3h0.62M58.3 30.4h0.62M60.3 72.7h0.62M50.1 62.7h0.62M48.4 60.3h0.62M57.6 43.9h0.62M64.2 35.5h0.62M57.9 44.7h0.62M56.0 60.9h0.62M56.6 55.9h0.62M71.2 36.1h0.62M56.3 58.6h0.62M60.0 59.9h0.62M63.0 78.9h0.62M48.1 76.3h0.62M51.1 62.2h0.62M53.9 64.8h0.62M54.2 30.5h0.62M67.1 56.2h0.62M68.8 77.0h0.62M57.1 34.3h0.62M61.1 41.2h0.62M57.3 65.6h0.62M64.2 49.9h0.62M64.1 37.8h0.62M61.1 55.2h0.62M49.4 42.8h0.62M52.9 47.1h0.62M55.5 67.7h0.62M51.6 49.5h0.62M61.7 46.9h0.62M59.3 78.9h0.62M56.7 68.0h0.62M63.0 34.2h0.62M62.3 73.3h0.62M55.3 29.3h0.62M56.6 73.1h0.62M45.8 39.9h0.62M60.1 65.4h0.62M55.9 52.3h0.62M63.2 9.9h0.62M66.0 18.7h0.62M59.0 22.0h0.62M58.4 4.8h0.62M53.2 9.6h0.62M57.7 18.1h0.62M59.8 28.2h0.62M48.8 12.1h0.62M58.4 23.9h0.62M54.7 15.8h0.62M59.5 20.2h0.62M66.5 27.8h0.62M58.7 15.9h0.62M59.6 21.5h0.62M59.0 22.6h0.62M64.5 30.4h0.62M61.0 19.0h0.62M64.2 19.8h0.62M50.2 31.2h0.62M60.3 27.9h0.62M56.9 21.8h0.62M47.6 32.1h0.62M50.9 28.0h0.62M61.3 19.3h0.62M54.3 36.3h0.62M51.5 9.4h0.62M53.9 14.9h0.62M66.0 28.1h0.62M59.3 16.6h0.62M50.0 28.1h0.62M60.0 13.0h0.62M54.1 22.9h0.62M66.6 15.2h0.62M57.2 27.1h0.62M51.8 28.6h0.62M60.7 15.7h0.62M55.2 24.4h0.62M53.6 10.0h0.62M55.4 33.9h0.62M61.4 24.0h0.62M64.9 24.9h0.62M61.4 29.2h0.62M62.5 23.0h0.62M59.4 31.7h0.62M59.2 18.4h0.62M56.9 8.3h0.62M54.0 27.2h0.62M57.4 31.0h0.62M57.8 23.1h0.62M68.5 28.4h0.62M58.4 26.0h0.62M52.6 20.7h0.62M55.2 32.4h0.62M64.6 20.9h0.62M54.3 33.5h0.62M67.3 34.2h0.62M51.8 19.1h0.62M60.4 24.8h0.62M52.0 22.5h0.62M55.5 14.3h0.62M60.8 29.5h0.62M61.1 14.9h0.62M55.3 23.8h0.62M56.3 26.7h0.62M66.2 25.1h0.62M53.6 29.6h0.62M66.8 12.8h0.62M58.5 14.4h0.62M56.6 16.7h0.62M51.7 12.0h0.62M49.5 21.6h0.62M53.7 26.7h0.62M61.7 20.3h0.62M57.6 13.4h0.62M66.7 22.3h0.62M57.5 26.6h0.62M68.7 32.7h0.62M59.9 16.5h0.62M51.0 33.6h0.62M52.3 20.0h0.62M53.8 18.8h0.62M67.8 36.5h0.62M61.2 17.1h0.62M63.9 12.7h0.62M55.0 18.5h0.62M54.5 21.5h0.62M59.7 11.7h0.62M63.5 26.3h0.62M63.9 26.2h0.62M58.0 27.3h0.62M52.0 34.7h0.62M62.3 38.1h0.62M60.4 38.9h0.62M66.9 25.9h0.62M53.0 10.4h0.62M58.5 21.1h0.62M55.0 19.0h0.62M56.1 26.5h0.62M61.2 32.6h0.62M57.0 17.1h0.62M57.5 12.6h0.62M50.2 26.9h0.62M57.1 20.0h0.62M61.3 25.6h0.62M61.5 21.1h0.62M53.5 9.5h0.62M57.2 28.4h0.62M51.6 17.2h0.62M67.9 20.7h0.62M62.4 26.4h0.62M51.8 24.0h0.62M65.4 18.8h0.62M62.6 22.0h0.62M62.1 29.0h0.62M45.1 37.6h0.62M56.3 13.1h0.62M61.1 24.8h0.62M57.2 29.2h0.62M59.7 27.7h0.62M63.4 28.1h0.62" stroke="#8c8c8c" stroke-width=".6" fill="none"/>
<path d="M37.7 29.5h0.62M66.2 17.3h0.62M74.6 41.5h0.62M73.4 50.9h0.62M31.6 59.1h0.62M66.9 60.7h0.62M3.0 14.3h0.62M33.8 25.3h0.62M9.5 33.1h0.62M35.9 75.7h0.62M64.1 44.7h0.62M60.1 55.6h0.62M4.1 55.9h0.62M48.5 35.2h0.62M20.4 61.5h0.62M42.3 61.7h0.62M72.5 52.2h0.62M79.9 79.0h0.62M13.5 41.9h0.62M44.6 73.4h0.62M26.7 15.4h0.62M33.4 22.7h0.62M42.1 35.0h0.62M77.6 34.1h0.62M31.8 14.6h0.62M74.4 30.9h0.62M46.9 5.7h0.62M2.7 28.4h0.62M27.5 36.5h0.62M75.0 54.4h0.62M63.5 43.4h0.62M61.9 78.0h0.62M44.3 26.9h0.62M39.5 17.1h0.62M77.0 68.4h0.62M47.4 33.7h0.62M75.8 47.9h0.62M74.6 4.4h0.62M30.2 52.9h0.62M26.5 26.6h0.62M18.3 47.7h0.62M40.1 12.0h0.62M71.4 54.4h0.62M4.2 16.3h0.62M79.7 11.7h0.62M58.1 28.1h0.62M22.1 55.4h0.62M15.0 68.6h0.62M11.7 65.7h0.62M62.2 75.8h0.62M1.8 65.7h0.62M27.3 59.3h0.62M48.8 53.5h0.62M65.0 40.1h0.62M18.8 78.1h0.62M76.9 4.6h0.62M45.3 12.9h0.62M3.8 70.4h0.62M67.3 70.9h0.62M59.1 40.1h0.62M63.6 47.0h0.62M26.4 12.0h0.62M31.9 77.0h0.62M46.3 18.7h0.62M77.8 69.1h0.62M70.2 69.1h0.62M48.2 63.8h0.62M33.6 49.5h0.62M51.8 77.5h0.62M73.1 1.5h0.62M10.1 25.4h0.62M13.5 74.7h0.62M64.4 14.4h0.62M2.8 65.0h0.62M12.9 36.0h0.62M48.9 1.0h0.62M47.4 42.9h0.62M24.1 61.2h0.62M47.8 57.2h0.62M49.3 13.4h0.62M66.1 62.2h0.62M78.1 7.1h0.62M46.4 46.0h0.62M70.0 48.1h0.62M28.3 38.5h0.62M38.2 5.6h0.62M58.3 9.4h0.62M24.7 13.7h0.62M12.7 42.3h0.62M5.7 41.7h0.62M16.2 75.4h0.62M18.9 7.7h0.62M56.5 13.6h0.62M47.2 2.2h0.62M12.2 30.6h0.62M22.3 31.2h0.62M22.9 71.6h0.62M14.0 22.7h0.62M46.9 21.3h0.62M35.9 43.6h0.62M75.3 61.2h0.62M51.8 18.6h0.62M2.6 75.9h0.62M1.9 45.3h0.62M74.3 79.8h0.62M25.9 26.2h0.62M65.1 18.8h0.62M5.3 10.0h0.62M20.1 66.8h0.62M30.4 24.8h0.62M37.6 63.6h0.62M5.2 65.7h0.62M61.8 1.8h0.62M42.6 19.2h0.62M5.2 26.4h0.62M71.3 63.5h0.62M27.0 51.4h0.62M60.9 54.1h0.62M80.1 69.5h0.62M76.4 79.2h0.62M24.6 7.1h0.62M59.1 20.4h0.62M53.8 39.9h0.62M30.3 39.6h0.62M1.9 23.6h0.62M52.2 45.1h0.62M37.6 34.7h0.62M1.1 68.3h0.62M25.6 42.3h0.62M54.1 78.7h0.62M68.8 55.4h0.62M75.4 51.4h0.62M12.2 29.9h0.62M40.9 28.9h0.62M58.8 77.3h0.62M34.4 3.8h0.62M62.2 10.6h0.62M62.9 1.3h0.62M14.9 61.6h0.62M40.9 25.7h0.62M38.2 11.6h0.62M22.6 15.6h0.62M30.1 48.0h0.62M78.2 7.3h0.62M30.3 14.5h0.62M57.3 37.9h0.62M42.8 2.7h0.62M53.2 79.6h0.62M70.6 63.4h0.62M16.4 61.2h0.62M7.9 55.6h0.62M43.2 77.8h0.62M32.4 41.0h0.62M3.5 33.4h0.62M75.8 15.0h0.62M47.5 43.6h0.62M72.4 42.9h0.62M48.1 56.3h0.62M30.6 32.8h0.62M38.0 39.2h0.62M17.6 60.6h0.62M45.9 66.4h0.62M45.0 14.2h0.62M1.5 77.4h0.62M47.8 63.0h0.62M14.0 42.6h0.62M52.8 24.0h0.62M33.9 59.0h0.62M20.4 9.6h0.62M16.9 76.3h0.62M11.8 39.6h0.62M22.6 65.8h0.62M53.5 59.0h0.62M39.4 1.9h0.62M6.8 34.6h0.62M40.3 79.4h0.62M24.7 52.6h0.62M30.0 39.7h0.62M20.8 50.9h0.62M21.1 31.5h0.62M39.6 25.7h0.62M27.5 16.3h0.62M72.7 59.5h0.62M5.1 53.2h0.62M29.3 42.9h0.62M38.5 20.7h0.62M8.8 36.1h0.62M18.9 8.4h0.62M42.2 26.7h0.62M52.0 47.2h0.62M63.4 67.3h0.62M48.1 42.0h0.62M23.1 15.0h0.62M45.3 61.4h0.62M32.4 8.9h0.62M8.6 35.3h0.62M67.2 6.6h0.62M11.1 3.1h0.62M66.9 48.8h0.62M55.5 37.2h0.62M61.8 49.4h0.62M10.8 34.0h0.62M44.7 16.0h0.62M56.8 50.3h0.62M13.9 30.2h0.62M59.9 11.7h0.62M10.6 39.6h0.62M6.7 79.4h0.62M23.7 80.2h0.62M43.7 47.5h0.62M4.8 22.4h0.62M12.3 62.2h0.62M5.8 9.9h0.62M23.2 13.3h0.62M31.7 51.1h0.62M39.7 65.4h0.62M79.3 51.2h0.62M36.2 52.1h0.62M18.2 15.4h0.62M60.2 26.1h0.62M2.6 56.9h0.62M47.1 33.7h0.62M9.8 41.2h0.62M65.4 19.8h0.62M18.3 16.4h0.62M72.4 13.5h0.62M4.8 12.5h0.62M76.4 65.7h0.62M44.9 77.3h0.62M63.2 76.7h0.62M42.3 32.3h0.62M45.0 33.6h0.62M10.8 30.5h0.62M4.3 32.2h0.62M31.5 29.2h0.62M15.0 34.9h0.62M8.5 35.3h0.62M18.4 33.5h0.62M1.8 32.8h0.62M34.5 32.4h0.62M5.7 32.0h0.62M18.4 30.4h0.62M34.7 31.7h0.62M46.0 37.4h0.62M27.3 31.9h0.62M34.2 36.1h0.62M18.5 32.8h0.62M8.8 37.3h0.62M51.6 37.2h0.62M51.5 34.1h0.62M35.2 36.2h0.62M19.4 38.8h0.62M2.9 32.4h0.62M9.3 31.6h0.62M36.6 33.0h0.62M13.5 33.0h0.62M10.3 31.1h0.62M7.7 39.5h0.62M25.0 32.4h0.62M45.8 31.7h0.62M10.2 26.0h0.62M22.0 32.5h0.62M37.6 36.5h0.62M18.5 33.4h0.62M42.0 31.4h0.62M32.0 32.1h0.62M41.6 37.0h0.62M9.5 36.2h0.62M28.5 29.4h0.62M15.2 33.4h0.62M21.4 32.6h0.62M49.6 30.3h0.62M47.4 36.7h0.62M1.4 33.4h0.62M8.7 25.8h0.62M53.0 36.5h0.62M21.4 30.2h0.62M37.3 32.2h0.62M3.6 32.6h0.62M46.5 25.9h0.62M14.6 32.7h0.62M13.5 37.3h0.62M27.2 36.1h0.62M43.1 35.3h0.62M3.7 34.5h0.62M1.9 35.0h0.62M48.2 33.5h0.62M44.8 32.9h0.62M36.4 32.5h0.62M14.3 39.1h0.62M50.6 35.5h0.62M37.8 37.4h0.62M48.5 32.5h0.62M11.1 38.1h0.62M12.0 30.0h0.62M11.6 32.3h0.62M43.9 28.7h0.62M21.0 33.5h0.62M14.3 36.3h0.62M52.9 33.8h0.62M18.4 36.8h0.62M35.1 40.7h0.62M16.7 39.9h0.62M49.8 36.9h0.62M38.2 37.5h0.62M9.1 31.7h0.62M50.9 30.2h0.62M13.8 36.8h0.62M18.6 29.8h0.62M5.1 36.5h0.62M48.8 26.3h0.62M40.0 36.5h0.62M41.2 40.9h0.62M13.8 33.8h0.62M37.7 32.2h0.62M38.8 36.4h0.62M34.2 35.8h0.62M51.8 29.4h0.62M52.9 34.1h0.62M5.6 30.7h0.62M21.3 29.0h0.62M39.4 29.6h0.62M20.6 36.4h0.62M48.0 35.2h0.62M33.0 35.2h0.62M18.1 28.6h0.62M53.7 33.9h0.62M21.9 30.3h0.62M53.0 36.7h0.62M33.5 33.3h0.62M11.5 34.9h0.62M16.0 33.1h0.62M29.3 33.4h0.62M19.1 35.3h0.62M31.6 39.0h0.62M14.4 37.1h0.62M41.7 30.7h0.62M39.3 31.9h0.62M31.2 34.3h0.62M16.9 36.6h0.62M6.0 33.2h0.62M11.9 36.5h0.62M10.8 34.5h0.62M7.8 27.5h0.62M51.4 33.3h0.62M3.9 36.8h0.62M35.1 28.6h0.62M44.4 35.0h0.62M49.8 27.5h0.62M52.9 28.1h0.62M10.3 36.1h0.62M47.1 39.0h0.62M31.5 33.5h0.62M11.0 36.1h0.62M7.7 26.1h0.62M46.5 33.2h0.62M50.7 25.6h0.62M23.5 30.8h0.62M24.1 33.8h0.62M49.7 34.0h0.62M39.6 35.6h0.62M1.9 36.6h0.62M23.7 30.8h0.62M19.8 30.0h0.62M15.8 34.1h0.62M49.0 27.8h0.62M37.0 35.5h0.62M26.6 40.0h0.62M49.5 34.9h0.62M53.7 31.8h0.62M10.4 36.1h0.62M53.0 35.8h0.62M5.8 38.6h0.62M20.4 43.4h0.62M5.1 30.6h0.62M17.8 27.5h0.62M52.1 36.7h0.62M34.4 28.3h0.62M22.4 35.9h0.62M11.1 31.7h0.62M63.9 54.4h0.62M62.8 48.0h0.62M53.3 60.1h0.62M53.6 44.7h0.62M67.4 51.4h0.62M59.3 63.6h0.62M61.4 69.3h0.62M67.2 57.9h0.62M66.7 30.7h0.62M59.3 67.9h0.62M57.0 54.2h0.62M55.6 64.6h0.62M66.7 57.0h0.62M59.8 56.7h0.62M51.0 59.8h0.62M53.2 29.8h0.62M53.9 63.0h0.62M61.0 44.8h0.62M59.6 56.1h0.62M53.7 65.2h0.62M61.9 53.9h0.62M66.8 51.7h0.62M63.1 63.7h0.62M62.7 50.5h0.62M60.9 60.5h0.62M54.9 58.8h0.62M55.6 74.3h0.62M59.9 69.2h0.62M56.8 32.7h0.62M57.5 71.5h0.62M54.2 42.3h0.62M64.4 32.7h0.62M58.4 74.3h0.62M62.0 59.0h0.62M52.3 52.4h0.62M57.0 31.8h0.62M57.0 67.7h0.62M57.8 41.7h0.62M56.9 46.5h0.62M55.0 60.0h0.62M62.9 42.4h0.62M63.1 45.3h0.62M65.0 75.7h0.62M68.7 62.6h0.62M54.9 51.1h0.62M55.2 56.5h0.62M47.9 42.9h0.62M60.7 66.3h0.62M61.3 65.6h0.62M71.0 58.8h0.62M52.6 40.3h0.62M67.7 74.6h0.62M56.9 37.5h0.62M63.1 76.6h0.62M59.7 76.7h0.62M68.2 33.4h0.62M60.3 43.6h0.62M48.3 54.2h0.62M55.9 51.4h0.62M53.4 76.7h0.62M60.1 46.7h0.62M67.0 55.7h0.62M56.3 49.0h0.62M66.6 71.7h0.62M54.1 47.6h0.62M53.4 76.8h0.62M60.6 76.3h0.62M56.7 50.9h0.62M59.2 35.1h0.62M48.0 42.8h0.62M59.5 54.6h0.62M52.3 31.9h0.62M61.0 71.5h0.62M57.8 69.7h0.62M63.3 75.0h0.62M53.4 69.5h0.62M48.5 78.6h0.62M59.6 55.7h0.62M64.7 74.3h0.62M55.7 73.5h0.62M62.9 48.8h0.62M47.4 40.5h0.62M56.8 31.1h0.62M64.9 74.4h0.62M56.0 38.5h0.62M54.1 78.5h0.62M48.1 29.2h0.62M69.4 51.7h0.62M61.8 58.0h0.62M54.0 60.6h0.62" stroke="#555" stroke-width=".62" fill="none"/>
<path d="M0 11H52V19M0 41.2H44.5L52.5 34M44.5 81V41.2L52.5 34.2H69.5V81" fill="none" stroke="#8a8a8a" stroke-width=".8"/>
<path d="M0 20.8H18.52C30.03 20.8 32.58 15.6 44.09 15.6C49.48 15.6 53.4 20.01 53.4 25.4C53.4 30.79 49.48 35.2 44.09 35.2C32.58 35.2 30.03 30 18.52 30H0Z" fill="#fff" stroke="#444" stroke-width=".45"/>
<path d="M0 21.8H18.53C30.04 21.8 32.6 17.1 44.12 17.1C48.68 17.1 52 20.83 52 25.4C52 29.96 48.68 33.7 44.12 33.7C32.6 33.7 30.04 29 18.53 29H0Z" fill="#f2f2f2" stroke="#444" stroke-width=".45"/>
<path d="M0 22.5H18.59C30.13 22.5 32.7 18.4 44.25 18.4C48.1 18.4 50.9 21.55 50.9 25.4C50.9 29.25 48.1 32.4 44.25 32.4C32.7 32.4 30.13 28.3 18.59 28.3H0Z" fill="#cfcfcf" stroke="#444" stroke-width=".45"/>
<path d="M6 23.1H22.13C32.15 23.1 34.37 19.5 44.39 19.5C47.64 19.5 50 22.15 50 25.4C50 28.64 47.64 31.3 44.39 31.3C34.37 31.3 32.15 27.7 22.13 27.7H6Z" fill="#8f8f8f" stroke="#444" stroke-width=".45"/>
<path d="M13 23.5H26.25C34.49 23.5 36.32 20.4 44.55 20.4C47.3 20.4 49.3 22.65 49.3 25.4C49.3 28.15 47.3 30.4 44.55 30.4C36.32 30.4 34.49 27.3 26.25 27.3H13Z" fill="#484848" stroke="#444" stroke-width=".45"/>
<path d="M18 23.9H29.18C36.12 23.9 37.67 21.1 44.62 21.1C46.98 21.1 48.7 23.03 48.7 25.4C48.7 27.77 46.98 29.7 44.62 29.7C37.67 29.7 36.12 26.9 29.18 26.9H18Z" fill="#111" stroke="#444" stroke-width=".45"/>
<path d="M22 24.2H31.53C37.45 24.2 38.76 21.7 44.69 21.7C46.72 21.7 48.2 23.36 48.2 25.4C48.2 27.43 46.72 29.1 44.69 29.1C38.76 29.1 37.45 26.6 31.53 26.6H22Z" fill="#000" stroke="#444" stroke-width=".45"/>
<path d="M5 25.4H43" stroke="#e8e8e8" stroke-width=".8" stroke-dasharray="5 1.2 9 1 3 1"/>
<path d="M.4 17.5C2.6 19.5 2.9 23 2.4 25.4 C2.9 28 2.6 31.5 .4 33.5Z" fill="#000"/>
<circle cx="58.8" cy="24.6" r="4" fill="#e4e4e4" stroke="#444" stroke-width=".7"/>
<circle cx="58.8" cy="24.6" r="2.4" fill="#a9a9a9" stroke="#333" stroke-width=".7"/>
<circle cx="58.8" cy="24.6" r=".8" fill="#f4f4f4"/>
<path d="M56.5 29C57.5 31 57.5 33 55.5 36M61 29C60 31 60.2 33 62 36" fill="none" stroke="#444" stroke-width=".7"/>
<path d="M58.5 35C64.51 35.77 66.3 43.09 66.3 51.55C66.3 61.18 60.84 68.88 58.5 73.5C56.16 68.88 50.7 61.18 50.7 51.55C50.7 43.09 52.49 35.77 58.5 35Z" fill="#fff" stroke="#333" stroke-width=".6"/>
<path d="M58.5 38.5C63.27 39.05 64.7 44.28 64.7 50.33C64.7 57.2 60.36 62.7 58.5 66C56.64 62.7 52.3 57.2 52.3 50.33C52.3 44.28 53.73 39.05 58.5 38.5Z" fill="#e4e4e4" stroke="#333" stroke-width=".6"/>
<path d="M58.5 40.5C62.2 40.91 63.3 44.8 63.3 49.31C63.3 54.44 59.94 58.54 58.5 61C57.06 58.54 53.7 54.44 53.7 49.31C53.7 44.8 54.8 40.91 58.5 40.5Z" fill="#c6c6c6" stroke="#333" stroke-width=".6"/>
<path d="M58.5 42.5C61.12 42.79 61.9 45.55 61.9 48.73C61.9 52.36 59.52 55.26 58.5 57C57.48 55.26 55.1 52.36 55.1 48.73C55.1 45.55 55.88 42.79 58.5 42.5Z" fill="#adadad" stroke="#333" stroke-width=".6"/>
<path d="M58.5 45C59.96 45.16 60.4 46.68 60.4 48.44C60.4 50.44 59.07 52.04 58.5 53C57.93 52.04 56.6 50.44 56.6 48.44C56.6 46.68 57.04 45.16 58.5 45Z" fill="#9c9c9c" stroke="#333" stroke-width=".6"/>
<path d="M58.5 47V52" stroke="#f2f2f2" stroke-width=".8"/>
<path d="M53.5 64C55 69 57 72 58.5 73.5C60 72 62 69 63.5 64M58.5 73.5C56.5 76 55 78 53.5 80.5M58.5 73.5C60.500 76 62 78 63.500 80.500" fill="none" stroke="#333" stroke-width=".8"/>
<path d="M52 80.6C54 79 56 78 58.500 77.800C61 78 63 79 65 80.600Z" fill="#000"/>
<rect x="78" y="78.500" width="2.600" height="2.200" fill="#111"/>
</g>
<g transform="translate(410.2 357) scale(1 0.99)">
<rect x="0" y="0" width="81" height="81" fill="#fff" stroke="#666" stroke-width=".9"/>
<path d="M33.1 43.9h0.62M69.8 14.3h0.62M18.2 2.4h0.62M12.7 41.6h0.62M80.1 56.2h0.62M30.7 32.8h0.62M56.0 26.4h0.62M6.0 68.2h0.62M50.0 9.1h0.62M5.7 7.7h0.62M77.7 8.7h0.62M50.7 78.5h0.62M2.8 31.3h0.62M38.7 74.3h0.62M15.3 20.9h0.62M20.1 4.0h0.62M54.6 66.2h0.62M35.3 3.1h0.62M57.8 59.7h0.62M52.9 26.6h0.62M67.3 51.1h0.62M47.8 43.8h0.62M18.9 36.9h0.62M64.3 55.4h0.62M28.0 66.4h0.62M68.0 3.5h0.62M12.7 18.1h0.62M1.2 61.0h0.62M52.4 44.0h0.62M16.1 9.0h0.62M27.6 67.9h0.62M49.1 4.8h0.62M35.1 3.9h0.62M50.5 9.9h0.62M14.5 52.0h0.62M67.7 50.2h0.62M23.8 52.3h0.62M22.2 55.7h0.62M50.7 15.6h0.62M68.1 67.3h0.62M22.6 77.8h0.62M21.3 5.3h0.62M41.5 70.1h0.62M48.6 44.3h0.62M39.5 23.0h0.62M24.3 32.6h0.62M44.3 76.4h0.62M5.9 20.4h0.62M76.4 53.2h0.62M6.0 35.8h0.62M52.7 73.9h0.62M6.8 73.1h0.62M62.4 22.6h0.62M43.2 66.9h0.62M19.7 56.8h0.62M45.4 5.9h0.62M22.0 33.4h0.62M11.3 76.5h0.62M20.3 18.8h0.62M48.4 42.7h0.62M25.8 26.4h0.62M40.2 73.6h0.62M6.4 73.9h0.62M76.0 55.3h0.62M65.0 30.9h0.62M78.0 60.1h0.62M55.6 36.4h0.62M17.9 56.0h0.62M25.2 43.4h0.62M17.2 10.5h0.62M44.8 27.6h0.62M52.7 31.3h0.62M26.9 26.4h0.62M41.8 29.9h0.62M58.9 21.7h0.62M36.1 16.9h0.62M37.0 35.0h0.62M36.7 35.7h0.62M44.9 25.3h0.62M45.7 23.1h0.62M48.7 26.8h0.62M22.1 21.2h0.62M50.3 24.6h0.62M18.2 33.7h0.62M61.1 18.0h0.62M44.1 32.1h0.62M49.6 30.9h0.62M26.3 33.6h0.62M40.0 22.9h0.62M49.7 33.4h0.62M54.5 21.5h0.62M48.4 16.1h0.62M54.1 20.8h0.62M34.4 31.9h0.62M47.1 21.1h0.62M52.0 39.0h0.62M26.9 27.7h0.62M45.6 28.3h0.62M46.0 33.8h0.62M53.4 27.7h0.62M56.0 23.9h0.62M65.6 26.9h0.62M41.6 30.6h0.62M32.5 18.6h0.62M35.5 36.3h0.62M51.8 22.0h0.62M42.7 26.5h0.62M35.6 23.3h0.62M32.4 16.9h0.62M34.4 35.2h0.62M50.8 25.0h0.62M48.0 18.9h0.62M48.4 25.6h0.62M38.7 29.3h0.62M42.6 41.2h0.62M32.9 25.2h0.62M47.8 26.0h0.62M64.4 27.9h0.62M22.8 21.8h0.62M15.2 26.9h0.62M39.7 30.9h0.62M55.0 20.7h0.62M45.7 26.7h0.62M63.3 27.6h0.62M40.2 23.9h0.62M50.0 14.9h0.62M33.3 19.8h0.62M27.1 30.8h0.62M23.0 36.8h0.62M28.9 20.8h0.62M69.8 60.0h0.62M50.6 41.1h0.62M45.9 45.3h0.62M55.2 47.5h0.62M56.4 72.6h0.62M60.6 60.1h0.62M62.1 67.3h0.62M60.1 37.2h0.62M57.3 67.3h0.62M57.8 54.0h0.62M60.8 44.7h0.62M57.3 61.6h0.62M52.3 50.8h0.62M59.3 37.8h0.62M53.7 60.2h0.62M63.3 62.5h0.62M57.8 70.3h0.62M58.2 68.1h0.62M50.0 49.8h0.62M46.3 68.9h0.62M55.4 76.8h0.62M63.6 56.5h0.62M45.9 58.0h0.62M47.2 46.8h0.62M64.2 50.7h0.62M54.9 48.4h0.62M59.1 80.1h0.62M57.3 61.1h0.62M57.7 73.8h0.62M53.4 67.8h0.62M61.1 77.3h0.62M52.9 61.6h0.62M63.7 49.6h0.62M65.6 77.6h0.62M52.2 59.4h0.62M55.5 52.8h0.62M58.4 39.8h0.62M57.7 76.6h0.62M56.4 54.0h0.62M57.9 64.6h0.62M49.6 51.8h0.62M48.7 78.9h0.62M59.9 58.1h0.62M57.2 65.1h0.62M49.4 60.6h0.62M61.3 36.0h0.62M51.5 47.6h0.62M61.6 44.4h0.62M52.6 78.8h0.62M56.5 44.0h0.62" stroke="#555" stroke-width=".62" fill="none"/>
<path d="M0 11.2H46.5L54.5 14.6V30M0 42H44.5C46 36 50 33 53.6 32M44.5 81V42C46 36 50 32 55 31.4H69.5V81" fill="none" stroke="#8a8a8a" stroke-width=".8"/>
<path d="M3 24.1H14.57C26.73 24.1 29.43 14.9 41.58 14.9C47.96 14.9 52.6 20.12 52.6 26.5C52.6 32.88 47.96 38.1 41.58 38.1C29.43 38.1 26.73 28.9 14.57 28.9H3Z" fill="#fff" stroke="#666" stroke-width=".6"/>
<path d="M15.5 26.8 C22 25 25 20.5 31 17.7 C37 15.5 50.5 17 51.4 26.5 C50.5 36 37 37.5 31 35.3 C25 32.5 22 28.5 15.500 26.8Z" fill="#f6f6f6" stroke="#666" stroke-width=".6"/>
<ellipse cx="38.6" cy="27" rx="13" ry="9.2" fill="#e0e0e0" stroke="#555" stroke-width=".45"/>
<ellipse cx="39.6" cy="27" rx="11.2" ry="7.8" fill="#c6c6c6" stroke="#555" stroke-width=".45"/>
<ellipse cx="40.6" cy="27" rx="9.4" ry="6.4" fill="#a2a2a2" stroke="#555" stroke-width=".45"/>
<ellipse cx="41.8" cy="27" rx="7.6" ry="5.1" fill="#757575" stroke="#555" stroke-width=".45"/>
<ellipse cx="43.1" cy="27" rx="5.7" ry="3.8" fill="#444" stroke="#555" stroke-width=".45"/>
<ellipse cx="44.4" cy="27" rx="3.6" ry="2.5" fill="#141414" stroke="#555" stroke-width=".45"/>
<path d="M.4 18C3.2 20 3.6 24 3 26.5 C3.6 30 3.200 33 .4 36Z" fill="#000"/>
<ellipse cx="58.5" cy="24.5" rx="5.2" ry="4.6" fill="#fff" stroke="#555" stroke-width=".7"/>
<ellipse cx="58.5" cy="24.7" rx="3" ry="2.5" fill="#fff" stroke="#666" stroke-width=".7"/>
<path d="M58 33.5C63.7 34.19 65.4 40.75 65.4 48.34C65.4 56.96 60.22 63.86 58 68C55.78 63.86 50.6 56.96 50.6 48.34C50.6 40.75 52.3 34.19 58 33.5Z" fill="#f6f6f6" stroke="#555" stroke-width=".6"/>
<path d="M58 36.5C62.7 37.04 64.1 42.17 64.1 48.11C64.1 54.86 59.83 60.26 58 63.5C56.17 60.26 51.9 54.86 51.9 48.11C51.9 42.17 53.3 37.04 58 36.5Z" fill="#e2e2e2" stroke="#555" stroke-width=".6"/>
<path d="M58 39C61.77 39.41 62.9 43.3 62.9 47.81C62.9 52.94 59.47 57.04 58 59.5C56.53 57.04 53.1 52.94 53.1 47.81C53.1 43.3 54.23 39.41 58 39Z" fill="#cbcbcb" stroke="#555" stroke-width=".6"/>
<path d="M58 41.5C60.77 41.79 61.6 44.55 61.6 47.73C61.6 51.36 59.08 54.26 58 56C56.92 54.26 54.4 51.36 54.4 47.73C54.4 44.55 55.23 41.79 58 41.5Z" fill="#b6b6b6" stroke="#555" stroke-width=".6"/>
<path d="M58 44C59.69 44.17 60.2 45.79 60.2 47.66C60.2 49.78 58.66 51.48 58 52.5C57.34 51.48 55.8 49.78 55.8 47.66C55.8 45.79 56.31 44.17 58 44Z" fill="#a6a6a6" stroke="#555" stroke-width=".6"/>
<path d="M51.5 80.6C53.5 78.6 55.5 76.8 57.5 76.6C59.5 76.8 61.5 78.6 63.5 80.6Z" fill="#111"/>
<rect x="78" y="78.5" width="2.6" height="2.2" fill="#111"/>
<rect x=".4" y="78.8" width="1.6" height="1.8" fill="#111"/>
</g>
</svg>
</body>
</html>
